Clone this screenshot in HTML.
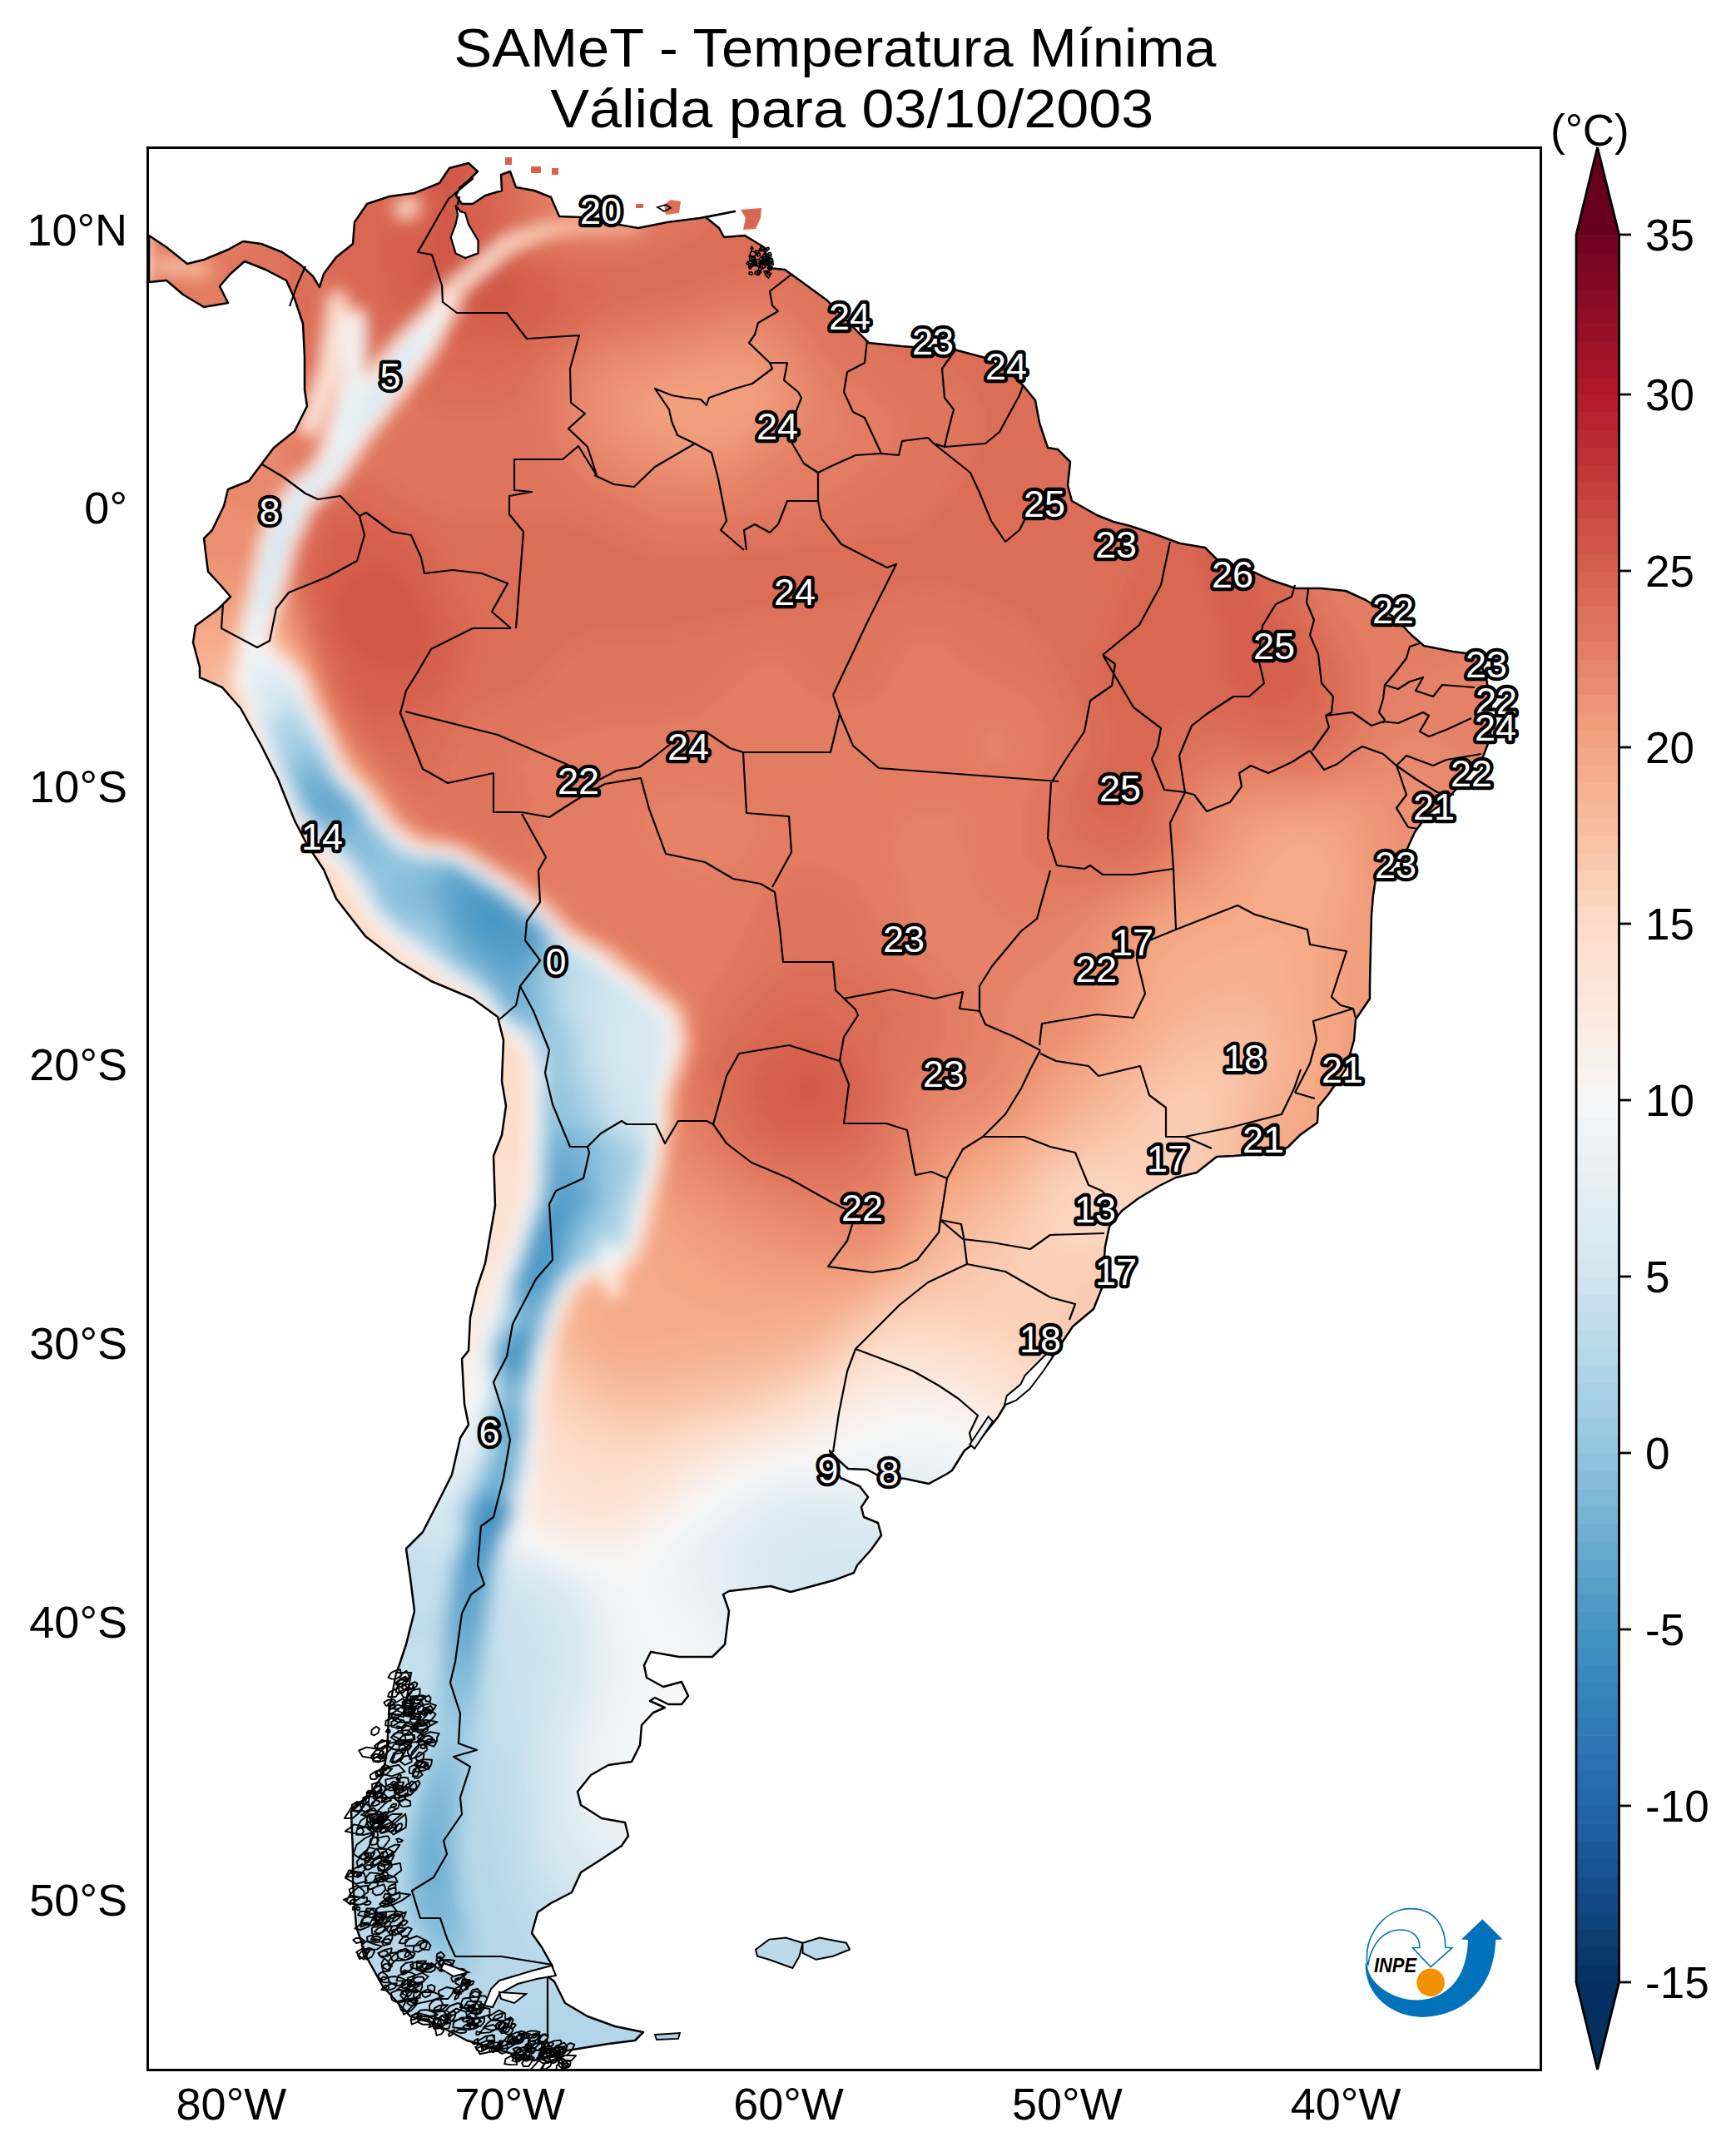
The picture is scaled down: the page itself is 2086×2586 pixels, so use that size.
<!DOCTYPE html>
<html><head><meta charset="utf-8"><style>
html,body{margin:0;padding:0;background:#fff;}
body{width:2086px;height:2586px;overflow:hidden;}
svg{display:block;}
text{font-family:"Liberation Sans",sans-serif;fill:#000;}
</style></head><body>
<svg width="2086" height="2586" viewBox="0 0 2086 2586">
<defs>
<clipPath id="land"><path d="M179,283 L200,297 L225,317 L245,312 L274,300 L292,290 L314,293 L339,303 L361,318 L376,332 L384,345 L389,329 L404,309 L424,293 L426,267 L441,245 L468,236 L498,232 L528,220 L540,202 L563,196 L574,206 L563,217 L553,225 L548,235 L555,245 L568,245 L583,235 L603,229 L602,210 L613,206 L620,225 L642,229 L662,237 L672,260 L697,261 L732,268 L767,274 L802,267 L841,262 L883,254 L848,261 L864,274 L870,285 L895,283 L918,297 L924,322 L943,324 L957,334 L994,361 L1030,398 L1044,412 L1083,416 L1150,421 L1184,430 L1214,448 L1230,464 L1244,481 L1249,508 L1259,538 L1271,540 L1286,555 L1283,583 L1288,602 L1318,619 L1338,627 L1358,632 L1388,642 L1418,653 L1448,658 L1462,672 L1497,683 L1527,697 L1557,707 L1587,707 L1617,710 L1641,721 L1676,742 L1696,763 L1711,776 L1746,783 L1776,787 L1786,816 L1792,846 L1791,886 L1781,912 L1761,935 L1738,962 L1716,978 L1700,1000 L1690,1022 L1671,1042 L1653,1056 L1650,1076 L1648,1100 L1647,1140 L1646,1184 L1646,1200 L1629,1225 L1627,1250 L1617,1285 L1597,1314 L1584,1330 L1583,1349 L1562,1364 L1547,1379 L1522,1386 L1482,1389 L1462,1390 L1438,1409 L1413,1415 L1393,1425 L1368,1440 L1348,1455 L1333,1474 L1328,1498 L1324,1548 L1314,1573 L1289,1594 L1273,1618 L1259,1639 L1239,1658 L1214,1678 L1199,1703 L1179,1728 L1159,1743 L1144,1767 L1138,1771 L1116,1783 L1088,1777 L1057,1774 L1042,1766 L1019,1765 L1007,1754 L997,1743 L1002,1760 L1010,1776 L1033,1786 L1043,1799 L1035,1811 L1038,1823 L1055,1830 L1059,1845 L1047,1862 L1030,1881 L1026,1890 L1002,1899 L950,1913 L926,1906 L876,1912 L869,1916 L876,1936 L871,1976 L856,1991 L816,1991 L782,1985 L774,2001 L777,2016 L797,2027 L819,2021 L827,2038 L819,2048 L803,2048 L787,2040 L781,2044 L799,2052 L785,2058 L771,2073 L769,2097 L759,2117 L731,2121 L710,2133 L694,2153 L698,2169 L723,2185 L751,2190 L755,2206 L747,2218 L723,2234 L698,2250 L687,2274 L662,2287 L646,2298 L639,2323 L651,2340 L664,2363 L650,2369 L666,2381 L679,2407 L706,2423 L739,2435 L773,2442 L763,2452 L731,2456 L682,2464 L642,2476 L602,2464 L561,2452 L521,2431 L493,2423 L460,2387 L440,2351 L428,2315 L424,2262 L424,2226 L422,2177 L444,2157 L460,2133 L465,2105 L467,2065 L477,2008 L478,2006 L488,1976 L498,1936 L493,1896 L488,1861 L508,1841 L528,1802 L543,1772 L553,1728 L563,1712 L558,1687 L555,1633 L563,1623 L565,1583 L573,1548 L583,1518 L590,1478 L595,1449 L593,1389 L603,1364 L608,1329 L603,1299 L605,1250 L598,1222 L568,1200 L518,1179 L478,1155 L439,1125 L404,1080 L389,1045 L369,1015 L354,986 L334,936 L314,896 L289,851 L267,826 L240,814 L240,802 L232,772 L235,752 L262,732 L277,717 L264,702 L250,687 L245,647 L255,637 L269,608 L274,588 L299,578 L314,558 L329,538 L354,518 L369,488 L366,468 L366,429 L364,389 L354,359 L344,337 L319,324 L294,314 L277,329 L264,344 L274,364 L245,369 L220,354 L200,337 L179,339Z"/></clipPath>
<clipPath id="frame"><rect x="178" y="178" width="1673" height="2309"/></clipPath>
<filter id="blur" x="-5%" y="-5%" width="110%" height="110%"><feGaussianBlur stdDeviation="9"/></filter>
</defs>

<g clip-path="url(#frame)"><g clip-path="url(#land)"><g filter="url(#blur)">
<path fill="#4393c3" d="M613 1625h9v9h-9zM579 1809h26v9h-26zM579 1817h26v9h-26zM579 1825h26v9h-26zM571 1834h26v9h-26zM571 1842h26v9h-26zM571 1850h18v9h-18z"/>
<path fill="#4b98c6" d="M571 1081h26v9h-26zM571 1089h43v9h-43zM571 1098h43v9h-43zM571 1106h51v9h-51zM579 1114h43v9h-43zM596 1123h9v9h-9zM663 1449h9v9h-9zM655 1457h18v9h-18zM655 1466h18v9h-18zM655 1474h18v9h-18zM646 1482h18v9h-18zM646 1491h18v9h-18zM646 1499h18v9h-18zM638 1508h26v9h-26zM638 1516h18v9h-18zM638 1524h18v9h-18zM629 1533h18v9h-18zM613 1616h18v9h-18zM604 1625h9v9h-9zM621 1625h9v9h-9zM604 1633h18v9h-18zM579 1800h26v9h-26zM571 1817h9v9h-9zM571 1825h9v9h-9zM563 1850h9v9h-9zM563 1859h26v9h-26zM563 1867h18v9h-18z"/>
<path fill="#539dc8" d="M554 1064h18v9h-18zM554 1073h34v9h-34zM554 1081h18v9h-18zM596 1081h9v9h-9zM554 1089h18v9h-18zM554 1098h18v9h-18zM613 1098h9v9h-9zM563 1106h9v9h-9zM621 1106h9v9h-9zM563 1114h18v9h-18zM621 1114h18v9h-18zM571 1123h26v9h-26zM604 1123h34v9h-34zM579 1131h60v9h-60zM596 1139h34v9h-34zM663 1432h18v9h-18zM663 1441h18v9h-18zM655 1449h9v9h-9zM671 1449h9v9h-9zM671 1457h9v9h-9zM671 1466h9v9h-9zM646 1474h9v9h-9zM663 1482h9v9h-9zM663 1491h9v9h-9zM638 1499h9v9h-9zM663 1499h9v9h-9zM655 1516h9v9h-9zM629 1524h9v9h-9zM646 1533h9v9h-9zM629 1541h18v9h-18zM613 1608h18v9h-18zM604 1616h9v9h-9zM621 1633h9v9h-9zM613 1641h9v9h-9zM571 1809h9v9h-9zM604 1809h9v9h-9zM604 1817h9v9h-9zM596 1834h9v9h-9zM563 1842h9v9h-9zM588 1850h9v9h-9zM579 1867h9v9h-9zM563 1876h18v9h-18zM563 1884h18v9h-18zM563 1892h18v9h-18z"/>
<path fill="#5ba2cb" d="M546 1056h18v9h-18zM546 1064h9v9h-9zM571 1064h9v9h-9zM546 1073h9v9h-9zM588 1073h9v9h-9zM546 1081h9v9h-9zM546 1089h9v9h-9zM546 1098h9v9h-9zM621 1098h9v9h-9zM554 1106h9v9h-9zM629 1106h9v9h-9zM554 1114h9v9h-9zM638 1114h9v9h-9zM563 1123h9v9h-9zM638 1123h9v9h-9zM571 1131h9v9h-9zM638 1131h9v9h-9zM579 1139h18v9h-18zM629 1139h9v9h-9zM596 1148h34v9h-34zM604 1156h18v9h-18zM671 1416h9v9h-9zM663 1424h26v9h-26zM680 1432h9v9h-9zM680 1441h9v9h-9zM680 1449h9v9h-9zM680 1457h9v9h-9zM646 1466h9v9h-9zM671 1474h9v9h-9zM671 1482h9v9h-9zM638 1491h9v9h-9zM663 1508h9v9h-9zM629 1516h9v9h-9zM655 1524h9v9h-9zM646 1541h9v9h-9zM629 1549h18v9h-18zM621 1600h18v9h-18zM629 1608h9v9h-9zM604 1641h9v9h-9zM621 1641h9v9h-9zM588 1792h9v9h-9zM563 1834h9v9h-9zM554 1867h9v9h-9zM554 1876h9v9h-9zM579 1876h9v9h-9zM554 1884h9v9h-9zM554 1892h9v9h-9zM554 1901h26v9h-26zM554 1909h26v9h-26zM554 1917h18v9h-18zM554 1926h18v9h-18z"/>
<path fill="#63a7ce" d="M387 964h18v9h-18zM537 1047h18v9h-18zM537 1056h9v9h-9zM563 1056h9v9h-9zM537 1064h9v9h-9zM579 1064h9v9h-9zM537 1073h9v9h-9zM537 1081h9v9h-9zM604 1081h9v9h-9zM537 1089h9v9h-9zM613 1089h9v9h-9zM537 1098h9v9h-9zM546 1106h9v9h-9zM546 1114h9v9h-9zM554 1123h9v9h-9zM563 1131h9v9h-9zM571 1139h9v9h-9zM638 1139h9v9h-9zM579 1148h18v9h-18zM629 1148h9v9h-9zM588 1156h18v9h-18zM621 1156h9v9h-9zM596 1165h34v9h-34zM671 1399h9v9h-9zM663 1407h26v9h-26zM663 1416h9v9h-9zM680 1416h9v9h-9zM688 1424h9v9h-9zM688 1432h9v9h-9zM655 1441h9v9h-9zM688 1441h9v9h-9zM688 1449h9v9h-9zM680 1466h9v9h-9zM680 1474h9v9h-9zM671 1491h9v9h-9zM671 1499h9v9h-9zM629 1508h9v9h-9zM663 1516h9v9h-9zM621 1533h9v9h-9zM655 1533h9v9h-9zM621 1541h9v9h-9zM621 1549h9v9h-9zM646 1549h9v9h-9zM629 1558h18v9h-18zM629 1591h9v9h-9zM613 1600h9v9h-9zM604 1608h9v9h-9zM629 1616h9v9h-9zM596 1625h9v9h-9zM613 1650h9v9h-9zM604 1708h9v9h-9zM604 1717h9v9h-9zM579 1792h9v9h-9zM596 1792h9v9h-9zM571 1800h9v9h-9zM604 1800h9v9h-9zM563 1817h9v9h-9zM563 1825h9v9h-9zM554 1859h9v9h-9zM588 1859h9v9h-9zM579 1884h9v9h-9zM579 1892h9v9h-9zM546 1909h9v9h-9zM546 1917h9v9h-9zM571 1917h9v9h-9zM546 1926h9v9h-9zM571 1926h9v9h-9zM546 1934h26v9h-26zM546 1943h26v9h-26zM546 1951h26v9h-26z"/>
<path fill="#6aacd0" d="M378 939h9v9h-9zM370 947h34v9h-34zM370 955h43v9h-43zM378 964h9v9h-9zM403 964h18v9h-18zM378 972h43v9h-43zM387 981h26v9h-26zM529 1047h9v9h-9zM529 1056h9v9h-9zM529 1064h9v9h-9zM529 1073h9v9h-9zM596 1073h9v9h-9zM529 1081h9v9h-9zM529 1089h9v9h-9zM537 1106h9v9h-9zM638 1106h9v9h-9zM546 1123h9v9h-9zM646 1123h9v9h-9zM554 1131h9v9h-9zM646 1131h9v9h-9zM563 1139h9v9h-9zM571 1148h9v9h-9zM638 1148h9v9h-9zM579 1156h9v9h-9zM629 1156h9v9h-9zM588 1165h9v9h-9zM629 1165h9v9h-9zM596 1173h34v9h-34zM604 1181h18v9h-18zM671 1382h9v9h-9zM663 1390h26v9h-26zM663 1399h9v9h-9zM680 1399h9v9h-9zM688 1407h9v9h-9zM688 1416h18v9h-18zM696 1424h9v9h-9zM655 1432h9v9h-9zM696 1432h9v9h-9zM696 1441h9v9h-9zM696 1449h9v9h-9zM646 1457h9v9h-9zM688 1457h9v9h-9zM638 1482h9v9h-9zM680 1482h9v9h-9zM671 1508h9v9h-9zM663 1524h9v9h-9zM655 1541h9v9h-9zM621 1558h9v9h-9zM646 1558h9v9h-9zM629 1566h18v9h-18zM629 1583h9v9h-9zM621 1591h9v9h-9zM629 1625h9v9h-9zM596 1633h9v9h-9zM604 1650h9v9h-9zM621 1650h9v9h-9zM604 1700h18v9h-18zM613 1708h9v9h-9zM613 1717h9v9h-9zM604 1725h18v9h-18zM604 1733h9v9h-9zM604 1742h9v9h-9zM604 1750h9v9h-9zM604 1758h9v9h-9zM596 1767h18v9h-18zM596 1775h9v9h-9zM588 1784h18v9h-18zM596 1842h9v9h-9zM546 1892h9v9h-9zM546 1901h9v9h-9zM579 1901h9v9h-9zM571 1934h9v9h-9zM571 1943h9v9h-9zM546 1959h26v9h-26zM546 1968h26v9h-26z"/>
<path fill="#72b1d3" d="M370 930h18v9h-18zM362 939h18v9h-18zM387 939h9v9h-9zM362 947h9v9h-9zM370 964h9v9h-9zM420 972h9v9h-9zM412 981h18v9h-18zM395 989h26v9h-26zM554 1047h9v9h-9zM521 1056h9v9h-9zM521 1064h9v9h-9zM521 1073h9v9h-9zM521 1081h9v9h-9zM529 1098h9v9h-9zM629 1098h9v9h-9zM537 1114h9v9h-9zM646 1114h9v9h-9zM546 1131h9v9h-9zM554 1139h9v9h-9zM646 1139h9v9h-9zM563 1148h9v9h-9zM638 1156h9v9h-9zM588 1173h9v9h-9zM629 1173h9v9h-9zM596 1181h9v9h-9zM621 1181h9v9h-9zM604 1190h26v9h-26zM613 1198h18v9h-18zM621 1206h9v9h-9zM663 1374h26v9h-26zM663 1382h9v9h-9zM680 1382h18v9h-18zM688 1390h9v9h-9zM688 1399h18v9h-18zM696 1407h9v9h-9zM655 1416h9v9h-9zM655 1424h9v9h-9zM705 1424h9v9h-9zM705 1432h9v9h-9zM705 1441h9v9h-9zM696 1457h9v9h-9zM688 1466h9v9h-9zM680 1491h9v9h-9zM671 1516h9v9h-9zM621 1524h9v9h-9zM663 1533h9v9h-9zM629 1574h18v9h-18zM638 1583h9v9h-9zM638 1591h9v9h-9zM596 1616h9v9h-9zM629 1633h9v9h-9zM613 1658h9v9h-9zM613 1683h9v9h-9zM604 1692h18v9h-18zM596 1700h9v9h-9zM596 1708h9v9h-9zM596 1717h9v9h-9zM613 1733h9v9h-9zM613 1742h9v9h-9zM596 1758h9v9h-9zM588 1775h9v9h-9zM604 1775h9v9h-9zM579 1784h9v9h-9zM571 1792h9v9h-9zM563 1809h9v9h-9zM604 1825h9v9h-9zM554 1850h9v9h-9zM588 1867h9v9h-9zM546 1876h9v9h-9zM546 1884h9v9h-9zM579 1909h9v9h-9zM537 1943h9v9h-9zM537 1951h9v9h-9zM571 1951h9v9h-9zM537 1959h9v9h-9zM546 1976h26v9h-26zM546 1984h18v9h-18zM512 2202h18v9h-18zM504 2210h26v9h-26zM504 2219h34v9h-34zM504 2227h34v9h-34zM504 2235h34v9h-34zM504 2244h34v9h-34zM504 2252h34v9h-34zM504 2260h34v9h-34zM529 2269h9v9h-9z"/>
<path fill="#7ab6d6" d="M370 922h18v9h-18zM362 930h9v9h-9zM387 930h9v9h-9zM395 939h9v9h-9zM403 947h9v9h-9zM362 955h9v9h-9zM412 955h9v9h-9zM370 972h9v9h-9zM378 981h9v9h-9zM420 989h9v9h-9zM403 997h26v9h-26zM529 1039h18v9h-18zM521 1047h9v9h-9zM512 1056h9v9h-9zM571 1056h9v9h-9zM512 1064h9v9h-9zM512 1073h9v9h-9zM512 1081h9v9h-9zM521 1089h9v9h-9zM521 1098h9v9h-9zM529 1106h9v9h-9zM537 1123h9v9h-9zM546 1139h9v9h-9zM554 1148h9v9h-9zM571 1156h9v9h-9zM579 1165h9v9h-9zM638 1165h9v9h-9zM629 1181h9v9h-9zM596 1190h9v9h-9zM629 1190h9v9h-9zM604 1198h9v9h-9zM629 1198h9v9h-9zM613 1206h9v9h-9zM629 1206h9v9h-9zM621 1215h18v9h-18zM663 1365h34v9h-34zM688 1374h18v9h-18zM696 1382h9v9h-9zM696 1390h9v9h-9zM655 1399h9v9h-9zM655 1407h9v9h-9zM705 1407h9v9h-9zM705 1416h9v9h-9zM646 1449h9v9h-9zM705 1449h9v9h-9zM638 1474h9v9h-9zM688 1474h9v9h-9zM629 1499h9v9h-9zM680 1499h9v9h-9zM655 1549h9v9h-9zM621 1566h9v9h-9zM646 1566h9v9h-9zM621 1574h9v9h-9zM621 1583h9v9h-9zM613 1591h9v9h-9zM604 1600h9v9h-9zM638 1600h9v9h-9zM596 1641h9v9h-9zM604 1658h9v9h-9zM621 1658h9v9h-9zM613 1666h9v9h-9zM613 1675h9v9h-9zM604 1683h9v9h-9zM596 1725h9v9h-9zM596 1733h9v9h-9zM596 1742h9v9h-9zM596 1750h9v9h-9zM613 1750h9v9h-9zM613 1758h9v9h-9zM588 1767h9v9h-9zM579 1917h9v9h-9zM537 1934h9v9h-9zM571 1959h9v9h-9zM537 1968h9v9h-9zM537 1976h9v9h-9zM537 1984h9v9h-9zM563 1984h9v9h-9zM537 1993h34v9h-34zM546 2001h18v9h-18zM512 2168h26v9h-26zM512 2177h26v9h-26zM504 2185h34v9h-34zM504 2193h34v9h-34zM504 2202h9v9h-9zM529 2202h9v9h-9zM529 2210h9v9h-9zM496 2235h9v9h-9zM496 2244h9v9h-9zM496 2252h9v9h-9zM496 2260h9v9h-9zM504 2269h26v9h-26zM537 2269h9v9h-9zM504 2277h43v9h-43zM504 2285h34v9h-34zM504 2294h34v9h-34z"/>
<path fill="#82bbd9" d="M370 914h9v9h-9zM362 922h9v9h-9zM353 930h9v9h-9zM353 939h9v9h-9zM420 964h9v9h-9zM429 981h9v9h-9zM387 989h9v9h-9zM429 989h9v9h-9zM429 997h9v9h-9zM412 1006h34v9h-34zM429 1014h18v9h-18zM512 1039h18v9h-18zM546 1039h9v9h-9zM504 1047h18v9h-18zM496 1056h18v9h-18zM496 1064h18v9h-18zM588 1064h9v9h-9zM487 1073h26v9h-26zM496 1081h18v9h-18zM512 1089h9v9h-9zM621 1089h9v9h-9zM521 1106h9v9h-9zM529 1114h9v9h-9zM537 1131h9v9h-9zM646 1148h9v9h-9zM563 1156h9v9h-9zM571 1165h9v9h-9zM579 1173h9v9h-9zM638 1173h9v9h-9zM588 1181h9v9h-9zM638 1181h9v9h-9zM638 1190h9v9h-9zM638 1198h9v9h-9zM604 1206h9v9h-9zM638 1206h9v9h-9zM638 1215h9v9h-9zM638 1223h9v9h-9zM663 1357h26v9h-26zM696 1365h9v9h-9zM705 1374h9v9h-9zM655 1382h9v9h-9zM705 1382h9v9h-9zM655 1390h9v9h-9zM705 1390h9v9h-9zM705 1399h9v9h-9zM713 1416h9v9h-9zM713 1424h9v9h-9zM713 1432h9v9h-9zM713 1441h9v9h-9zM705 1457h9v9h-9zM696 1466h9v9h-9zM688 1482h9v9h-9zM680 1508h9v9h-9zM671 1524h9v9h-9zM596 1608h9v9h-9zM638 1608h9v9h-9zM629 1641h9v9h-9zM604 1666h9v9h-9zM621 1666h9v9h-9zM604 1675h9v9h-9zM596 1692h9v9h-9zM621 1700h9v9h-9zM621 1708h9v9h-9zM621 1717h9v9h-9zM588 1758h9v9h-9zM613 1767h9v9h-9zM579 1775h9v9h-9zM604 1784h9v9h-9zM604 1792h9v9h-9zM563 1800h9v9h-9zM588 1876h9v9h-9zM537 1917h9v9h-9zM537 1926h9v9h-9zM579 1926h9v9h-9zM571 1968h9v9h-9zM571 1976h9v9h-9zM537 2001h9v9h-9zM563 2001h9v9h-9zM537 2009h34v9h-34zM546 2018h18v9h-18zM512 2143h26v9h-26zM512 2152h34v9h-34zM512 2160h34v9h-34zM504 2168h9v9h-9zM537 2168h9v9h-9zM504 2177h9v9h-9zM537 2177h9v9h-9zM537 2185h9v9h-9zM537 2193h9v9h-9zM496 2202h9v9h-9zM537 2202h9v9h-9zM496 2210h9v9h-9zM496 2219h9v9h-9zM496 2227h9v9h-9zM537 2227h9v9h-9zM537 2235h9v9h-9zM537 2244h9v9h-9zM537 2252h9v9h-9zM537 2260h9v9h-9zM496 2269h9v9h-9zM496 2277h9v9h-9zM496 2285h9v9h-9zM537 2285h9v9h-9zM537 2294h9v9h-9zM504 2302h43v9h-43zM512 2311h34v9h-34zM521 2319h18v9h-18z"/>
<path fill="#8ac0db" d="M370 905h9v9h-9zM362 914h9v9h-9zM378 914h9v9h-9zM353 922h9v9h-9zM387 922h9v9h-9zM362 964h9v9h-9zM429 972h9v9h-9zM395 997h9v9h-9zM437 997h9v9h-9zM445 1006h9v9h-9zM420 1014h9v9h-9zM445 1014h9v9h-9zM429 1022h34v9h-34zM437 1031h26v9h-26zM479 1039h34v9h-34zM470 1047h34v9h-34zM462 1056h34v9h-34zM462 1064h34v9h-34zM462 1073h26v9h-26zM470 1081h26v9h-26zM613 1081h9v9h-9zM479 1089h34v9h-34zM504 1098h18v9h-18zM521 1114h9v9h-9zM529 1123h9v9h-9zM655 1123h9v9h-9zM655 1131h9v9h-9zM537 1139h9v9h-9zM546 1148h9v9h-9zM554 1156h9v9h-9zM646 1156h9v9h-9zM596 1198h9v9h-9zM646 1198h9v9h-9zM646 1206h9v9h-9zM613 1215h9v9h-9zM646 1215h9v9h-9zM629 1223h9v9h-9zM646 1223h9v9h-9zM663 1332h9v9h-9zM663 1340h9v9h-9zM663 1349h26v9h-26zM688 1357h18v9h-18zM705 1365h9v9h-9zM655 1374h9v9h-9zM713 1374h9v9h-9zM713 1382h9v9h-9zM713 1390h9v9h-9zM713 1399h9v9h-9zM713 1407h9v9h-9zM722 1424h9v9h-9zM713 1449h9v9h-9zM696 1474h9v9h-9zM688 1491h9v9h-9zM621 1516h9v9h-9zM613 1541h9v9h-9zM663 1541h9v9h-9zM613 1549h9v9h-9zM655 1558h9v9h-9zM646 1574h9v9h-9zM613 1583h9v9h-9zM596 1650h9v9h-9zM621 1675h9v9h-9zM621 1683h9v9h-9zM621 1692h9v9h-9zM621 1725h9v9h-9zM588 1750h9v9h-9zM571 1784h9v9h-9zM554 1842h9v9h-9zM546 1867h9v9h-9zM537 1909h9v9h-9zM579 1934h9v9h-9zM571 1984h9v9h-9zM537 2018h9v9h-9zM563 2018h9v9h-9zM537 2026h26v9h-26zM537 2035h26v9h-26zM521 2127h26v9h-26zM512 2135h34v9h-34zM537 2143h9v9h-9zM504 2160h9v9h-9zM496 2193h9v9h-9zM537 2210h9v9h-9zM537 2219h9v9h-9zM546 2294h9v9h-9zM546 2302h9v9h-9zM546 2311h9v9h-9zM512 2319h9v9h-9zM537 2319h9v9h-9zM521 2327h26v9h-26z"/>
<path fill="#92c5de" d="M362 905h9v9h-9zM353 914h9v9h-9zM353 947h9v9h-9zM437 989h9v9h-9zM445 997h9v9h-9zM403 1006h9v9h-9zM412 1014h9v9h-9zM454 1014h9v9h-9zM420 1022h9v9h-9zM462 1022h9v9h-9zM429 1031h9v9h-9zM462 1031h26v9h-26zM437 1039h43v9h-43zM445 1047h26v9h-26zM563 1047h9v9h-9zM454 1056h9v9h-9zM454 1064h9v9h-9zM604 1073h9v9h-9zM462 1081h9v9h-9zM470 1089h9v9h-9zM479 1098h26v9h-26zM504 1106h18v9h-18zM521 1123h9v9h-9zM529 1131h9v9h-9zM655 1139h9v9h-9zM563 1165h9v9h-9zM646 1165h9v9h-9zM646 1173h9v9h-9zM646 1181h9v9h-9zM646 1190h9v9h-9zM621 1223h9v9h-9zM655 1223h9v9h-9zM638 1231h26v9h-26zM663 1298h9v9h-9zM663 1307h18v9h-18zM663 1315h18v9h-18zM663 1324h18v9h-18zM671 1332h9v9h-9zM671 1340h18v9h-18zM688 1349h9v9h-9zM655 1357h9v9h-9zM705 1357h9v9h-9zM655 1365h9v9h-9zM713 1365h9v9h-9zM722 1382h9v9h-9zM722 1390h9v9h-9zM722 1399h9v9h-9zM722 1407h9v9h-9zM722 1416h9v9h-9zM722 1432h9v9h-9zM646 1441h9v9h-9zM722 1441h9v9h-9zM713 1457h9v9h-9zM638 1466h9v9h-9zM705 1466h9v9h-9zM696 1482h9v9h-9zM629 1491h9v9h-9zM688 1499h9v9h-9zM680 1516h9v9h-9zM613 1558h9v9h-9zM613 1566h9v9h-9zM613 1574h9v9h-9zM646 1583h9v9h-9zM604 1591h9v9h-9zM629 1650h9v9h-9zM596 1683h9v9h-9zM588 1700h9v9h-9zM588 1708h9v9h-9zM588 1717h9v9h-9zM579 1767h9v9h-9zM554 1817h9v9h-9zM588 1884h9v9h-9zM537 1901h9v9h-9zM579 1943h9v9h-9zM529 1993h9v9h-9zM571 1993h9v9h-9zM529 2001h9v9h-9zM529 2009h9v9h-9zM529 2018h9v9h-9zM563 2026h9v9h-9zM563 2035h9v9h-9zM537 2043h26v9h-26zM537 2051h26v9h-26zM521 2110h26v9h-26zM521 2118h34v9h-34zM512 2127h9v9h-9zM546 2127h9v9h-9zM546 2135h9v9h-9zM504 2143h9v9h-9zM546 2143h9v9h-9zM504 2152h9v9h-9zM546 2152h9v9h-9zM546 2160h9v9h-9zM546 2168h9v9h-9zM496 2185h9v9h-9zM546 2285h9v9h-9zM496 2294h9v9h-9zM504 2311h9v9h-9zM546 2319h9v9h-9zM512 2327h9v9h-9zM546 2327h9v9h-9zM521 2336h18v9h-18z"/>
<path fill="#98c8e0" d="M362 897h18v9h-18zM353 905h9v9h-9zM378 905h9v9h-9zM345 914h9v9h-9zM345 922h9v9h-9zM345 930h9v9h-9zM395 930h9v9h-9zM370 981h9v9h-9zM454 1006h9v9h-9zM462 1014h9v9h-9zM470 1022h9v9h-9zM487 1031h9v9h-9zM437 1047h9v9h-9zM445 1056h9v9h-9zM579 1056h9v9h-9zM454 1073h9v9h-9zM462 1089h9v9h-9zM638 1098h9v9h-9zM487 1106h18v9h-18zM646 1106h9v9h-9zM504 1114h18v9h-18zM521 1131h9v9h-9zM529 1139h9v9h-9zM537 1148h9v9h-9zM655 1148h9v9h-9zM571 1173h9v9h-9zM655 1198h9v9h-9zM655 1206h9v9h-9zM655 1215h9v9h-9zM663 1231h9v9h-9zM646 1240h26v9h-26zM655 1248h18v9h-18zM655 1257h18v9h-18zM663 1265h9v9h-9zM663 1273h9v9h-9zM663 1282h9v9h-9zM663 1290h18v9h-18zM671 1298h9v9h-9zM680 1307h9v9h-9zM680 1315h9v9h-9zM655 1324h9v9h-9zM680 1324h9v9h-9zM655 1332h9v9h-9zM680 1332h9v9h-9zM655 1340h9v9h-9zM688 1340h9v9h-9zM655 1349h9v9h-9zM696 1349h9v9h-9zM713 1357h9v9h-9zM722 1374h9v9h-9zM730 1399h9v9h-9zM730 1407h9v9h-9zM730 1416h9v9h-9zM730 1424h9v9h-9zM722 1449h9v9h-9zM713 1466h9v9h-9zM705 1474h9v9h-9zM696 1491h9v9h-9zM688 1508h9v9h-9zM596 1600h9v9h-9zM638 1616h9v9h-9zM596 1658h9v9h-9zM596 1675h9v9h-9zM588 1725h9v9h-9zM588 1733h9v9h-9zM621 1733h9v9h-9zM588 1742h9v9h-9zM613 1775h9v9h-9zM563 1792h9v9h-9zM554 1809h9v9h-9zM554 1825h9v9h-9zM554 1834h9v9h-9zM596 1850h9v9h-9zM537 1892h9v9h-9zM588 1892h9v9h-9zM579 1951h9v9h-9zM529 1959h9v9h-9zM529 1968h9v9h-9zM529 1976h9v9h-9zM529 1984h9v9h-9zM571 2001h9v9h-9zM571 2009h9v9h-9zM529 2026h9v9h-9zM529 2035h9v9h-9zM529 2043h9v9h-9zM563 2043h9v9h-9zM529 2051h9v9h-9zM529 2060h34v9h-34zM537 2068h26v9h-26zM529 2093h26v9h-26zM521 2101h34v9h-34zM546 2110h9v9h-9zM512 2118h9v9h-9zM504 2135h9v9h-9zM496 2168h9v9h-9zM496 2177h9v9h-9zM546 2177h9v9h-9zM546 2185h9v9h-9zM546 2193h9v9h-9zM487 2210h9v9h-9zM487 2219h9v9h-9zM487 2227h9v9h-9zM487 2235h9v9h-9zM487 2244h9v9h-9zM487 2252h9v9h-9zM546 2252h9v9h-9zM487 2260h9v9h-9zM546 2260h9v9h-9zM546 2269h9v9h-9zM546 2277h9v9h-9zM496 2302h9v9h-9zM554 2311h9v9h-9zM504 2319h9v9h-9zM554 2319h9v9h-9zM554 2327h9v9h-9zM512 2336h9v9h-9zM537 2336h18v9h-18zM529 2344h18v9h-18z"/>
<path fill="#9fcbe2" d="M362 889h9v9h-9zM353 897h9v9h-9zM345 905h9v9h-9zM403 939h9v9h-9zM412 947h9v9h-9zM353 955h9v9h-9zM420 955h9v9h-9zM362 972h9v9h-9zM378 989h9v9h-9zM387 997h9v9h-9zM496 1031h43v9h-43zM429 1039h9v9h-9zM445 1064h9v9h-9zM454 1081h9v9h-9zM470 1098h9v9h-9zM496 1114h9v9h-9zM512 1123h9v9h-9zM546 1156h9v9h-9zM655 1156h9v9h-9zM655 1165h9v9h-9zM655 1173h9v9h-9zM579 1181h9v9h-9zM655 1181h9v9h-9zM588 1190h9v9h-9zM655 1190h9v9h-9zM604 1215h9v9h-9zM663 1223h9v9h-9zM671 1240h9v9h-9zM646 1248h9v9h-9zM671 1248h9v9h-9zM671 1257h9v9h-9zM655 1265h9v9h-9zM671 1265h9v9h-9zM655 1273h9v9h-9zM671 1273h9v9h-9zM671 1282h9v9h-9zM680 1290h9v9h-9zM655 1298h9v9h-9zM680 1298h9v9h-9zM655 1307h9v9h-9zM655 1315h9v9h-9zM688 1315h9v9h-9zM688 1324h9v9h-9zM688 1332h9v9h-9zM696 1340h9v9h-9zM705 1349h9v9h-9zM722 1365h9v9h-9zM730 1374h9v9h-9zM730 1382h9v9h-9zM730 1390h18v9h-18zM738 1399h9v9h-9zM738 1407h9v9h-9zM738 1416h9v9h-9zM730 1432h9v9h-9zM730 1441h9v9h-9zM722 1457h9v9h-9zM713 1474h9v9h-9zM705 1482h9v9h-9zM705 1491h9v9h-9zM696 1499h9v9h-9zM613 1533h9v9h-9zM671 1533h9v9h-9zM596 1666h9v9h-9zM579 1758h9v9h-9zM571 1775h9v9h-9zM604 1834h9v9h-9zM546 1859h9v9h-9zM588 1901h9v9h-9zM529 1943h9v9h-9zM529 1951h9v9h-9zM579 1959h9v9h-9zM571 2018h9v9h-9zM563 2051h9v9h-9zM563 2060h9v9h-9zM529 2068h9v9h-9zM529 2076h34v9h-34zM529 2085h34v9h-34zM521 2093h9v9h-9zM554 2093h9v9h-9zM554 2101h9v9h-9zM512 2110h9v9h-9zM554 2110h9v9h-9zM554 2118h9v9h-9zM554 2127h9v9h-9zM554 2135h9v9h-9zM496 2160h9v9h-9zM487 2202h9v9h-9zM546 2202h9v9h-9zM546 2210h9v9h-9zM546 2219h9v9h-9zM546 2227h9v9h-9zM546 2235h9v9h-9zM546 2244h9v9h-9zM487 2269h9v9h-9zM487 2277h9v9h-9zM487 2285h9v9h-9zM554 2294h9v9h-9zM554 2302h9v9h-9zM504 2327h9v9h-9zM554 2336h9v9h-9zM521 2344h9v9h-9zM546 2344h18v9h-18zM529 2352h34v9h-34zM529 2361h34v9h-34z"/>
<path fill="#a5cfe3" d="M345 889h18v9h-18zM370 889h9v9h-9zM345 897h9v9h-9zM378 897h9v9h-9zM387 914h9v9h-9zM345 939h9v9h-9zM429 964h9v9h-9zM437 981h9v9h-9zM395 1006h9v9h-9zM479 1022h9v9h-9zM420 1031h9v9h-9zM554 1039h9v9h-9zM479 1106h9v9h-9zM655 1114h9v9h-9zM504 1123h9v9h-9zM663 1139h9v9h-9zM596 1206h9v9h-9zM663 1206h9v9h-9zM663 1215h9v9h-9zM613 1223h9v9h-9zM629 1231h9v9h-9zM671 1231h9v9h-9zM680 1257h9v9h-9zM680 1265h9v9h-9zM680 1273h9v9h-9zM655 1282h9v9h-9zM680 1282h9v9h-9zM655 1290h9v9h-9zM688 1298h9v9h-9zM688 1307h9v9h-9zM696 1324h9v9h-9zM696 1332h9v9h-9zM705 1340h9v9h-9zM713 1349h9v9h-9zM722 1357h9v9h-9zM730 1365h9v9h-9zM738 1374h9v9h-9zM738 1382h18v9h-18zM747 1390h9v9h-9zM747 1399h9v9h-9zM747 1407h9v9h-9zM747 1416h9v9h-9zM738 1424h9v9h-9zM646 1432h9v9h-9zM738 1432h9v9h-9zM730 1449h9v9h-9zM638 1457h9v9h-9zM730 1457h9v9h-9zM722 1466h9v9h-9zM722 1474h9v9h-9zM629 1482h9v9h-9zM713 1482h9v9h-9zM705 1499h9v9h-9zM621 1508h9v9h-9zM696 1508h9v9h-9zM663 1549h9v9h-9zM655 1566h9v9h-9zM604 1583h9v9h-9zM646 1591h9v9h-9zM588 1625h9v9h-9zM629 1658h9v9h-9zM588 1692h9v9h-9zM621 1742h9v9h-9zM537 1884h9v9h-9zM588 1909h9v9h-9zM529 1934h9v9h-9zM579 1968h9v9h-9zM571 2026h9v9h-9zM563 2068h9v9h-9zM563 2076h9v9h-9zM521 2085h9v9h-9zM512 2101h9v9h-9zM504 2127h9v9h-9zM554 2143h9v9h-9zM496 2152h9v9h-9zM554 2152h9v9h-9zM487 2193h9v9h-9zM554 2285h9v9h-9zM487 2294h9v9h-9zM496 2311h9v9h-9zM563 2319h9v9h-9zM563 2327h9v9h-9zM563 2336h9v9h-9zM512 2344h9v9h-9zM563 2344h9v9h-9zM521 2352h9v9h-9zM563 2352h9v9h-9zM521 2361h9v9h-9zM563 2361h9v9h-9zM529 2369h34v9h-34z"/>
<path fill="#abd2e5" d="M345 872h18v9h-18zM337 880h34v9h-34zM337 889h9v9h-9zM337 897h9v9h-9zM337 905h9v9h-9zM337 914h9v9h-9zM445 989h9v9h-9zM403 1014h9v9h-9zM412 1022h9v9h-9zM537 1031h9v9h-9zM437 1056h9v9h-9zM487 1114h9v9h-9zM512 1131h9v9h-9zM663 1131h9v9h-9zM521 1139h9v9h-9zM663 1148h9v9h-9zM663 1156h9v9h-9zM554 1165h9v9h-9zM663 1165h9v9h-9zM663 1173h9v9h-9zM663 1181h9v9h-9zM663 1190h9v9h-9zM663 1198h9v9h-9zM671 1223h9v9h-9zM638 1240h9v9h-9zM680 1240h9v9h-9zM680 1248h9v9h-9zM646 1257h9v9h-9zM688 1290h9v9h-9zM696 1307h9v9h-9zM696 1315h9v9h-9zM705 1332h9v9h-9zM738 1365h9v9h-9zM747 1374h9v9h-9zM755 1382h9v9h-9zM755 1390h9v9h-9zM755 1399h9v9h-9zM755 1407h9v9h-9zM646 1416h9v9h-9zM646 1424h9v9h-9zM747 1424h9v9h-9zM747 1432h9v9h-9zM738 1441h9v9h-9zM738 1449h9v9h-9zM738 1457h9v9h-9zM730 1466h9v9h-9zM730 1474h9v9h-9zM688 1516h9v9h-9zM680 1524h9v9h-9zM588 1616h9v9h-9zM638 1625h9v9h-9zM588 1633h9v9h-9zM579 1750h9v9h-9zM621 1750h9v9h-9zM621 1758h9v9h-9zM613 1784h9v9h-9zM554 1800h9v9h-9zM613 1809h9v9h-9zM596 1859h9v9h-9zM537 1876h9v9h-9zM588 1917h9v9h-9zM529 1926h9v9h-9zM579 1976h9v9h-9zM521 2026h9v9h-9zM521 2035h9v9h-9zM571 2035h9v9h-9zM521 2043h9v9h-9zM571 2043h9v9h-9zM521 2051h9v9h-9zM521 2060h9v9h-9zM521 2068h9v9h-9zM521 2076h9v9h-9zM563 2085h9v9h-9zM563 2093h9v9h-9zM563 2101h9v9h-9zM563 2110h9v9h-9zM504 2118h9v9h-9zM496 2143h9v9h-9zM554 2160h9v9h-9zM554 2168h9v9h-9zM554 2177h9v9h-9zM487 2185h9v9h-9zM554 2185h9v9h-9zM554 2252h9v9h-9zM554 2260h9v9h-9zM554 2269h9v9h-9zM554 2277h9v9h-9zM487 2302h9v9h-9zM563 2302h9v9h-9zM563 2311h9v9h-9zM496 2319h9v9h-9zM504 2336h9v9h-9zM571 2344h9v9h-9zM512 2352h9v9h-9zM571 2352h9v9h-9zM563 2369h9v9h-9z"/>
<path fill="#b2d5e7" d="M337 863h26v9h-26zM328 872h18v9h-18zM362 872h9v9h-9zM328 880h9v9h-9zM454 997h9v9h-9zM462 1006h9v9h-9zM470 1014h9v9h-9zM429 1047h9v9h-9zM596 1064h9v9h-9zM445 1073h9v9h-9zM454 1089h9v9h-9zM629 1089h9v9h-9zM462 1098h9v9h-9zM496 1123h9v9h-9zM529 1148h9v9h-9zM671 1148h9v9h-9zM671 1156h9v9h-9zM563 1173h9v9h-9zM671 1206h9v9h-9zM671 1215h9v9h-9zM680 1231h9v9h-9zM688 1248h9v9h-9zM688 1257h9v9h-9zM646 1265h9v9h-9zM688 1265h9v9h-9zM688 1273h9v9h-9zM688 1282h9v9h-9zM696 1290h9v9h-9zM696 1298h9v9h-9zM705 1307h9v9h-9zM705 1315h9v9h-9zM705 1324h9v9h-9zM713 1340h9v9h-9zM722 1349h9v9h-9zM730 1357h9v9h-9zM755 1374h9v9h-9zM763 1382h9v9h-9zM763 1390h9v9h-9zM646 1399h9v9h-9zM646 1407h9v9h-9zM755 1416h9v9h-9zM755 1424h9v9h-9zM747 1441h9v9h-9zM747 1449h9v9h-9zM738 1466h9v9h-9zM738 1474h9v9h-9zM722 1482h26v9h-26zM713 1491h9v9h-9zM604 1574h9v9h-9zM588 1641h9v9h-9zM588 1683h9v9h-9zM571 1767h9v9h-9zM563 1784h9v9h-9zM613 1800h9v9h-9zM613 1817h9v9h-9zM546 1850h9v9h-9zM529 1917h9v9h-9zM588 1926h9v9h-9zM579 1984h9v9h-9zM521 1993h9v9h-9zM579 1993h9v9h-9zM521 2001h9v9h-9zM521 2009h9v9h-9zM521 2018h9v9h-9zM571 2051h9v9h-9zM571 2060h9v9h-9zM512 2093h9v9h-9zM504 2110h9v9h-9zM563 2118h9v9h-9zM563 2127h9v9h-9zM496 2135h9v9h-9zM563 2135h9v9h-9zM487 2168h9v9h-9zM487 2177h9v9h-9zM554 2193h9v9h-9zM554 2202h9v9h-9zM479 2210h9v9h-9zM554 2210h9v9h-9zM479 2219h9v9h-9zM554 2219h9v9h-9zM479 2227h9v9h-9zM554 2227h9v9h-9zM479 2235h9v9h-9zM554 2235h18v9h-18zM479 2244h9v9h-9zM554 2244h18v9h-18zM479 2252h9v9h-9zM563 2252h9v9h-9zM479 2260h9v9h-9zM563 2260h18v9h-18zM479 2269h9v9h-9zM563 2269h18v9h-18zM479 2277h9v9h-9zM563 2277h18v9h-18zM479 2285h9v9h-9zM563 2285h18v9h-18zM479 2294h9v9h-9zM563 2294h26v9h-26zM571 2302h18v9h-18zM487 2311h9v9h-9zM571 2311h18v9h-18zM487 2319h9v9h-9zM571 2319h18v9h-18zM496 2327h9v9h-9zM571 2327h18v9h-18zM496 2336h9v9h-9zM571 2336h18v9h-18zM504 2344h9v9h-9zM579 2344h9v9h-9zM504 2352h9v9h-9zM579 2352h9v9h-9zM420 2361h9v9h-9zM512 2361h9v9h-9zM571 2361h9v9h-9zM403 2369h34v9h-34zM521 2369h9v9h-9zM571 2369h9v9h-9zM412 2377h18v9h-18zM529 2377h34v9h-34zM412 2386h9v9h-9zM730 2394h26v9h-26zM638 2403h152v9h-152zM613 2411h185v9h-185zM604 2419h202v9h-202zM596 2428h219v9h-219zM588 2436h227v9h-227zM579 2444h235v9h-235zM579 2453h235v9h-235zM571 2461h235v9h-235zM563 2470h235v9h-235zM554 2478h235v9h-235z"/>
<path fill="#b8d8e9" d="M337 855h18v9h-18zM328 863h9v9h-9zM370 880h9v9h-9zM328 889h9v9h-9zM337 922h9v9h-9zM353 964h9v9h-9zM487 1022h9v9h-9zM571 1047h9v9h-9zM470 1106h9v9h-9zM671 1139h9v9h-9zM537 1156h9v9h-9zM680 1156h9v9h-9zM671 1165h18v9h-18zM671 1173h9v9h-9zM671 1181h9v9h-9zM671 1190h9v9h-9zM588 1198h9v9h-9zM671 1198h9v9h-9zM680 1215h9v9h-9zM680 1223h9v9h-9zM688 1231h9v9h-9zM688 1240h9v9h-9zM696 1273h9v9h-9zM696 1282h9v9h-9zM705 1298h9v9h-9zM713 1315h9v9h-9zM713 1324h9v9h-9zM713 1332h9v9h-9zM722 1340h9v9h-9zM730 1349h9v9h-9zM738 1357h9v9h-9zM747 1365h18v9h-18zM763 1374h9v9h-9zM646 1382h9v9h-9zM646 1390h9v9h-9zM763 1399h9v9h-9zM755 1432h9v9h-9zM747 1457h9v9h-9zM621 1499h9v9h-9zM713 1499h9v9h-9zM705 1508h9v9h-9zM613 1524h9v9h-9zM596 1591h9v9h-9zM646 1600h9v9h-9zM588 1608h9v9h-9zM638 1633h9v9h-9zM629 1666h9v9h-9zM579 1708h9v9h-9zM629 1708h9v9h-9zM579 1742h9v9h-9zM621 1767h9v9h-9zM613 1792h9v9h-9zM546 1817h9v9h-9zM537 1867h9v9h-9zM596 1867h9v9h-9zM529 1901h9v9h-9zM529 1909h9v9h-9zM588 1934h9v9h-9zM521 1951h9v9h-9zM521 1959h9v9h-9zM521 1968h9v9h-9zM521 1976h9v9h-9zM521 1984h9v9h-9zM579 2001h9v9h-9zM579 2009h9v9h-9zM571 2068h9v9h-9zM571 2076h9v9h-9zM512 2085h9v9h-9zM571 2085h9v9h-9zM571 2093h9v9h-9zM571 2101h9v9h-9zM496 2127h9v9h-9zM571 2135h9v9h-9zM563 2143h18v9h-18zM563 2152h26v9h-26zM487 2160h9v9h-9zM563 2160h26v9h-26zM563 2168h26v9h-26zM563 2177h34v9h-34zM479 2185h9v9h-9zM563 2185h34v9h-34zM479 2193h9v9h-9zM563 2193h34v9h-34zM479 2202h9v9h-9zM563 2202h34v9h-34zM387 2210h93v9h-93zM563 2210h34v9h-34zM387 2219h93v9h-93zM563 2219h34v9h-34zM387 2227h93v9h-93zM563 2227h43v9h-43zM387 2235h93v9h-93zM571 2235h34v9h-34zM387 2244h93v9h-93zM571 2244h34v9h-34zM387 2252h93v9h-93zM571 2252h34v9h-34zM387 2260h93v9h-93zM579 2260h26v9h-26zM387 2269h93v9h-93zM579 2269h34v9h-34zM387 2277h93v9h-93zM579 2277h34v9h-34zM387 2285h93v9h-93zM579 2285h34v9h-34zM387 2294h93v9h-93zM588 2294h34v9h-34zM387 2302h101v9h-101zM588 2302h34v9h-34zM387 2311h101v9h-101zM588 2311h43v9h-43zM387 2319h101v9h-101zM588 2319h43v9h-43zM387 2327h110v9h-110zM588 2327h51v9h-51zM395 2336h101v9h-101zM588 2336h51v9h-51zM395 2344h110v9h-110zM588 2344h60v9h-60zM395 2352h110v9h-110zM588 2352h76v9h-76zM403 2361h18v9h-18zM429 2361h85v9h-85zM579 2361h118v9h-118zM437 2369h85v9h-85zM579 2369h127v9h-127zM429 2377h101v9h-101zM563 2377h152v9h-152zM420 2386h311v9h-311zM420 2394h311v9h-311zM420 2403h85v9h-85zM537 2403h101v9h-101zM429 2411h68v9h-68zM537 2411h76v9h-76zM437 2419h43v9h-43zM537 2419h68v9h-68zM445 2428h26v9h-26zM537 2428h60v9h-60zM454 2436h9v9h-9zM529 2436h60v9h-60zM529 2444h51v9h-51zM521 2453h60v9h-60zM521 2461h51v9h-51zM512 2470h51v9h-51zM529 2478h26v9h-26z"/>
<path fill="#bedbeb" d="M345 847h9v9h-9zM353 855h9v9h-9zM362 863h9v9h-9zM378 889h9v9h-9zM328 897h9v9h-9zM387 905h9v9h-9zM395 922h9v9h-9zM345 947h9v9h-9zM437 972h9v9h-9zM479 1114h9v9h-9zM663 1123h9v9h-9zM504 1131h9v9h-9zM680 1148h9v9h-9zM688 1156h9v9h-9zM688 1165h9v9h-9zM680 1173h18v9h-18zM571 1181h9v9h-9zM680 1181h18v9h-18zM680 1190h9v9h-9zM680 1198h9v9h-9zM680 1206h9v9h-9zM688 1223h9v9h-9zM621 1231h9v9h-9zM696 1240h9v9h-9zM638 1248h9v9h-9zM696 1248h9v9h-9zM696 1257h9v9h-9zM696 1265h9v9h-9zM705 1282h9v9h-9zM705 1290h9v9h-9zM713 1298h9v9h-9zM713 1307h9v9h-9zM722 1324h9v9h-9zM722 1332h9v9h-9zM747 1357h9v9h-9zM646 1365h9v9h-9zM646 1374h9v9h-9zM763 1407h9v9h-9zM638 1449h9v9h-9zM747 1466h9v9h-9zM629 1474h9v9h-9zM738 1491h9v9h-9zM604 1558h9v9h-9zM604 1566h9v9h-9zM655 1574h9v9h-9zM588 1650h9v9h-9zM588 1675h9v9h-9zM629 1675h9v9h-9zM629 1683h9v9h-9zM629 1692h9v9h-9zM579 1700h9v9h-9zM629 1700h9v9h-9zM579 1717h9v9h-9zM629 1717h9v9h-9zM579 1725h9v9h-9zM579 1733h9v9h-9zM571 1758h9v9h-9zM554 1792h9v9h-9zM546 1809h9v9h-9zM546 1825h9v9h-9zM596 1876h9v9h-9zM529 1892h9v9h-9zM521 1926h9v9h-9zM454 1934h34v9h-34zM521 1934h9v9h-9zM454 1943h76v9h-76zM588 1943h9v9h-9zM454 1951h68v9h-68zM588 1951h9v9h-9zM479 1959h43v9h-43zM588 1959h9v9h-9zM512 1968h9v9h-9zM512 1976h9v9h-9zM512 2018h9v9h-9zM579 2018h9v9h-9zM512 2026h9v9h-9zM579 2026h9v9h-9zM512 2035h9v9h-9zM579 2035h9v9h-9zM512 2043h9v9h-9zM579 2043h9v9h-9zM512 2051h9v9h-9zM579 2051h9v9h-9zM512 2060h9v9h-9zM579 2060h9v9h-9zM512 2068h9v9h-9zM579 2068h9v9h-9zM512 2076h9v9h-9zM579 2076h9v9h-9zM579 2085h9v9h-9zM504 2093h9v9h-9zM579 2093h18v9h-18zM504 2101h9v9h-9zM579 2101h26v9h-26zM571 2110h34v9h-34zM496 2118h9v9h-9zM571 2118h43v9h-43zM571 2127h43v9h-43zM579 2135h34v9h-34zM487 2143h9v9h-9zM579 2143h34v9h-34zM487 2152h9v9h-9zM588 2152h26v9h-26zM387 2160h101v9h-101zM588 2160h26v9h-26zM378 2168h110v9h-110zM588 2168h26v9h-26zM378 2177h110v9h-110zM596 2177h18v9h-18zM378 2185h101v9h-101zM596 2185h26v9h-26zM387 2193h93v9h-93zM596 2193h26v9h-26zM387 2202h93v9h-93zM596 2202h26v9h-26zM596 2210h26v9h-26zM596 2219h26v9h-26zM604 2227h18v9h-18zM604 2235h18v9h-18zM604 2244h18v9h-18zM604 2252h26v9h-26zM604 2260h26v9h-26zM613 2269h18v9h-18zM613 2277h26v9h-26zM613 2285h26v9h-26zM621 2294h26v9h-26zM621 2302h34v9h-34zM629 2311h34v9h-34zM629 2319h43v9h-43zM638 2327h51v9h-51zM638 2336h60v9h-60zM646 2344h51v9h-51zM663 2352h43v9h-43zM696 2361h9v9h-9zM504 2403h34v9h-34zM496 2411h43v9h-43zM479 2419h60v9h-60zM470 2428h68v9h-68zM462 2436h68v9h-68zM462 2444h68v9h-68zM470 2453h51v9h-51zM487 2461h34v9h-34z"/>
<path fill="#c4dfec" d="M345 838h9v9h-9zM337 847h9v9h-9zM353 847h9v9h-9zM320 863h9v9h-9zM320 872h9v9h-9zM328 905h9v9h-9zM546 1031h9v9h-9zM420 1039h9v9h-9zM437 1064h9v9h-9zM445 1081h9v9h-9zM621 1081h9v9h-9zM487 1123h9v9h-9zM512 1139h9v9h-9zM688 1148h9v9h-9zM696 1156h9v9h-9zM546 1165h9v9h-9zM696 1165h18v9h-18zM696 1173h18v9h-18zM696 1181h9v9h-9zM688 1190h18v9h-18zM688 1198h18v9h-18zM688 1206h9v9h-9zM688 1215h18v9h-18zM696 1223h9v9h-9zM696 1231h18v9h-18zM705 1240h9v9h-9zM705 1248h9v9h-9zM705 1257h9v9h-9zM705 1265h9v9h-9zM646 1273h9v9h-9zM705 1273h9v9h-9zM713 1282h9v9h-9zM713 1290h9v9h-9zM722 1307h9v9h-9zM646 1315h9v9h-9zM722 1315h9v9h-9zM646 1324h9v9h-9zM646 1332h9v9h-9zM730 1332h9v9h-9zM646 1340h9v9h-9zM730 1340h9v9h-9zM646 1349h9v9h-9zM738 1349h18v9h-18zM646 1357h9v9h-9zM755 1357h9v9h-9zM763 1365h9v9h-9zM763 1416h9v9h-9zM755 1441h9v9h-9zM747 1474h9v9h-9zM713 1508h9v9h-9zM696 1516h9v9h-9zM671 1541h9v9h-9zM604 1549h9v9h-9zM663 1558h9v9h-9zM638 1641h9v9h-9zM588 1658h9v9h-9zM588 1666h9v9h-9zM563 1775h9v9h-9zM546 1834h9v9h-9zM546 1842h9v9h-9zM604 1842h9v9h-9zM445 1859h9v9h-9zM537 1859h9v9h-9zM445 1867h43v9h-43zM454 1876h60v9h-60zM529 1876h9v9h-9zM454 1884h85v9h-85zM596 1884h9v9h-9zM454 1892h76v9h-76zM596 1892h9v9h-9zM454 1901h76v9h-76zM596 1901h9v9h-9zM454 1909h76v9h-76zM454 1917h76v9h-76zM454 1926h68v9h-68zM487 1934h34v9h-34zM454 1959h26v9h-26zM445 1968h68v9h-68zM588 1968h9v9h-9zM445 1976h68v9h-68zM588 1976h9v9h-9zM445 1984h76v9h-76zM588 1984h18v9h-18zM437 1993h85v9h-85zM588 1993h18v9h-18zM437 2001h85v9h-85zM588 2001h18v9h-18zM437 2009h85v9h-85zM588 2009h18v9h-18zM437 2018h76v9h-76zM588 2018h26v9h-26zM429 2026h85v9h-85zM588 2026h26v9h-26zM429 2035h85v9h-85zM588 2035h26v9h-26zM429 2043h85v9h-85zM588 2043h26v9h-26zM445 2051h68v9h-68zM588 2051h26v9h-26zM470 2060h43v9h-43zM588 2060h34v9h-34zM487 2068h26v9h-26zM588 2068h34v9h-34zM487 2076h26v9h-26zM588 2076h34v9h-34zM487 2085h26v9h-26zM588 2085h34v9h-34zM429 2093h76v9h-76zM596 2093h34v9h-34zM429 2101h76v9h-76zM604 2101h26v9h-26zM420 2110h85v9h-85zM604 2110h26v9h-26zM420 2118h76v9h-76zM613 2118h18v9h-18zM412 2127h85v9h-85zM613 2127h18v9h-18zM403 2135h93v9h-93zM613 2135h18v9h-18zM395 2143h93v9h-93zM613 2143h18v9h-18zM387 2152h101v9h-101zM613 2152h18v9h-18zM613 2160h18v9h-18zM613 2168h18v9h-18zM613 2177h18v9h-18zM621 2185h9v9h-9zM621 2193h9v9h-9zM621 2202h9v9h-9zM621 2210h18v9h-18zM621 2219h18v9h-18zM621 2227h18v9h-18zM621 2235h18v9h-18zM621 2244h18v9h-18zM629 2252h18v9h-18zM629 2260h18v9h-18zM629 2269h26v9h-26zM638 2277h26v9h-26zM638 2285h34v9h-34zM646 2294h34v9h-34zM655 2302h34v9h-34zM663 2311h34v9h-34zM671 2319h18v9h-18z"/>
<path fill="#cbe2ee" d="M337 838h9v9h-9zM328 855h9v9h-9zM370 872h9v9h-9zM320 880h9v9h-9zM337 930h9v9h-9zM362 981h9v9h-9zM370 989h9v9h-9zM378 997h9v9h-9zM496 1022h9v9h-9zM613 1073h9v9h-9zM671 1131h9v9h-9zM680 1139h9v9h-9zM521 1148h9v9h-9zM705 1156h9v9h-9zM713 1165h9v9h-9zM713 1173h9v9h-9zM705 1181h26v9h-26zM579 1190h9v9h-9zM705 1190h26v9h-26zM705 1198h18v9h-18zM696 1206h26v9h-26zM596 1215h9v9h-9zM705 1215h18v9h-18zM604 1223h9v9h-9zM705 1223h18v9h-18zM713 1231h9v9h-9zM629 1240h9v9h-9zM713 1240h9v9h-9zM713 1248h9v9h-9zM713 1257h9v9h-9zM713 1265h9v9h-9zM713 1273h18v9h-18zM646 1282h9v9h-9zM722 1282h9v9h-9zM646 1290h9v9h-9zM722 1290h9v9h-9zM646 1298h9v9h-9zM722 1298h18v9h-18zM646 1307h9v9h-9zM730 1307h9v9h-9zM730 1315h18v9h-18zM730 1324h18v9h-18zM738 1332h18v9h-18zM738 1340h18v9h-18zM755 1349h18v9h-18zM763 1357h9v9h-9zM772 1382h9v9h-9zM772 1390h9v9h-9zM763 1424h9v9h-9zM755 1449h9v9h-9zM747 1482h9v9h-9zM596 1583h9v9h-9zM588 1600h9v9h-9zM646 1608h9v9h-9zM579 1692h9v9h-9zM629 1725h9v9h-9zM571 1750h9v9h-9zM621 1775h9v9h-9zM546 1800h9v9h-9zM454 1834h26v9h-26zM454 1842h51v9h-51zM445 1850h76v9h-76zM537 1850h9v9h-9zM454 1859h85v9h-85zM487 1867h51v9h-51zM512 1876h18v9h-18zM596 1909h9v9h-9zM596 1917h18v9h-18zM596 1926h34v9h-34zM596 1934h43v9h-43zM596 1943h43v9h-43zM596 1951h51v9h-51zM596 1959h51v9h-51zM596 1968h51v9h-51zM596 1976h51v9h-51zM604 1984h51v9h-51zM604 1993h51v9h-51zM604 2001h51v9h-51zM604 2009h43v9h-43zM613 2018h34v9h-34zM613 2026h34v9h-34zM613 2035h34v9h-34zM613 2043h34v9h-34zM429 2051h18v9h-18zM613 2051h34v9h-34zM429 2060h43v9h-43zM621 2060h26v9h-26zM429 2068h60v9h-60zM621 2068h26v9h-26zM429 2076h60v9h-60zM621 2076h26v9h-26zM429 2085h60v9h-60zM621 2085h18v9h-18zM629 2093h9v9h-9zM629 2101h9v9h-9zM629 2110h9v9h-9zM629 2118h9v9h-9zM629 2127h9v9h-9zM629 2135h9v9h-9zM629 2143h18v9h-18zM629 2152h18v9h-18zM629 2160h18v9h-18zM629 2168h18v9h-18zM629 2177h18v9h-18zM629 2185h18v9h-18zM629 2193h18v9h-18zM629 2202h18v9h-18zM638 2210h9v9h-9zM638 2219h9v9h-9zM638 2227h18v9h-18zM638 2235h18v9h-18zM638 2244h18v9h-18zM646 2252h18v9h-18zM646 2260h26v9h-26zM655 2269h26v9h-26zM663 2277h26v9h-26zM671 2285h26v9h-26zM680 2294h43v9h-43zM688 2302h26v9h-26z"/>
<path fill="#d1e5f0" d="M328 638h18v9h-18zM328 646h9v9h-9zM328 654h9v9h-9zM337 830h18v9h-18zM362 855h9v9h-9zM403 930h9v9h-9zM412 939h9v9h-9zM420 947h9v9h-9zM387 1006h9v9h-9zM395 1014h9v9h-9zM479 1014h9v9h-9zM403 1022h9v9h-9zM412 1031h9v9h-9zM588 1056h9v9h-9zM696 1148h9v9h-9zM722 1173h9v9h-9zM730 1181h9v9h-9zM730 1190h18v9h-18zM722 1198h34v9h-34zM722 1206h34v9h-34zM722 1215h26v9h-26zM722 1223h26v9h-26zM722 1231h18v9h-18zM722 1240h18v9h-18zM722 1248h18v9h-18zM638 1257h9v9h-9zM722 1257h18v9h-18zM722 1265h18v9h-18zM730 1273h9v9h-9zM730 1282h9v9h-9zM730 1290h18v9h-18zM738 1298h26v9h-26zM738 1307h34v9h-34zM747 1315h26v9h-26zM747 1324h26v9h-26zM755 1332h26v9h-26zM755 1340h26v9h-26zM772 1349h9v9h-9zM772 1357h9v9h-9zM772 1365h9v9h-9zM772 1374h9v9h-9zM755 1457h9v9h-9zM604 1541h9v9h-9zM655 1583h9v9h-9zM638 1650h9v9h-9zM563 1767h9v9h-9zM554 1784h9v9h-9zM537 1809h9v9h-9zM470 1817h34v9h-34zM537 1817h9v9h-9zM462 1825h60v9h-60zM537 1825h9v9h-9zM479 1834h68v9h-68zM504 1842h43v9h-43zM521 1850h18v9h-18zM1006 1876h51v9h-51zM998 1884h85v9h-85zM604 1892h9v9h-9zM989 1892h85v9h-85zM604 1901h18v9h-18zM989 1901h76v9h-76zM604 1909h34v9h-34zM989 1909h68v9h-68zM613 1917h34v9h-34zM998 1917h60v9h-60zM629 1926h26v9h-26zM998 1926h43v9h-43zM638 1934h26v9h-26zM998 1934h18v9h-18zM638 1943h26v9h-26zM646 1951h26v9h-26zM646 1959h26v9h-26zM646 1968h26v9h-26zM646 1976h26v9h-26zM655 1984h18v9h-18zM655 1993h18v9h-18zM655 2001h18v9h-18zM646 2009h26v9h-26zM646 2018h26v9h-26zM646 2026h26v9h-26zM646 2035h18v9h-18zM646 2043h18v9h-18zM646 2051h18v9h-18zM646 2060h18v9h-18zM646 2068h9v9h-9zM646 2076h9v9h-9zM638 2085h18v9h-18zM638 2093h18v9h-18zM638 2101h18v9h-18zM638 2110h18v9h-18zM638 2118h18v9h-18zM638 2127h18v9h-18zM638 2135h18v9h-18zM646 2143h9v9h-9zM646 2152h9v9h-9zM646 2160h9v9h-9zM646 2168h9v9h-9zM646 2177h9v9h-9zM646 2185h9v9h-9zM646 2193h9v9h-9zM646 2202h9v9h-9zM646 2210h9v9h-9zM646 2219h18v9h-18zM655 2227h9v9h-9zM655 2235h18v9h-18zM655 2244h18v9h-18zM663 2252h18v9h-18zM671 2260h18v9h-18zM680 2269h26v9h-26zM688 2277h34v9h-34zM696 2285h26v9h-26z"/>
<path fill="#d5e7f1" d="M345 612h9v9h-9zM337 621h18v9h-18zM328 629h26v9h-26zM337 646h9v9h-9zM320 654h9v9h-9zM320 663h18v9h-18zM320 671h18v9h-18zM320 679h9v9h-9zM320 688h9v9h-9zM337 822h9v9h-9zM328 838h9v9h-9zM353 838h9v9h-9zM328 847h9v9h-9zM311 855h18v9h-18zM311 863h9v9h-9zM328 914h9v9h-9zM345 955h9v9h-9zM429 955h9v9h-9zM353 972h9v9h-9zM445 981h9v9h-9zM504 1022h9v9h-9zM563 1039h9v9h-9zM429 1056h9v9h-9zM454 1098h9v9h-9zM646 1098h9v9h-9zM496 1131h9v9h-9zM529 1156h9v9h-9zM554 1173h9v9h-9zM738 1181h9v9h-9zM747 1190h9v9h-9zM755 1198h9v9h-9zM588 1206h9v9h-9zM755 1206h18v9h-18zM747 1215h26v9h-26zM747 1223h26v9h-26zM738 1231h26v9h-26zM738 1240h26v9h-26zM738 1248h26v9h-26zM738 1257h26v9h-26zM738 1265h26v9h-26zM738 1273h26v9h-26zM738 1282h34v9h-34zM747 1290h34v9h-34zM763 1298h18v9h-18zM772 1307h9v9h-9zM772 1315h9v9h-9zM772 1324h9v9h-9zM772 1399h9v9h-9zM638 1441h9v9h-9zM629 1466h9v9h-9zM621 1491h9v9h-9zM747 1491h9v9h-9zM738 1499h9v9h-9zM613 1516h9v9h-9zM688 1524h9v9h-9zM680 1533h9v9h-9zM571 1742h9v9h-9zM487 1792h9v9h-9zM546 1792h9v9h-9zM479 1800h34v9h-34zM537 1800h9v9h-9zM479 1809h60v9h-60zM504 1817h34v9h-34zM521 1825h18v9h-18zM613 1825h9v9h-9zM964 1850h93v9h-93zM956 1859h118v9h-118zM948 1867h143v9h-143zM948 1876h60v9h-60zM1056 1876h26v9h-26zM604 1884h9v9h-9zM948 1884h51v9h-51zM613 1892h18v9h-18zM948 1892h43v9h-43zM621 1901h26v9h-26zM956 1901h34v9h-34zM638 1909h26v9h-26zM956 1909h34v9h-34zM646 1917h26v9h-26zM956 1917h43v9h-43zM655 1926h18v9h-18zM964 1926h34v9h-34zM663 1934h18v9h-18zM964 1934h34v9h-34zM663 1943h18v9h-18zM973 1943h18v9h-18zM671 1951h9v9h-9zM671 1959h18v9h-18zM671 1968h18v9h-18zM671 1976h18v9h-18zM671 1984h18v9h-18zM671 1993h18v9h-18zM671 2001h18v9h-18zM671 2009h18v9h-18zM671 2018h9v9h-9zM671 2026h9v9h-9zM663 2035h18v9h-18zM663 2043h18v9h-18zM663 2051h9v9h-9zM663 2060h9v9h-9zM655 2068h18v9h-18zM655 2076h18v9h-18zM655 2085h9v9h-9zM655 2093h9v9h-9zM655 2101h9v9h-9zM655 2110h9v9h-9zM655 2118h9v9h-9zM655 2127h9v9h-9zM655 2135h9v9h-9zM655 2143h9v9h-9zM655 2152h9v9h-9zM655 2160h9v9h-9zM655 2168h9v9h-9zM655 2177h9v9h-9zM655 2185h9v9h-9zM655 2193h9v9h-9zM655 2202h18v9h-18zM655 2210h18v9h-18zM663 2219h9v9h-9zM663 2227h18v9h-18zM671 2235h18v9h-18zM671 2244h26v9h-26zM680 2252h26v9h-26zM688 2260h26v9h-26zM705 2269h34v9h-34zM722 2277h9v9h-9z"/>
<path fill="#d9e9f1" d="M462 445h9v9h-9zM454 454h18v9h-18zM454 462h18v9h-18zM454 470h9v9h-9zM362 587h9v9h-9zM353 596h9v9h-9zM345 604h18v9h-18zM337 612h9v9h-9zM353 612h9v9h-9zM320 646h9v9h-9zM337 654h9v9h-9zM328 679h9v9h-9zM311 688h9v9h-9zM311 696h18v9h-18zM311 704h18v9h-18zM311 713h9v9h-9zM328 813h18v9h-18zM328 822h9v9h-9zM345 822h9v9h-9zM328 830h9v9h-9zM311 838h18v9h-18zM311 847h18v9h-18zM378 880h9v9h-9zM320 889h9v9h-9zM387 897h9v9h-9zM337 939h9v9h-9zM454 989h9v9h-9zM470 1006h9v9h-9zM437 1073h9v9h-9zM462 1106h9v9h-9zM655 1106h9v9h-9zM470 1114h9v9h-9zM713 1156h9v9h-9zM722 1165h9v9h-9zM730 1173h9v9h-9zM772 1215h9v9h-9zM772 1223h18v9h-18zM613 1231h9v9h-9zM763 1231h34v9h-34zM763 1240h34v9h-34zM763 1248h34v9h-34zM763 1257h34v9h-34zM763 1265h26v9h-26zM763 1273h26v9h-26zM772 1282h18v9h-18zM780 1290h9v9h-9zM780 1298h9v9h-9zM763 1432h9v9h-9zM755 1466h9v9h-9zM705 1516h9v9h-9zM596 1574h9v9h-9zM646 1616h9v9h-9zM579 1683h9v9h-9zM629 1733h9v9h-9zM563 1758h9v9h-9zM496 1775h9v9h-9zM554 1775h9v9h-9zM487 1784h43v9h-43zM546 1784h9v9h-9zM496 1792h51v9h-51zM512 1800h26v9h-26zM964 1825h51v9h-51zM948 1834h110v9h-110zM931 1842h152v9h-152zM604 1850h9v9h-9zM922 1850h43v9h-43zM1056 1850h43v9h-43zM922 1859h34v9h-34zM1073 1859h26v9h-26zM922 1867h26v9h-26zM604 1876h9v9h-9zM914 1876h34v9h-34zM613 1884h18v9h-18zM914 1884h34v9h-34zM629 1892h18v9h-18zM922 1892h26v9h-26zM646 1901h18v9h-18zM922 1901h34v9h-34zM663 1909h9v9h-9zM922 1909h34v9h-34zM671 1917h9v9h-9zM931 1917h26v9h-26zM671 1926h18v9h-18zM931 1926h34v9h-34zM680 1934h9v9h-9zM939 1934h26v9h-26zM680 1943h9v9h-9zM939 1943h34v9h-34zM680 1951h18v9h-18zM688 1959h9v9h-9zM688 1968h9v9h-9zM688 1976h9v9h-9zM688 1984h9v9h-9zM688 1993h9v9h-9zM688 2001h9v9h-9zM688 2009h9v9h-9zM680 2018h18v9h-18zM680 2026h18v9h-18zM680 2035h9v9h-9zM680 2043h9v9h-9zM671 2051h18v9h-18zM671 2060h9v9h-9zM671 2068h9v9h-9zM671 2076h9v9h-9zM663 2085h9v9h-9zM663 2093h9v9h-9zM663 2101h9v9h-9zM663 2110h9v9h-9zM663 2118h9v9h-9zM663 2127h9v9h-9zM663 2135h9v9h-9zM663 2143h9v9h-9zM663 2152h9v9h-9zM663 2160h9v9h-9zM663 2168h9v9h-9zM663 2177h9v9h-9zM663 2185h9v9h-9zM663 2193h18v9h-18zM671 2202h9v9h-9zM671 2210h9v9h-9zM671 2219h18v9h-18zM680 2227h18v9h-18zM688 2235h18v9h-18zM696 2244h18v9h-18zM705 2252h26v9h-26zM713 2260h34v9h-34z"/>
<path fill="#dceaf2" d="M487 420h9v9h-9zM479 428h18v9h-18zM470 437h18v9h-18zM470 445h18v9h-18zM470 454h9v9h-9zM445 462h9v9h-9zM445 470h9v9h-9zM437 479h26v9h-26zM437 487h18v9h-18zM437 495h9v9h-9zM362 579h26v9h-26zM353 587h9v9h-9zM370 587h9v9h-9zM345 596h9v9h-9zM362 596h9v9h-9zM311 679h9v9h-9zM328 688h9v9h-9zM320 713h9v9h-9zM311 721h9v9h-9zM328 805h9v9h-9zM320 822h9v9h-9zM303 830h26v9h-26zM303 838h9v9h-9zM311 872h9v9h-9zM395 914h9v9h-9zM462 997h9v9h-9zM512 1022h18v9h-18zM420 1047h9v9h-9zM604 1064h9v9h-9zM445 1089h9v9h-9zM638 1089h9v9h-9zM479 1123h9v9h-9zM504 1139h9v9h-9zM688 1139h9v9h-9zM537 1165h9v9h-9zM563 1181h9v9h-9zM747 1181h9v9h-9zM755 1190h9v9h-9zM763 1198h9v9h-9zM772 1206h9v9h-9zM780 1215h9v9h-9zM789 1223h9v9h-9zM638 1265h9v9h-9zM789 1265h9v9h-9zM789 1273h9v9h-9zM780 1307h9v9h-9zM780 1315h9v9h-9zM780 1324h9v9h-9zM780 1332h9v9h-9zM780 1340h9v9h-9zM604 1533h9v9h-9zM663 1566h9v9h-9zM588 1591h9v9h-9zM571 1708h9v9h-9zM571 1717h9v9h-9zM571 1725h9v9h-9zM571 1733h9v9h-9zM563 1750h9v9h-9zM496 1767h34v9h-34zM554 1767h9v9h-9zM504 1775h51v9h-51zM529 1784h18v9h-18zM621 1784h9v9h-9zM939 1817h110v9h-110zM922 1825h43v9h-43zM1014 1825h68v9h-68zM914 1834h34v9h-34zM1056 1834h43v9h-43zM906 1842h26v9h-26zM1081 1842h18v9h-18zM897 1850h26v9h-26zM604 1859h9v9h-9zM897 1859h26v9h-26zM604 1867h9v9h-9zM897 1867h26v9h-26zM613 1876h18v9h-18zM889 1876h26v9h-26zM629 1884h18v9h-18zM889 1884h26v9h-26zM646 1892h18v9h-18zM897 1892h26v9h-26zM663 1901h9v9h-9zM897 1901h26v9h-26zM671 1909h9v9h-9zM897 1909h26v9h-26zM680 1917h9v9h-9zM906 1917h26v9h-26zM688 1926h9v9h-9zM906 1926h26v9h-26zM688 1934h9v9h-9zM914 1934h26v9h-26zM688 1943h18v9h-18zM914 1943h26v9h-26zM696 1951h9v9h-9zM696 1959h9v9h-9zM696 1968h9v9h-9zM696 1976h9v9h-9zM696 1984h9v9h-9zM696 1993h9v9h-9zM696 2001h9v9h-9zM696 2009h9v9h-9zM696 2018h9v9h-9zM696 2026h9v9h-9zM688 2035h9v9h-9zM688 2043h9v9h-9zM688 2051h9v9h-9zM680 2060h9v9h-9zM680 2068h9v9h-9zM680 2076h9v9h-9zM671 2085h9v9h-9zM671 2093h9v9h-9zM671 2101h9v9h-9zM671 2110h9v9h-9zM671 2118h9v9h-9zM671 2127h9v9h-9zM671 2135h9v9h-9zM671 2143h9v9h-9zM671 2152h9v9h-9zM671 2160h9v9h-9zM671 2168h9v9h-9zM671 2177h9v9h-9zM671 2185h18v9h-18zM680 2193h9v9h-9zM680 2202h18v9h-18zM680 2210h18v9h-18zM688 2219h18v9h-18zM696 2227h18v9h-18zM705 2235h18v9h-18zM713 2244h26v9h-26zM730 2252h26v9h-26zM747 2260h9v9h-9z"/>
<path fill="#e0ecf3" d="M496 403h9v9h-9zM487 412h26v9h-26zM479 420h9v9h-9zM496 420h9v9h-9zM470 428h9v9h-9zM462 437h9v9h-9zM487 437h9v9h-9zM454 445h9v9h-9zM437 470h9v9h-9zM462 470h9v9h-9zM429 487h9v9h-9zM429 495h9v9h-9zM429 504h9v9h-9zM420 520h9v9h-9zM395 546h18v9h-18zM387 554h18v9h-18zM387 562h18v9h-18zM370 571h26v9h-26zM320 638h9v9h-9zM345 638h9v9h-9zM337 663h9v9h-9zM303 721h9v9h-9zM320 721h9v9h-9zM303 730h18v9h-18zM320 797h9v9h-9zM320 805h9v9h-9zM320 813h9v9h-9zM303 822h18v9h-18zM353 830h9v9h-9zM303 847h9v9h-9zM362 847h9v9h-9zM370 863h9v9h-9zM320 897h9v9h-9zM328 922h9v9h-9zM437 964h9v9h-9zM529 1022h9v9h-9zM663 1114h9v9h-9zM705 1148h9v9h-9zM797 1248h9v9h-9zM789 1282h9v9h-9zM780 1349h9v9h-9zM772 1407h9v9h-9zM638 1432h9v9h-9zM755 1474h9v9h-9zM722 1491h18v9h-18zM613 1508h9v9h-9zM671 1549h9v9h-9zM596 1566h9v9h-9zM655 1591h9v9h-9zM579 1625h9v9h-9zM579 1633h9v9h-9zM638 1658h9v9h-9zM571 1700h9v9h-9zM629 1742h9v9h-9zM504 1750h26v9h-26zM504 1758h60v9h-60zM529 1767h26v9h-26zM948 1800h85v9h-85zM922 1809h177v9h-177zM914 1817h26v9h-26zM1048 1817h43v9h-43zM1098 1817h26v9h-26zM906 1825h18v9h-18zM1081 1825h18v9h-18zM897 1834h18v9h-18zM889 1842h18v9h-18zM881 1850h18v9h-18zM872 1859h26v9h-26zM613 1867h9v9h-9zM872 1867h26v9h-26zM629 1876h9v9h-9zM872 1876h18v9h-18zM646 1884h9v9h-9zM872 1884h18v9h-18zM663 1892h9v9h-9zM872 1892h26v9h-26zM671 1901h18v9h-18zM881 1901h18v9h-18zM680 1909h18v9h-18zM881 1909h18v9h-18zM688 1917h9v9h-9zM881 1917h26v9h-26zM696 1926h9v9h-9zM889 1926h18v9h-18zM696 1934h9v9h-9zM897 1934h18v9h-18zM705 1943h9v9h-9zM897 1943h18v9h-18zM705 1951h9v9h-9zM906 1951h9v9h-9zM705 1959h9v9h-9zM906 1959h9v9h-9zM705 1968h9v9h-9zM705 1976h9v9h-9zM705 1984h9v9h-9zM705 1993h9v9h-9zM705 2001h9v9h-9zM705 2009h9v9h-9zM705 2018h9v9h-9zM705 2026h9v9h-9zM696 2035h18v9h-18zM696 2043h9v9h-9zM696 2051h9v9h-9zM688 2060h18v9h-18zM688 2068h9v9h-9zM688 2076h9v9h-9zM680 2085h18v9h-18zM680 2093h9v9h-9zM680 2101h9v9h-9zM680 2110h9v9h-9zM680 2118h9v9h-9zM680 2127h9v9h-9zM680 2135h9v9h-9zM680 2143h9v9h-9zM680 2152h9v9h-9zM680 2160h9v9h-9zM680 2168h9v9h-9zM680 2177h18v9h-18zM688 2185h9v9h-9zM688 2193h18v9h-18zM696 2202h18v9h-18zM696 2210h26v9h-26zM705 2219h26v9h-26zM713 2227h26v9h-26zM722 2235h34v9h-34zM738 2244h34v9h-34zM755 2252h9v9h-9z"/>
<path fill="#e4eef4" d="M504 403h9v9h-9zM445 454h9v9h-9zM470 462h9v9h-9zM429 479h9v9h-9zM420 495h9v9h-9zM420 504h9v9h-9zM437 504h9v9h-9zM420 512h18v9h-18zM412 529h9v9h-9zM395 537h26v9h-26zM403 554h9v9h-9zM378 562h9v9h-9zM328 621h9v9h-9zM353 621h9v9h-9zM311 671h9v9h-9zM328 696h9v9h-9zM303 713h9v9h-9zM303 738h18v9h-18zM303 746h9v9h-9zM303 805h18v9h-18zM295 813h26v9h-26zM295 822h9v9h-9zM487 1014h9v9h-9zM579 1047h9v9h-9zM487 1131h9v9h-9zM512 1148h9v9h-9zM738 1173h9v9h-9zM579 1198h9v9h-9zM789 1215h9v9h-9zM797 1231h9v9h-9zM797 1240h9v9h-9zM797 1257h9v9h-9zM789 1290h9v9h-9zM780 1357h9v9h-9zM763 1441h9v9h-9zM629 1457h9v9h-9zM621 1482h9v9h-9zM579 1616h9v9h-9zM579 1641h9v9h-9zM579 1675h9v9h-9zM512 1742h34v9h-34zM563 1742h9v9h-9zM529 1750h34v9h-34zM629 1750h9v9h-9zM621 1792h9v9h-9zM939 1792h202v9h-202zM914 1800h34v9h-34zM1031 1800h127v9h-127zM906 1809h18v9h-18zM1098 1809h51v9h-51zM897 1817h18v9h-18zM1123 1817h9v9h-9zM881 1825h26v9h-26zM613 1834h9v9h-9zM872 1834h26v9h-26zM864 1842h26v9h-26zM864 1850h18v9h-18zM855 1859h18v9h-18zM621 1867h9v9h-9zM855 1867h18v9h-18zM638 1876h18v9h-18zM855 1876h18v9h-18zM655 1884h18v9h-18zM855 1884h18v9h-18zM671 1892h18v9h-18zM855 1892h18v9h-18zM688 1901h9v9h-9zM855 1901h26v9h-26zM696 1909h9v9h-9zM864 1909h18v9h-18zM696 1917h9v9h-9zM864 1917h18v9h-18zM705 1926h9v9h-9zM872 1926h18v9h-18zM705 1934h9v9h-9zM872 1934h26v9h-26zM713 1943h9v9h-9zM881 1943h18v9h-18zM713 1951h9v9h-9zM889 1951h18v9h-18zM713 1959h9v9h-9zM889 1959h18v9h-18zM713 1968h9v9h-9zM897 1968h18v9h-18zM713 1976h9v9h-9zM897 1976h18v9h-18zM713 1984h9v9h-9zM713 1993h9v9h-9zM713 2001h9v9h-9zM713 2009h9v9h-9zM713 2018h9v9h-9zM713 2026h9v9h-9zM713 2035h9v9h-9zM705 2043h9v9h-9zM705 2051h9v9h-9zM705 2060h9v9h-9zM696 2068h9v9h-9zM696 2076h9v9h-9zM696 2085h9v9h-9zM688 2093h9v9h-9zM688 2101h9v9h-9zM688 2110h9v9h-9zM688 2118h9v9h-9zM688 2127h9v9h-9zM688 2135h9v9h-9zM688 2143h9v9h-9zM688 2152h9v9h-9zM688 2160h18v9h-18zM688 2168h18v9h-18zM696 2177h18v9h-18zM696 2185h18v9h-18zM705 2193h18v9h-18zM713 2202h18v9h-18zM722 2210h26v9h-26zM730 2219h34v9h-34zM738 2227h43v9h-43zM755 2235h26v9h-26z"/>
<path fill="#e8f0f4" d="M504 395h18v9h-18zM487 403h9v9h-9zM496 428h9v9h-9zM420 445h9v9h-9zM420 454h9v9h-9zM412 462h18v9h-18zM412 470h18v9h-18zM412 479h9v9h-9zM412 487h18v9h-18zM403 495h18v9h-18zM445 495h9v9h-9zM403 504h18v9h-18zM403 512h18v9h-18zM395 520h26v9h-26zM395 529h18v9h-18zM420 529h9v9h-9zM395 571h9v9h-9zM387 579h9v9h-9zM337 604h9v9h-9zM362 604h9v9h-9zM303 704h9v9h-9zM311 746h9v9h-9zM303 755h9v9h-9zM295 797h26v9h-26zM328 797h9v9h-9zM295 805h9v9h-9zM337 805h9v9h-9zM345 813h9v9h-9zM303 855h9v9h-9zM320 905h9v9h-9zM345 964h9v9h-9zM554 1031h9v9h-9zM412 1039h9v9h-9zM429 1064h9v9h-9zM680 1131h9v9h-9zM722 1156h9v9h-9zM730 1165h9v9h-9zM546 1173h9v9h-9zM571 1190h9v9h-9zM797 1223h9v9h-9zM621 1240h9v9h-9zM629 1248h9v9h-9zM797 1265h9v9h-9zM638 1273h9v9h-9zM638 1416h9v9h-9zM638 1424h9v9h-9zM722 1499h9v9h-9zM747 1499h9v9h-9zM722 1508h9v9h-9zM713 1516h9v9h-9zM596 1558h9v9h-9zM579 1608h9v9h-9zM646 1625h9v9h-9zM579 1650h9v9h-9zM579 1658h9v9h-9zM579 1666h9v9h-9zM571 1692h9v9h-9zM512 1725h26v9h-26zM563 1725h9v9h-9zM512 1733h60v9h-60zM546 1742h18v9h-18zM629 1758h9v9h-9zM1073 1767h68v9h-68zM1014 1775h143v9h-143zM931 1784h235v9h-235zM914 1792h26v9h-26zM1140 1792h34v9h-34zM621 1800h9v9h-9zM897 1800h18v9h-18zM1157 1800h9v9h-9zM889 1809h18v9h-18zM881 1817h18v9h-18zM864 1825h18v9h-18zM855 1834h18v9h-18zM847 1842h18v9h-18zM839 1850h26v9h-26zM613 1859h9v9h-9zM839 1859h18v9h-18zM629 1867h18v9h-18zM830 1867h26v9h-26zM655 1876h9v9h-9zM830 1876h26v9h-26zM671 1884h9v9h-9zM830 1884h26v9h-26zM688 1892h9v9h-9zM839 1892h18v9h-18zM696 1901h9v9h-9zM839 1901h18v9h-18zM705 1909h9v9h-9zM839 1909h26v9h-26zM705 1917h9v9h-9zM847 1917h18v9h-18zM713 1926h9v9h-9zM855 1926h18v9h-18zM713 1934h9v9h-9zM855 1934h18v9h-18zM722 1943h9v9h-9zM864 1943h18v9h-18zM722 1951h9v9h-9zM872 1951h18v9h-18zM722 1959h9v9h-9zM872 1959h18v9h-18zM722 1968h9v9h-9zM881 1968h18v9h-18zM722 1976h9v9h-9zM881 1976h18v9h-18zM722 1984h18v9h-18zM889 1984h18v9h-18zM722 1993h18v9h-18zM897 1993h9v9h-9zM722 2001h18v9h-18zM722 2009h18v9h-18zM722 2018h9v9h-9zM722 2026h9v9h-9zM722 2035h9v9h-9zM713 2043h18v9h-18zM713 2051h9v9h-9zM713 2060h9v9h-9zM705 2068h18v9h-18zM705 2076h9v9h-9zM705 2085h9v9h-9zM696 2093h18v9h-18zM696 2101h9v9h-9zM696 2110h9v9h-9zM696 2118h9v9h-9zM696 2127h9v9h-9zM696 2135h9v9h-9zM696 2143h18v9h-18zM696 2152h18v9h-18zM705 2160h18v9h-18zM705 2168h26v9h-26zM713 2177h26v9h-26zM713 2185h34v9h-34zM722 2193h43v9h-43zM730 2202h51v9h-51zM747 2210h51v9h-51zM763 2219h26v9h-26zM780 2227h9v9h-9z"/>
<path fill="#ecf2f5" d="M504 387h18v9h-18zM496 395h9v9h-9zM420 403h9v9h-9zM512 403h9v9h-9zM420 412h9v9h-9zM479 412h9v9h-9zM420 420h9v9h-9zM504 420h9v9h-9zM420 428h9v9h-9zM420 437h9v9h-9zM412 445h9v9h-9zM412 454h9v9h-9zM479 454h9v9h-9zM437 462h9v9h-9zM420 479h9v9h-9zM403 487h9v9h-9zM454 487h9v9h-9zM387 546h9v9h-9zM412 546h9v9h-9zM345 587h9v9h-9zM378 587h9v9h-9zM370 596h9v9h-9zM337 671h9v9h-9zM320 730h9v9h-9zM295 755h9v9h-9zM311 755h9v9h-9zM295 763h18v9h-18zM295 788h34v9h-34zM295 830h9v9h-9zM311 880h9v9h-9zM387 889h9v9h-9zM337 947h9v9h-9zM362 989h9v9h-9zM370 997h9v9h-9zM378 1006h9v9h-9zM437 1081h9v9h-9zM671 1123h9v9h-9zM696 1139h9v9h-9zM521 1156h9v9h-9zM755 1181h9v9h-9zM763 1190h9v9h-9zM772 1198h9v9h-9zM780 1206h9v9h-9zM596 1223h9v9h-9zM789 1298h9v9h-9zM780 1365h9v9h-9zM638 1382h9v9h-9zM638 1390h9v9h-9zM638 1399h9v9h-9zM638 1407h9v9h-9zM772 1416h9v9h-9zM763 1449h9v9h-9zM755 1482h9v9h-9zM604 1524h9v9h-9zM696 1524h9v9h-9zM588 1583h9v9h-9zM638 1666h9v9h-9zM563 1708h9v9h-9zM512 1717h43v9h-43zM563 1717h9v9h-9zM537 1725h26v9h-26zM1098 1742h18v9h-18zM1065 1750h76v9h-76zM1040 1758h118v9h-118zM629 1767h9v9h-9zM981 1767h93v9h-93zM1140 1767h34v9h-34zM931 1775h85v9h-85zM1157 1775h26v9h-26zM914 1784h18v9h-18zM1165 1784h18v9h-18zM897 1792h18v9h-18zM881 1800h18v9h-18zM621 1809h9v9h-9zM872 1809h18v9h-18zM864 1817h18v9h-18zM855 1825h9v9h-9zM839 1834h18v9h-18zM613 1842h9v9h-9zM830 1842h18v9h-18zM613 1850h9v9h-9zM830 1850h9v9h-9zM621 1859h18v9h-18zM822 1859h18v9h-18zM646 1867h9v9h-9zM814 1867h18v9h-18zM663 1876h18v9h-18zM814 1876h18v9h-18zM680 1884h18v9h-18zM814 1884h18v9h-18zM696 1892h9v9h-9zM814 1892h26v9h-26zM705 1901h9v9h-9zM814 1901h26v9h-26zM713 1909h9v9h-9zM822 1909h18v9h-18zM713 1917h18v9h-18zM822 1917h26v9h-26zM722 1926h9v9h-9zM830 1926h26v9h-26zM722 1934h18v9h-18zM839 1934h18v9h-18zM730 1943h9v9h-9zM839 1943h26v9h-26zM730 1951h9v9h-9zM847 1951h26v9h-26zM730 1959h9v9h-9zM855 1959h18v9h-18zM730 1968h18v9h-18zM855 1968h26v9h-26zM730 1976h18v9h-18zM864 1976h18v9h-18zM738 1984h9v9h-9zM872 1984h18v9h-18zM738 1993h9v9h-9zM872 1993h26v9h-26zM738 2001h9v9h-9zM881 2001h18v9h-18zM738 2009h9v9h-9zM730 2018h18v9h-18zM730 2026h18v9h-18zM730 2035h9v9h-9zM730 2043h9v9h-9zM722 2051h18v9h-18zM722 2060h18v9h-18zM722 2068h9v9h-9zM713 2076h18v9h-18zM713 2085h18v9h-18zM713 2093h9v9h-9zM705 2101h18v9h-18zM705 2110h18v9h-18zM705 2118h18v9h-18zM705 2127h26v9h-26zM705 2135h26v9h-26zM713 2143h26v9h-26zM713 2152h34v9h-34zM722 2160h43v9h-43zM730 2168h60v9h-60zM738 2177h51v9h-51zM747 2185h43v9h-43zM763 2193h34v9h-34zM780 2202h18v9h-18z"/>
<path fill="#eff3f6" d="M420 378h9v9h-9zM420 387h9v9h-9zM521 387h9v9h-9zM420 395h9v9h-9zM470 420h9v9h-9zM412 437h9v9h-9zM429 470h9v9h-9zM395 512h9v9h-9zM429 520h9v9h-9zM311 663h9v9h-9zM328 704h9v9h-9zM295 746h9v9h-9zM295 771h18v9h-18zM295 780h18v9h-18zM353 822h9v9h-9zM362 838h9v9h-9zM378 872h9v9h-9zM403 922h9v9h-9zM328 930h9v9h-9zM353 981h9v9h-9zM387 1014h9v9h-9zM395 1022h9v9h-9zM537 1022h9v9h-9zM403 1031h9v9h-9zM629 1081h9v9h-9zM496 1139h9v9h-9zM588 1215h9v9h-9zM604 1231h9v9h-9zM797 1273h9v9h-9zM638 1332h9v9h-9zM638 1340h9v9h-9zM638 1349h9v9h-9zM638 1357h9v9h-9zM638 1365h9v9h-9zM638 1374h9v9h-9zM780 1374h9v9h-9zM780 1382h9v9h-9zM629 1449h9v9h-9zM763 1457h9v9h-9zM621 1474h9v9h-9zM613 1499h9v9h-9zM730 1499h9v9h-9zM738 1508h9v9h-9zM596 1549h9v9h-9zM579 1600h9v9h-9zM655 1600h9v9h-9zM638 1675h9v9h-9zM571 1683h9v9h-9zM638 1683h9v9h-9zM638 1692h9v9h-9zM521 1700h18v9h-18zM563 1700h9v9h-9zM638 1700h9v9h-9zM521 1708h43v9h-43zM638 1708h9v9h-9zM554 1717h9v9h-9zM638 1717h9v9h-9zM1065 1733h76v9h-76zM1048 1742h51v9h-51zM1115 1742h43v9h-43zM1023 1750h43v9h-43zM1140 1750h34v9h-34zM981 1758h60v9h-60zM1157 1758h26v9h-26zM931 1767h51v9h-51zM1174 1767h18v9h-18zM906 1775h26v9h-26zM897 1784h18v9h-18zM881 1792h18v9h-18zM872 1800h9v9h-9zM855 1809h18v9h-18zM847 1817h18v9h-18zM839 1825h18v9h-18zM830 1834h9v9h-9zM822 1842h9v9h-9zM621 1850h9v9h-9zM814 1850h18v9h-18zM638 1859h9v9h-9zM805 1859h18v9h-18zM655 1867h18v9h-18zM797 1867h18v9h-18zM680 1876h9v9h-9zM797 1876h18v9h-18zM696 1884h9v9h-9zM797 1884h18v9h-18zM705 1892h18v9h-18zM789 1892h26v9h-26zM713 1901h18v9h-18zM789 1901h26v9h-26zM722 1909h18v9h-18zM797 1909h26v9h-26zM730 1917h18v9h-18zM797 1917h26v9h-26zM730 1926h18v9h-18zM805 1926h26v9h-26zM738 1934h18v9h-18zM805 1934h34v9h-34zM738 1943h18v9h-18zM814 1943h26v9h-26zM738 1951h18v9h-18zM822 1951h26v9h-26zM738 1959h18v9h-18zM830 1959h26v9h-26zM747 1968h18v9h-18zM830 1968h26v9h-26zM747 1976h18v9h-18zM839 1976h26v9h-26zM747 1984h18v9h-18zM847 1984h26v9h-26zM747 1993h18v9h-18zM855 1993h18v9h-18zM747 2001h18v9h-18zM855 2001h26v9h-26zM747 2009h18v9h-18zM864 2009h26v9h-26zM747 2018h18v9h-18zM872 2018h9v9h-9zM747 2026h18v9h-18zM738 2035h26v9h-26zM738 2043h18v9h-18zM738 2051h18v9h-18zM738 2060h18v9h-18zM730 2068h26v9h-26zM730 2076h18v9h-18zM730 2085h18v9h-18zM722 2093h26v9h-26zM722 2101h26v9h-26zM722 2110h34v9h-34zM722 2118h43v9h-43zM730 2127h43v9h-43zM730 2135h68v9h-68zM738 2143h51v9h-51zM747 2152h26v9h-26zM763 2160h18v9h-18z"/>
<path fill="#f3f5f6" d="M512 378h18v9h-18zM412 420h9v9h-9zM412 428h9v9h-9zM462 428h9v9h-9zM487 445h9v9h-9zM403 479h9v9h-9zM462 479h9v9h-9zM353 579h9v9h-9zM345 646h9v9h-9zM303 696h9v9h-9zM295 738h9v9h-9zM311 780h9v9h-9zM370 855h9v9h-9zM303 863h9v9h-9zM395 905h9v9h-9zM445 972h9v9h-9zM420 1056h9v9h-9zM445 1098h9v9h-9zM454 1106h9v9h-9zM462 1114h9v9h-9zM470 1123h9v9h-9zM713 1148h9v9h-9zM529 1165h9v9h-9zM554 1181h9v9h-9zM629 1257h9v9h-9zM638 1282h9v9h-9zM638 1290h9v9h-9zM638 1298h9v9h-9zM638 1307h9v9h-9zM789 1307h9v9h-9zM638 1315h9v9h-9zM638 1324h9v9h-9zM780 1390h9v9h-9zM772 1424h9v9h-9zM730 1508h9v9h-9zM596 1541h9v9h-9zM680 1541h9v9h-9zM588 1574h9v9h-9zM663 1574h9v9h-9zM646 1633h9v9h-9zM571 1675h9v9h-9zM521 1692h51v9h-51zM537 1700h26v9h-26zM1073 1717h60v9h-60zM638 1725h9v9h-9zM1048 1725h101v9h-101zM1031 1733h34v9h-34zM1140 1733h26v9h-26zM1006 1742h43v9h-43zM1157 1742h26v9h-26zM981 1750h43v9h-43zM1174 1750h18v9h-18zM939 1758h43v9h-43zM1182 1758h18v9h-18zM914 1767h18v9h-18zM629 1775h9v9h-9zM897 1775h9v9h-9zM881 1784h18v9h-18zM864 1792h18v9h-18zM855 1800h18v9h-18zM847 1809h9v9h-9zM621 1817h9v9h-9zM830 1817h18v9h-18zM822 1825h18v9h-18zM814 1834h18v9h-18zM621 1842h9v9h-9zM805 1842h18v9h-18zM629 1850h9v9h-9zM797 1850h18v9h-18zM646 1859h9v9h-9zM789 1859h18v9h-18zM671 1867h9v9h-9zM780 1867h18v9h-18zM688 1876h18v9h-18zM772 1876h26v9h-26zM705 1884h18v9h-18zM772 1884h26v9h-26zM722 1892h26v9h-26zM755 1892h34v9h-34zM730 1901h60v9h-60zM738 1909h60v9h-60zM747 1917h51v9h-51zM747 1926h60v9h-60zM755 1934h51v9h-51zM755 1943h60v9h-60zM755 1951h68v9h-68zM755 1959h76v9h-76zM763 1968h68v9h-68zM763 1976h76v9h-76zM763 1984h85v9h-85zM763 1993h93v9h-93zM763 2001h93v9h-93zM763 2009h43v9h-43zM814 2009h51v9h-51zM763 2018h34v9h-34zM830 2018h43v9h-43zM763 2026h34v9h-34zM839 2026h34v9h-34zM763 2035h34v9h-34zM847 2035h18v9h-18zM755 2043h43v9h-43zM855 2043h9v9h-9zM755 2051h43v9h-43zM755 2060h43v9h-43zM755 2068h43v9h-43zM747 2076h51v9h-51zM747 2085h60v9h-60zM747 2093h60v9h-60zM747 2101h60v9h-60zM755 2110h51v9h-51zM763 2118h43v9h-43zM772 2127h26v9h-26z"/>
<path fill="#f7f7f7" d="M521 370h18v9h-18zM521 395h9v9h-9zM412 412h9v9h-9zM454 437h9v9h-9zM429 462h9v9h-9zM403 562h9v9h-9zM362 571h9v9h-9zM320 629h9v9h-9zM311 763h9v9h-9zM286 805h9v9h-9zM286 813h9v9h-9zM295 838h9v9h-9zM311 889h9v9h-9zM320 914h9v9h-9zM479 1006h9v9h-9zM596 1056h9v9h-9zM479 1131h9v9h-9zM504 1148h9v9h-9zM747 1173h9v9h-9zM797 1215h9v9h-9zM755 1491h9v9h-9zM604 1516h9v9h-9zM722 1516h18v9h-18zM730 1524h9v9h-9zM688 1533h9v9h-9zM730 1533h9v9h-9zM671 1558h9v9h-9zM579 1591h9v9h-9zM646 1641h9v9h-9zM571 1658h9v9h-9zM571 1666h9v9h-9zM521 1675h26v9h-26zM521 1683h51v9h-51zM1056 1708h85v9h-85zM1040 1717h34v9h-34zM1132 1717h26v9h-26zM1023 1725h26v9h-26zM1148 1725h26v9h-26zM1006 1733h26v9h-26zM1165 1733h18v9h-18zM981 1742h26v9h-26zM1182 1742h18v9h-18zM939 1750h43v9h-43zM1190 1750h18v9h-18zM914 1758h26v9h-26zM897 1767h18v9h-18zM881 1775h18v9h-18zM864 1784h18v9h-18zM855 1792h9v9h-9zM839 1800h18v9h-18zM830 1809h18v9h-18zM822 1817h9v9h-9zM621 1825h9v9h-9zM814 1825h9v9h-9zM621 1834h9v9h-9zM805 1834h9v9h-9zM789 1842h18v9h-18zM638 1850h9v9h-9zM780 1850h18v9h-18zM655 1859h18v9h-18zM772 1859h18v9h-18zM680 1867h18v9h-18zM763 1867h18v9h-18zM705 1876h26v9h-26zM747 1876h26v9h-26zM722 1884h51v9h-51zM747 1892h9v9h-9zM805 2009h9v9h-9zM797 2018h34v9h-34zM797 2026h43v9h-43zM797 2035h51v9h-51zM797 2043h60v9h-60zM797 2051h68v9h-68zM797 2060h60v9h-60zM797 2068h60v9h-60zM797 2076h51v9h-51zM805 2085h26v9h-26z"/>
<path fill="#f8f4f2" d="M529 378h9v9h-9zM429 387h9v9h-9zM429 395h9v9h-9zM412 403h9v9h-9zM429 403h9v9h-9zM512 412h9v9h-9zM437 512h9v9h-9zM420 537h9v9h-9zM353 629h9v9h-9zM311 654h9v9h-9zM337 679h9v9h-9zM320 738h9v9h-9zM311 771h9v9h-9zM286 780h9v9h-9zM286 788h9v9h-9zM286 797h9v9h-9zM337 797h9v9h-9zM345 805h9v9h-9zM412 930h9v9h-9zM420 939h9v9h-9zM429 947h9v9h-9zM337 955h9v9h-9zM345 972h9v9h-9zM496 1014h9v9h-9zM571 1039h9v9h-9zM412 1047h9v9h-9zM429 1073h9v9h-9zM621 1073h9v9h-9zM437 1089h9v9h-9zM537 1173h9v9h-9zM563 1190h9v9h-9zM579 1206h9v9h-9zM789 1206h9v9h-9zM613 1240h9v9h-9zM805 1240h9v9h-9zM805 1248h9v9h-9zM797 1282h9v9h-9zM789 1315h9v9h-9zM629 1441h9v9h-9zM621 1466h9v9h-9zM763 1466h9v9h-9zM613 1491h9v9h-9zM596 1533h9v9h-9zM730 1541h9v9h-9zM588 1566h9v9h-9zM571 1616h9v9h-9zM571 1625h9v9h-9zM571 1633h9v9h-9zM571 1641h9v9h-9zM571 1650h9v9h-9zM512 1658h34v9h-34zM521 1666h51v9h-51zM546 1675h26v9h-26zM1081 1692h43v9h-43zM1048 1700h101v9h-101zM1031 1708h26v9h-26zM1140 1708h26v9h-26zM1014 1717h26v9h-26zM1157 1717h26v9h-26zM998 1725h26v9h-26zM1174 1725h18v9h-18zM981 1733h26v9h-26zM1182 1733h26v9h-26zM948 1742h34v9h-34zM1199 1742h18v9h-18zM922 1750h18v9h-18zM897 1758h18v9h-18zM881 1767h18v9h-18zM864 1775h18v9h-18zM629 1784h9v9h-9zM855 1784h9v9h-9zM839 1792h18v9h-18zM830 1800h9v9h-9zM822 1809h9v9h-9zM805 1817h18v9h-18zM797 1825h18v9h-18zM789 1834h18v9h-18zM629 1842h18v9h-18zM780 1842h9v9h-9zM646 1850h18v9h-18zM772 1850h9v9h-9zM671 1859h18v9h-18zM755 1859h18v9h-18zM696 1867h68v9h-68zM730 1876h18v9h-18z"/>
<path fill="#f8f1ed" d="M487 244h9v9h-9zM429 378h9v9h-9zM412 395h9v9h-9zM429 412h9v9h-9zM429 420h9v9h-9zM429 428h9v9h-9zM496 437h9v9h-9zM445 445h9v9h-9zM429 454h9v9h-9zM470 470h9v9h-9zM395 504h9v9h-9zM387 537h9v9h-9zM378 554h9v9h-9zM370 562h9v9h-9zM328 612h9v9h-9zM362 612h9v9h-9zM295 730h9v9h-9zM286 771h9v9h-9zM328 788h9v9h-9zM286 822h9v9h-9zM362 830h9v9h-9zM303 872h9v9h-9zM328 939h9v9h-9zM454 981h9v9h-9zM462 989h9v9h-9zM470 997h9v9h-9zM688 1131h9v9h-9zM487 1139h9v9h-9zM512 1156h9v9h-9zM805 1257h9v9h-9zM629 1265h9v9h-9zM789 1324h9v9h-9zM789 1332h9v9h-9zM789 1340h9v9h-9zM789 1349h9v9h-9zM780 1399h9v9h-9zM772 1432h9v9h-9zM705 1524h9v9h-9zM588 1558h9v9h-9zM579 1583h9v9h-9zM571 1608h9v9h-9zM655 1608h9v9h-9zM512 1641h43v9h-43zM563 1641h9v9h-9zM512 1650h60v9h-60zM646 1650h9v9h-9zM546 1658h26v9h-26zM1065 1683h68v9h-68zM1048 1692h34v9h-34zM1123 1692h34v9h-34zM1023 1700h26v9h-26zM1148 1700h26v9h-26zM1014 1708h18v9h-18zM1165 1708h18v9h-18zM998 1717h18v9h-18zM1182 1717h18v9h-18zM981 1725h18v9h-18zM1190 1725h18v9h-18zM638 1733h9v9h-9zM956 1733h26v9h-26zM1207 1733h18v9h-18zM931 1742h18v9h-18zM897 1750h26v9h-26zM881 1758h18v9h-18zM864 1767h18v9h-18zM855 1775h9v9h-9zM839 1784h18v9h-18zM629 1792h9v9h-9zM830 1792h9v9h-9zM822 1800h9v9h-9zM805 1809h18v9h-18zM797 1817h9v9h-9zM629 1825h9v9h-9zM789 1825h9v9h-9zM629 1834h9v9h-9zM780 1834h9v9h-9zM646 1842h18v9h-18zM763 1842h18v9h-18zM663 1850h26v9h-26zM755 1850h18v9h-18zM688 1859h68v9h-68z"/>
<path fill="#f9efe9" d="M537 362h9v9h-9zM412 387h9v9h-9zM429 437h9v9h-9zM429 445h9v9h-9zM403 470h9v9h-9zM445 504h9v9h-9zM303 688h9v9h-9zM328 713h9v9h-9zM320 780h9v9h-9zM353 813h9v9h-9zM295 847h9v9h-9zM387 880h9v9h-9zM311 897h9v9h-9zM320 922h9v9h-9zM437 955h9v9h-9zM613 1064h9v9h-9zM705 1139h9v9h-9zM730 1156h9v9h-9zM738 1165h9v9h-9zM571 1198h9v9h-9zM780 1198h9v9h-9zM805 1231h9v9h-9zM621 1248h9v9h-9zM797 1290h9v9h-9zM613 1482h9v9h-9zM604 1508h9v9h-9zM747 1508h9v9h-9zM596 1524h9v9h-9zM579 1574h9v9h-9zM663 1583h9v9h-9zM571 1591h9v9h-9zM571 1600h9v9h-9zM521 1616h26v9h-26zM563 1616h9v9h-9zM512 1625h60v9h-60zM512 1633h60v9h-60zM554 1641h9v9h-9zM1065 1675h76v9h-76zM1040 1683h26v9h-26zM1132 1683h26v9h-26zM1023 1692h26v9h-26zM1157 1692h18v9h-18zM1006 1700h18v9h-18zM1174 1700h18v9h-18zM998 1708h18v9h-18zM1182 1708h18v9h-18zM981 1717h18v9h-18zM1199 1717h18v9h-18zM964 1725h18v9h-18zM1207 1725h18v9h-18zM931 1733h26v9h-26zM638 1742h9v9h-9zM906 1742h26v9h-26zM881 1750h18v9h-18zM864 1758h18v9h-18zM855 1767h9v9h-9zM839 1775h18v9h-18zM830 1784h9v9h-9zM814 1792h18v9h-18zM629 1800h9v9h-9zM805 1800h18v9h-18zM629 1809h9v9h-9zM797 1809h9v9h-9zM629 1817h9v9h-9zM789 1817h9v9h-9zM638 1825h9v9h-9zM772 1825h18v9h-18zM638 1834h18v9h-18zM763 1834h18v9h-18zM663 1842h18v9h-18zM747 1842h18v9h-18zM688 1850h68v9h-68z"/>
<path fill="#f9ece4" d="M512 370h9v9h-9zM504 378h9v9h-9zM496 387h9v9h-9zM487 395h9v9h-9zM395 428h9v9h-9zM395 437h9v9h-9zM387 445h9v9h-9zM387 454h9v9h-9zM387 462h9v9h-9zM378 470h9v9h-9zM378 479h9v9h-9zM378 487h9v9h-9zM370 495h9v9h-9zM370 504h9v9h-9zM337 596h9v9h-9zM286 763h9v9h-9zM353 989h9v9h-9zM362 997h9v9h-9zM370 1006h9v9h-9zM378 1014h9v9h-9zM387 1022h9v9h-9zM546 1022h9v9h-9zM395 1031h9v9h-9zM403 1039h9v9h-9zM420 1064h9v9h-9zM646 1089h9v9h-9zM655 1098h9v9h-9zM445 1106h9v9h-9zM521 1165h9v9h-9zM546 1181h9v9h-9zM763 1181h9v9h-9zM772 1190h9v9h-9zM588 1223h9v9h-9zM805 1223h9v9h-9zM596 1231h9v9h-9zM805 1265h9v9h-9zM629 1273h9v9h-9zM629 1424h9v9h-9zM629 1432h9v9h-9zM621 1457h9v9h-9zM604 1499h9v9h-9zM588 1541h9v9h-9zM588 1549h9v9h-9zM579 1566h9v9h-9zM521 1583h18v9h-18zM571 1583h9v9h-9zM521 1591h51v9h-51zM521 1600h51v9h-51zM521 1608h51v9h-51zM546 1616h18v9h-18zM655 1616h9v9h-9zM646 1658h9v9h-9zM1056 1666h85v9h-85zM1040 1675h26v9h-26zM1140 1675h26v9h-26zM1023 1683h18v9h-18zM1157 1683h26v9h-26zM1006 1692h18v9h-18zM1174 1692h18v9h-18zM998 1700h9v9h-9zM1190 1700h18v9h-18zM981 1708h18v9h-18zM1199 1708h18v9h-18zM964 1717h18v9h-18zM1215 1717h18v9h-18zM939 1725h26v9h-26zM1224 1725h9v9h-9zM914 1733h18v9h-18zM889 1742h18v9h-18zM638 1750h9v9h-9zM864 1750h18v9h-18zM638 1758h9v9h-9zM855 1758h9v9h-9zM638 1767h9v9h-9zM839 1767h18v9h-18zM638 1775h9v9h-9zM822 1775h18v9h-18zM814 1784h18v9h-18zM805 1792h9v9h-9zM797 1800h9v9h-9zM780 1809h18v9h-18zM638 1817h9v9h-9zM772 1817h18v9h-18zM646 1825h18v9h-18zM763 1825h9v9h-9zM655 1834h26v9h-26zM747 1834h18v9h-18zM680 1842h68v9h-68z"/>
<path fill="#fae9df" d="M479 244h9v9h-9zM521 362h18v9h-18zM412 378h9v9h-9zM395 387h9v9h-9zM395 395h9v9h-9zM395 403h9v9h-9zM395 412h9v9h-9zM395 420h9v9h-9zM504 428h9v9h-9zM387 437h9v9h-9zM395 445h9v9h-9zM437 454h9v9h-9zM378 462h9v9h-9zM479 462h9v9h-9zM387 470h9v9h-9zM370 487h9v9h-9zM370 512h9v9h-9zM412 554h9v9h-9zM345 654h9v9h-9zM295 721h9v9h-9zM320 746h9v9h-9zM286 830h9v9h-9zM370 847h9v9h-9zM295 855h9v9h-9zM378 863h9v9h-9zM303 880h9v9h-9zM395 897h9v9h-9zM311 905h9v9h-9zM337 964h9v9h-9zM588 1047h9v9h-9zM412 1056h9v9h-9zM429 1081h9v9h-9zM437 1098h9v9h-9zM663 1106h9v9h-9zM454 1114h9v9h-9zM462 1123h9v9h-9zM470 1131h9v9h-9zM496 1148h9v9h-9zM722 1148h9v9h-9zM529 1173h9v9h-9zM554 1190h9v9h-9zM579 1215h9v9h-9zM604 1240h9v9h-9zM789 1357h9v9h-9zM629 1382h9v9h-9zM629 1390h9v9h-9zM629 1399h9v9h-9zM629 1407h9v9h-9zM629 1416h9v9h-9zM772 1441h9v9h-9zM621 1449h9v9h-9zM613 1474h9v9h-9zM763 1474h9v9h-9zM755 1499h9v9h-9zM596 1516h9v9h-9zM738 1516h9v9h-9zM588 1533h9v9h-9zM529 1541h9v9h-9zM529 1549h34v9h-34zM579 1549h9v9h-9zM730 1549h9v9h-9zM529 1558h60v9h-60zM529 1566h51v9h-51zM529 1574h51v9h-51zM537 1583h34v9h-34zM1056 1658h93v9h-93zM1031 1666h26v9h-26zM1140 1666h26v9h-26zM1023 1675h18v9h-18zM1165 1675h26v9h-26zM1006 1683h18v9h-18zM1182 1683h18v9h-18zM998 1692h9v9h-9zM1190 1692h26v9h-26zM981 1700h18v9h-18zM1207 1700h18v9h-18zM964 1708h18v9h-18zM1215 1708h18v9h-18zM948 1717h18v9h-18zM922 1725h18v9h-18zM897 1733h18v9h-18zM872 1742h18v9h-18zM855 1750h9v9h-9zM839 1758h18v9h-18zM822 1767h18v9h-18zM814 1775h9v9h-9zM638 1784h9v9h-9zM805 1784h9v9h-9zM638 1792h9v9h-9zM789 1792h18v9h-18zM638 1800h9v9h-9zM780 1800h18v9h-18zM638 1809h18v9h-18zM772 1809h9v9h-9zM646 1817h26v9h-26zM755 1817h18v9h-18zM663 1825h34v9h-34zM738 1825h26v9h-26zM680 1834h68v9h-68z"/>
<path fill="#fbe6da" d="M579 311h9v9h-9zM563 320h18v9h-18zM554 328h18v9h-18zM546 336h18v9h-18zM537 345h9v9h-9zM529 353h18v9h-18zM403 362h9v9h-9zM395 370h18v9h-18zM537 370h9v9h-9zM395 378h18v9h-18zM479 403h9v9h-9zM387 428h9v9h-9zM378 495h9v9h-9zM454 495h9v9h-9zM387 529h9v9h-9zM429 529h9v9h-9zM311 646h9v9h-9zM403 914h9v9h-9zM328 947h9v9h-9zM345 981h9v9h-9zM504 1014h9v9h-9zM563 1031h9v9h-9zM680 1123h9v9h-9zM479 1139h9v9h-9zM504 1156h9v9h-9zM755 1173h9v9h-9zM621 1257h9v9h-9zM629 1282h9v9h-9zM629 1290h9v9h-9zM629 1298h9v9h-9zM797 1298h9v9h-9zM629 1307h9v9h-9zM629 1315h9v9h-9zM629 1324h9v9h-9zM629 1332h9v9h-9zM629 1340h9v9h-9zM629 1349h9v9h-9zM629 1357h9v9h-9zM629 1365h9v9h-9zM629 1374h9v9h-9zM780 1407h9v9h-9zM621 1441h9v9h-9zM613 1466h9v9h-9zM604 1491h9v9h-9zM546 1508h26v9h-26zM596 1508h9v9h-9zM537 1516h60v9h-60zM537 1524h60v9h-60zM713 1524h18v9h-18zM537 1533h51v9h-51zM537 1541h51v9h-51zM563 1549h18v9h-18zM680 1549h9v9h-9zM671 1566h9v9h-9zM663 1591h9v9h-9zM1081 1641h26v9h-26zM1048 1650h110v9h-110zM1031 1658h26v9h-26zM1148 1658h26v9h-26zM646 1666h9v9h-9zM1023 1666h9v9h-9zM1165 1666h26v9h-26zM1006 1675h18v9h-18zM1190 1675h18v9h-18zM998 1683h9v9h-9zM1199 1683h18v9h-18zM981 1692h18v9h-18zM1215 1692h18v9h-18zM646 1700h9v9h-9zM964 1700h18v9h-18zM1224 1700h18v9h-18zM646 1708h9v9h-9zM948 1708h18v9h-18zM1232 1708h9v9h-9zM646 1717h9v9h-9zM931 1717h18v9h-18zM646 1725h9v9h-9zM897 1725h26v9h-26zM872 1733h26v9h-26zM855 1742h18v9h-18zM839 1750h18v9h-18zM822 1758h18v9h-18zM805 1767h18v9h-18zM797 1775h18v9h-18zM646 1784h9v9h-9zM789 1784h18v9h-18zM646 1792h9v9h-9zM772 1792h18v9h-18zM646 1800h26v9h-26zM763 1800h18v9h-18zM655 1809h34v9h-34zM747 1809h26v9h-26zM671 1817h85v9h-85zM696 1825h43v9h-43z"/>
<path fill="#fbe3d5" d="M596 295h9v9h-9zM588 303h9v9h-9zM571 311h9v9h-9zM546 345h9v9h-9zM403 353h9v9h-9zM395 362h9v9h-9zM403 387h9v9h-9zM529 387h9v9h-9zM403 395h9v9h-9zM387 420h9v9h-9zM370 479h9v9h-9zM362 504h9v9h-9zM362 512h9v9h-9zM337 688h9v9h-9zM362 822h9v9h-9zM295 863h9v9h-9zM311 914h9v9h-9zM320 930h9v9h-9zM445 964h9v9h-9zM403 1047h9v9h-9zM420 1073h9v9h-9zM429 1089h9v9h-9zM671 1114h9v9h-9zM487 1148h9v9h-9zM512 1165h9v9h-9zM537 1181h9v9h-9zM563 1198h9v9h-9zM571 1206h9v9h-9zM797 1206h9v9h-9zM613 1248h9v9h-9zM805 1273h9v9h-9zM621 1432h9v9h-9zM613 1457h9v9h-9zM546 1474h43v9h-43zM604 1474h9v9h-9zM546 1482h68v9h-68zM546 1491h60v9h-60zM546 1499h60v9h-60zM571 1508h26v9h-26zM696 1533h9v9h-9zM655 1625h9v9h-9zM1065 1633h60v9h-60zM1048 1641h34v9h-34zM1107 1641h60v9h-60zM1031 1650h18v9h-18zM1157 1650h26v9h-26zM1014 1658h18v9h-18zM1174 1658h26v9h-26zM1006 1666h18v9h-18zM1190 1666h26v9h-26zM646 1675h9v9h-9zM998 1675h9v9h-9zM1207 1675h18v9h-18zM646 1683h9v9h-9zM981 1683h18v9h-18zM1215 1683h18v9h-18zM646 1692h9v9h-9zM964 1692h18v9h-18zM1232 1692h9v9h-9zM948 1700h18v9h-18zM1240 1700h9v9h-9zM931 1708h18v9h-18zM906 1717h26v9h-26zM881 1725h18v9h-18zM646 1733h9v9h-9zM855 1733h18v9h-18zM646 1742h9v9h-9zM830 1742h26v9h-26zM646 1750h9v9h-9zM822 1750h18v9h-18zM646 1758h9v9h-9zM805 1758h18v9h-18zM646 1767h18v9h-18zM789 1767h18v9h-18zM646 1775h26v9h-26zM780 1775h18v9h-18zM655 1784h26v9h-26zM772 1784h18v9h-18zM655 1792h43v9h-43zM755 1792h18v9h-18zM671 1800h93v9h-93zM688 1809h60v9h-60z"/>
<path fill="#fce1d1" d="M604 286h18v9h-18zM604 295h9v9h-9zM596 303h9v9h-9zM529 345h9v9h-9zM521 403h9v9h-9zM470 412h9v9h-9zM378 454h9v9h-9zM395 495h9v9h-9zM395 579h9v9h-9zM303 679h9v9h-9zM328 721h9v9h-9zM286 755h9v9h-9zM328 780h9v9h-9zM337 788h9v9h-9zM345 797h9v9h-9zM278 813h9v9h-9zM286 838h9v9h-9zM303 889h9v9h-9zM328 955h9v9h-9zM337 972h9v9h-9zM353 997h9v9h-9zM362 1006h9v9h-9zM487 1006h9v9h-9zM370 1014h9v9h-9zM512 1014h9v9h-9zM378 1022h9v9h-9zM387 1031h9v9h-9zM395 1039h9v9h-9zM604 1056h9v9h-9zM412 1064h9v9h-9zM638 1081h9v9h-9zM437 1106h9v9h-9zM445 1114h9v9h-9zM454 1123h9v9h-9zM462 1131h9v9h-9zM696 1131h9v9h-9zM470 1139h9v9h-9zM496 1156h9v9h-9zM521 1173h9v9h-9zM546 1190h9v9h-9zM805 1215h9v9h-9zM579 1223h9v9h-9zM588 1231h9v9h-9zM596 1240h9v9h-9zM621 1265h9v9h-9zM621 1273h9v9h-9zM621 1349h9v9h-9zM621 1357h9v9h-9zM621 1365h9v9h-9zM789 1365h9v9h-9zM621 1374h9v9h-9zM621 1382h9v9h-9zM554 1390h9v9h-9zM621 1390h9v9h-9zM554 1399h76v9h-76zM554 1407h76v9h-76zM554 1416h76v9h-76zM554 1424h76v9h-76zM554 1432h68v9h-68zM554 1441h68v9h-68zM554 1449h68v9h-68zM772 1449h9v9h-9zM554 1457h60v9h-60zM554 1466h60v9h-60zM588 1474h18v9h-18zM763 1482h9v9h-9zM738 1541h9v9h-9zM1056 1625h85v9h-85zM655 1633h9v9h-9zM1040 1633h26v9h-26zM1123 1633h51v9h-51zM1031 1641h18v9h-18zM1165 1641h26v9h-26zM1014 1650h18v9h-18zM1182 1650h26v9h-26zM1006 1658h9v9h-9zM1199 1658h18v9h-18zM998 1666h9v9h-9zM1215 1666h18v9h-18zM981 1675h18v9h-18zM1224 1675h18v9h-18zM964 1683h18v9h-18zM1232 1683h18v9h-18zM956 1692h9v9h-9zM1240 1692h18v9h-18zM931 1700h18v9h-18zM914 1708h18v9h-18zM881 1717h26v9h-26zM855 1725h26v9h-26zM830 1733h26v9h-26zM655 1742h9v9h-9zM814 1742h18v9h-18zM655 1750h18v9h-18zM797 1750h26v9h-26zM655 1758h26v9h-26zM789 1758h18v9h-18zM663 1767h34v9h-34zM772 1767h18v9h-18zM671 1775h43v9h-43zM755 1775h26v9h-26zM680 1784h93v9h-93zM696 1792h60v9h-60z"/>
<path fill="#fcdecc" d="M621 286h9v9h-9zM579 303h9v9h-9zM588 311h9v9h-9zM395 353h9v9h-9zM420 370h9v9h-9zM403 403h9v9h-9zM387 412h9v9h-9zM512 420h9v9h-9zM395 454h9v9h-9zM487 454h9v9h-9zM403 462h9v9h-9zM387 587h9v9h-9zM278 805h9v9h-9zM353 805h9v9h-9zM278 822h9v9h-9zM370 838h9v9h-9zM295 872h9v9h-9zM303 897h9v9h-9zM311 922h9v9h-9zM320 939h9v9h-9zM345 989h9v9h-9zM521 1014h9v9h-9zM395 1047h9v9h-9zM403 1056h9v9h-9zM412 1073h9v9h-9zM420 1081h9v9h-9zM420 1089h9v9h-9zM429 1098h9v9h-9zM437 1114h9v9h-9zM445 1123h9v9h-9zM713 1139h9v9h-9zM479 1148h9v9h-9zM487 1156h9v9h-9zM504 1165h9v9h-9zM512 1173h9v9h-9zM529 1181h9v9h-9zM537 1190h9v9h-9zM554 1198h9v9h-9zM563 1206h9v9h-9zM571 1215h9v9h-9zM579 1231h9v9h-9zM588 1240h9v9h-9zM596 1248h18v9h-18zM613 1257h9v9h-9zM613 1265h9v9h-9zM621 1282h9v9h-9zM621 1290h9v9h-9zM596 1298h34v9h-34zM563 1307h68v9h-68zM563 1315h68v9h-68zM571 1324h60v9h-60zM571 1332h60v9h-60zM563 1340h68v9h-68zM563 1349h60v9h-60zM563 1357h60v9h-60zM563 1365h60v9h-60zM554 1374h68v9h-68zM554 1382h68v9h-68zM563 1390h60v9h-60zM780 1416h9v9h-9zM688 1541h9v9h-9zM663 1600h9v9h-9zM1081 1608h26v9h-26zM1056 1616h101v9h-101zM1040 1625h18v9h-18zM1140 1625h51v9h-51zM1031 1633h9v9h-9zM1174 1633h34v9h-34zM655 1641h9v9h-9zM1014 1641h18v9h-18zM1190 1641h26v9h-26zM655 1650h9v9h-9zM1006 1650h9v9h-9zM1207 1650h18v9h-18zM998 1658h9v9h-9zM1215 1658h26v9h-26zM981 1666h18v9h-18zM1232 1666h18v9h-18zM964 1675h18v9h-18zM1240 1675h18v9h-18zM956 1683h9v9h-9zM1249 1683h18v9h-18zM939 1692h18v9h-18zM914 1700h18v9h-18zM655 1708h9v9h-9zM881 1708h34v9h-34zM655 1717h9v9h-9zM855 1717h26v9h-26zM655 1725h18v9h-18zM830 1725h26v9h-26zM655 1733h26v9h-26zM814 1733h18v9h-18zM663 1742h26v9h-26zM797 1742h18v9h-18zM671 1750h34v9h-34zM772 1750h26v9h-26zM680 1758h110v9h-110zM696 1767h76v9h-76zM713 1775h43v9h-43z"/>
<path fill="#fddbc7" d="M621 278h26v9h-26zM521 353h9v9h-9zM403 412h9v9h-9zM462 420h9v9h-9zM387 479h9v9h-9zM462 487h9v9h-9zM378 504h9v9h-9zM403 571h9v9h-9zM320 621h9v9h-9zM311 638h9v9h-9zM353 638h9v9h-9zM295 713h9v9h-9zM320 755h9v9h-9zM320 771h9v9h-9zM286 847h9v9h-9zM378 855h9v9h-9zM387 872h9v9h-9zM395 889h9v9h-9zM303 905h9v9h-9zM412 922h9v9h-9zM320 947h9v9h-9zM328 964h9v9h-9zM454 972h9v9h-9zM337 981h9v9h-9zM337 989h9v9h-9zM345 997h9v9h-9zM353 1006h9v9h-9zM353 1014h18v9h-18zM529 1014h9v9h-9zM362 1022h18v9h-18zM345 1031h43v9h-43zM337 1039h60v9h-60zM579 1039h9v9h-9zM345 1047h51v9h-51zM353 1056h51v9h-51zM353 1064h60v9h-60zM362 1073h51v9h-51zM362 1081h60v9h-60zM362 1089h60v9h-60zM370 1098h60v9h-60zM378 1106h60v9h-60zM378 1114h60v9h-60zM387 1123h60v9h-60zM395 1131h68v9h-68zM403 1139h68v9h-68zM412 1148h68v9h-68zM420 1156h68v9h-68zM429 1165h76v9h-76zM747 1165h9v9h-9zM437 1173h76v9h-76zM454 1181h76v9h-76zM462 1190h76v9h-76zM479 1198h76v9h-76zM789 1198h9v9h-9zM487 1206h76v9h-76zM504 1215h68v9h-68zM529 1223h51v9h-51zM546 1231h34v9h-34zM554 1240h34v9h-34zM563 1248h34v9h-34zM563 1257h51v9h-51zM563 1265h51v9h-51zM563 1273h60v9h-60zM563 1282h60v9h-60zM563 1290h60v9h-60zM563 1298h34v9h-34zM797 1307h9v9h-9zM789 1374h9v9h-9zM780 1424h9v9h-9zM772 1457h9v9h-9zM755 1508h9v9h-9zM738 1524h9v9h-9zM738 1533h9v9h-9zM738 1549h9v9h-9zM671 1574h9v9h-9zM1073 1600h76v9h-76zM1048 1608h34v9h-34zM1107 1608h85v9h-85zM1040 1616h18v9h-18zM1157 1616h51v9h-51zM1031 1625h9v9h-9zM1190 1625h26v9h-26zM1014 1633h18v9h-18zM1207 1633h26v9h-26zM1006 1641h9v9h-9zM1215 1641h26v9h-26zM998 1650h9v9h-9zM1224 1650h26v9h-26zM655 1658h9v9h-9zM981 1658h18v9h-18zM1240 1658h18v9h-18zM655 1666h9v9h-9zM964 1666h18v9h-18zM1249 1666h18v9h-18zM655 1675h9v9h-9zM956 1675h9v9h-9zM1257 1675h18v9h-18zM655 1683h9v9h-9zM931 1683h26v9h-26zM655 1692h9v9h-9zM914 1692h26v9h-26zM655 1700h18v9h-18zM889 1700h26v9h-26zM663 1708h9v9h-9zM855 1708h26v9h-26zM663 1717h26v9h-26zM830 1717h26v9h-26zM671 1725h26v9h-26zM805 1725h26v9h-26zM680 1733h43v9h-43zM780 1733h34v9h-34zM688 1742h110v9h-110zM705 1750h68v9h-68z"/>
<path fill="#fcd6c0" d="M479 253h9v9h-9zM646 278h9v9h-9zM387 403h9v9h-9zM403 420h9v9h-9zM387 520h9v9h-9zM437 520h9v9h-9zM378 546h9v9h-9zM420 546h9v9h-9zM378 596h9v9h-9zM345 663h9v9h-9zM286 746h9v9h-9zM278 797h9v9h-9zM278 830h9v9h-9zM286 855h9v9h-9zM295 880h9v9h-9zM303 914h9v9h-9zM311 930h9v9h-9zM420 930h9v9h-9zM311 939h9v9h-9zM429 939h9v9h-9zM311 947h9v9h-9zM320 955h9v9h-9zM311 964h18v9h-18zM303 972h34v9h-34zM311 981h26v9h-26zM311 989h26v9h-26zM320 997h26v9h-26zM479 997h9v9h-9zM320 1006h34v9h-34zM328 1014h26v9h-26zM328 1022h34v9h-34zM554 1022h9v9h-9zM337 1031h9v9h-9zM814 1248h9v9h-9zM805 1282h9v9h-9zM789 1382h9v9h-9zM789 1390h9v9h-9zM1307 1416h60v9h-60zM1291 1424h85v9h-85zM1282 1432h101v9h-101zM1274 1441h110v9h-110zM1274 1449h118v9h-118zM1266 1457h127v9h-127zM1266 1466h118v9h-118zM1266 1474h118v9h-118zM1266 1482h93v9h-93zM763 1491h9v9h-9zM1274 1491h43v9h-43zM747 1516h9v9h-9zM722 1533h9v9h-9zM680 1558h9v9h-9zM1090 1583h60v9h-60zM1065 1591h143v9h-143zM1048 1600h26v9h-26zM1148 1600h76v9h-76zM663 1608h9v9h-9zM1040 1608h9v9h-9zM1190 1608h43v9h-43zM1023 1616h18v9h-18zM1207 1616h34v9h-34zM1014 1625h18v9h-18zM1215 1625h34v9h-34zM1006 1633h9v9h-9zM1232 1633h26v9h-26zM998 1641h9v9h-9zM1240 1641h18v9h-18zM981 1650h18v9h-18zM1249 1650h18v9h-18zM964 1658h18v9h-18zM1257 1658h18v9h-18zM948 1666h18v9h-18zM1266 1666h18v9h-18zM663 1675h9v9h-9zM931 1675h26v9h-26zM663 1683h9v9h-9zM914 1683h18v9h-18zM663 1692h18v9h-18zM889 1692h26v9h-26zM671 1700h26v9h-26zM855 1700h34v9h-34zM671 1708h34v9h-34zM822 1708h34v9h-34zM688 1717h34v9h-34zM797 1717h34v9h-34zM696 1725h110v9h-110zM722 1733h60v9h-60z"/>
<path fill="#fbd0b9" d="M646 270h34v9h-34zM629 286h9v9h-9zM588 295h9v9h-9zM579 320h9v9h-9zM537 336h9v9h-9zM546 353h9v9h-9zM454 428h9v9h-9zM362 495h9v9h-9zM345 579h9v9h-9zM328 604h9v9h-9zM370 604h9v9h-9zM362 621h9v9h-9zM303 671h9v9h-9zM337 696h9v9h-9zM320 763h9v9h-9zM362 813h9v9h-9zM286 863h9v9h-9zM286 872h9v9h-9zM295 889h9v9h-9zM295 897h9v9h-9zM295 905h9v9h-9zM403 905h9v9h-9zM286 914h18v9h-18zM286 922h26v9h-26zM286 930h26v9h-26zM295 939h18v9h-18zM295 947h18v9h-18zM437 947h9v9h-9zM303 955h18v9h-18zM303 964h9v9h-9zM462 981h9v9h-9zM470 989h9v9h-9zM629 1073h9v9h-9zM730 1148h9v9h-9zM738 1156h9v9h-9zM772 1181h9v9h-9zM780 1190h9v9h-9zM814 1240h9v9h-9zM814 1257h9v9h-9zM1408 1357h9v9h-9zM1391 1365h26v9h-26zM1374 1374h43v9h-43zM1358 1382h60v9h-60zM1333 1390h85v9h-85zM1299 1399h118v9h-118zM1282 1407h135v9h-135zM1274 1416h34v9h-34zM1366 1416h51v9h-51zM1266 1424h26v9h-26zM1374 1424h43v9h-43zM780 1432h9v9h-9zM1257 1432h26v9h-26zM1383 1432h34v9h-34zM1257 1441h18v9h-18zM1383 1441h34v9h-34zM1249 1449h26v9h-26zM1391 1449h26v9h-26zM1240 1457h26v9h-26zM1391 1457h26v9h-26zM772 1466h9v9h-9zM1240 1466h26v9h-26zM1383 1466h18v9h-18zM1240 1474h26v9h-26zM1232 1482h34v9h-34zM1358 1482h18v9h-18zM1232 1491h43v9h-43zM1316 1491h51v9h-51zM1224 1499h143v9h-143zM1224 1508h143v9h-143zM1224 1516h110v9h-110zM1215 1524h101v9h-101zM705 1533h9v9h-9zM1215 1533h85v9h-85zM1207 1541h85v9h-85zM1199 1549h85v9h-85zM1182 1558h101v9h-101zM1115 1566h160v9h-160zM1081 1574h194v9h-194zM671 1583h9v9h-9zM1065 1583h26v9h-26zM1148 1583h118v9h-118zM1048 1591h18v9h-18zM1207 1591h60v9h-60zM1040 1600h9v9h-9zM1224 1600h51v9h-51zM1023 1608h18v9h-18zM1232 1608h43v9h-43zM663 1616h9v9h-9zM1014 1616h9v9h-9zM1240 1616h34v9h-34zM663 1625h9v9h-9zM1006 1625h9v9h-9zM1249 1625h34v9h-34zM998 1633h9v9h-9zM1257 1633h26v9h-26zM663 1641h9v9h-9zM981 1641h18v9h-18zM1257 1641h34v9h-34zM663 1650h9v9h-9zM964 1650h18v9h-18zM1266 1650h26v9h-26zM663 1658h9v9h-9zM948 1658h18v9h-18zM1274 1658h18v9h-18zM663 1666h18v9h-18zM931 1666h18v9h-18zM671 1675h18v9h-18zM906 1675h26v9h-26zM671 1683h26v9h-26zM881 1683h34v9h-34zM680 1692h26v9h-26zM847 1692h43v9h-43zM696 1700h26v9h-26zM822 1700h34v9h-34zM705 1708h43v9h-43zM789 1708h34v9h-34zM722 1717h76v9h-76z"/>
<path fill="#facbb2" d="M680 270h18v9h-18zM403 428h9v9h-9zM403 437h9v9h-9zM496 445h9v9h-9zM470 479h9v9h-9zM328 730h9v9h-9zM278 788h9v9h-9zM370 830h9v9h-9zM278 838h9v9h-9zM278 847h9v9h-9zM278 872h9v9h-9zM278 880h18v9h-18zM270 889h26v9h-26zM270 897h26v9h-26zM278 905h18v9h-18zM278 914h9v9h-9zM445 955h9v9h-9zM537 1014h9v9h-9zM688 1123h9v9h-9zM763 1173h9v9h-9zM1433 1298h9v9h-9zM1416 1307h43v9h-43zM797 1315h9v9h-9zM1400 1315h60v9h-60zM797 1324h9v9h-9zM1391 1324h68v9h-68zM797 1332h9v9h-9zM1383 1332h76v9h-76zM797 1340h9v9h-9zM1374 1340h85v9h-85zM1366 1349h93v9h-93zM1358 1357h51v9h-51zM1416 1357h34v9h-34zM1341 1365h51v9h-51zM1416 1365h34v9h-34zM1324 1374h51v9h-51zM1416 1374h34v9h-34zM1307 1382h51v9h-51zM1416 1382h34v9h-34zM1291 1390h43v9h-43zM1416 1390h34v9h-34zM789 1399h9v9h-9zM1274 1399h26v9h-26zM1416 1399h26v9h-26zM1266 1407h18v9h-18zM1416 1407h26v9h-26zM1257 1416h18v9h-18zM1416 1416h26v9h-26zM1249 1424h18v9h-18zM1416 1424h26v9h-26zM1240 1432h18v9h-18zM1416 1432h26v9h-26zM1240 1441h18v9h-18zM1416 1441h26v9h-26zM1232 1449h18v9h-18zM1416 1449h18v9h-18zM1224 1457h18v9h-18zM1224 1466h18v9h-18zM1215 1474h26v9h-26zM1207 1482h26v9h-26zM1207 1491h26v9h-26zM1199 1499h26v9h-26zM1190 1508h34v9h-34zM1182 1516h43v9h-43zM1333 1516h34v9h-34zM1174 1524h43v9h-43zM1316 1524h51v9h-51zM1165 1533h51v9h-51zM1299 1533h68v9h-68zM1148 1541h60v9h-60zM1291 1541h68v9h-68zM1123 1549h76v9h-76zM1282 1549h60v9h-60zM1098 1558h85v9h-85zM1282 1558h51v9h-51zM1073 1566h43v9h-43zM1274 1566h51v9h-51zM1056 1574h26v9h-26zM1274 1574h51v9h-51zM1048 1583h18v9h-18zM1266 1583h51v9h-51zM1031 1591h18v9h-18zM1266 1591h51v9h-51zM1023 1600h18v9h-18zM1274 1600h43v9h-43zM1014 1608h9v9h-9zM1274 1608h43v9h-43zM1006 1616h9v9h-9zM1274 1616h43v9h-43zM989 1625h18v9h-18zM1282 1625h34v9h-34zM663 1633h9v9h-9zM981 1633h18v9h-18zM1282 1633h26v9h-26zM964 1641h18v9h-18zM1291 1641h18v9h-18zM671 1650h9v9h-9zM948 1650h18v9h-18zM1291 1650h9v9h-9zM671 1658h18v9h-18zM922 1658h26v9h-26zM680 1666h18v9h-18zM906 1666h26v9h-26zM688 1675h18v9h-18zM872 1675h34v9h-34zM696 1683h26v9h-26zM839 1683h43v9h-43zM705 1692h34v9h-34zM814 1692h34v9h-34zM722 1700h101v9h-101zM747 1708h43v9h-43z"/>
<path fill="#f9c5ab" d="M487 236h9v9h-9zM496 244h9v9h-9zM696 270h26v9h-26zM613 278h9v9h-9zM655 278h9v9h-9zM194 311h9v9h-9zM211 320h34v9h-34zM387 395h9v9h-9zM445 437h9v9h-9zM403 445h9v9h-9zM403 454h9v9h-9zM370 470h9v9h-9zM353 571h9v9h-9zM295 704h9v9h-9zM278 780h9v9h-9zM337 780h9v9h-9zM345 788h9v9h-9zM353 797h9v9h-9zM270 805h9v9h-9zM270 813h9v9h-9zM270 822h9v9h-9zM270 830h9v9h-9zM270 847h9v9h-9zM261 855h26v9h-26zM253 863h34v9h-34zM253 872h26v9h-26zM261 880h18v9h-18zM496 1006h9v9h-9zM596 1047h9v9h-9zM621 1064h9v9h-9zM705 1131h9v9h-9zM805 1206h9v9h-9zM814 1231h9v9h-9zM1433 1273h34v9h-34zM1416 1282h60v9h-60zM805 1290h9v9h-9zM1408 1290h76v9h-76zM1391 1298h43v9h-43zM1441 1298h43v9h-43zM1383 1307h34v9h-34zM1458 1307h26v9h-26zM1374 1315h26v9h-26zM1458 1315h26v9h-26zM1366 1324h26v9h-26zM1458 1324h18v9h-18zM1358 1332h26v9h-26zM1458 1332h18v9h-18zM1349 1340h26v9h-26zM1458 1340h18v9h-18zM797 1349h9v9h-9zM1341 1349h26v9h-26zM1458 1349h18v9h-18zM1324 1357h34v9h-34zM1450 1357h18v9h-18zM1316 1365h26v9h-26zM1450 1365h18v9h-18zM1299 1374h26v9h-26zM1450 1374h18v9h-18zM1282 1382h26v9h-26zM1450 1382h18v9h-18zM1266 1390h26v9h-26zM1450 1390h18v9h-18zM1257 1399h18v9h-18zM1441 1399h26v9h-26zM1249 1407h18v9h-18zM1441 1407h26v9h-26zM1240 1416h18v9h-18zM1441 1416h18v9h-18zM1232 1424h18v9h-18zM1441 1424h18v9h-18zM1224 1432h18v9h-18zM1441 1432h18v9h-18zM1224 1441h18v9h-18zM1441 1441h18v9h-18zM1215 1449h18v9h-18zM1207 1457h18v9h-18zM1199 1466h26v9h-26zM772 1474h9v9h-9zM1190 1474h26v9h-26zM1182 1482h26v9h-26zM1174 1491h34v9h-34zM763 1499h9v9h-9zM1165 1499h34v9h-34zM1157 1508h34v9h-34zM1148 1516h34v9h-34zM1140 1524h34v9h-34zM713 1533h9v9h-9zM1123 1533h43v9h-43zM696 1541h9v9h-9zM722 1541h9v9h-9zM1107 1541h43v9h-43zM1358 1541h9v9h-9zM688 1549h9v9h-9zM1090 1549h34v9h-34zM1341 1549h26v9h-26zM1073 1558h26v9h-26zM1333 1558h34v9h-34zM680 1566h9v9h-9zM1056 1566h18v9h-18zM1324 1566h34v9h-34zM1048 1574h9v9h-9zM1324 1574h34v9h-34zM1031 1583h18v9h-18zM1316 1583h34v9h-34zM671 1591h9v9h-9zM1023 1591h9v9h-9zM1316 1591h34v9h-34zM1014 1600h9v9h-9zM1316 1600h26v9h-26zM998 1608h18v9h-18zM1316 1608h18v9h-18zM989 1616h18v9h-18zM1316 1616h9v9h-9zM981 1625h9v9h-9zM671 1633h9v9h-9zM964 1633h18v9h-18zM671 1641h18v9h-18zM939 1641h26v9h-26zM680 1650h18v9h-18zM922 1650h26v9h-26zM688 1658h18v9h-18zM897 1658h26v9h-26zM696 1666h18v9h-18zM864 1666h43v9h-43zM705 1675h26v9h-26zM830 1675h43v9h-43zM722 1683h34v9h-34zM789 1683h51v9h-51zM738 1692h76v9h-76z"/>
<path fill="#f8c0a4" d="M487 253h9v9h-9zM722 270h26v9h-26zM203 311h9v9h-9zM203 320h9v9h-9zM546 328h9v9h-9zM571 328h9v9h-9zM546 362h9v9h-9zM378 445h9v9h-9zM437 445h9v9h-9zM395 487h9v9h-9zM445 512h9v9h-9zM337 587h9v9h-9zM286 738h9v9h-9zM278 771h9v9h-9zM328 771h9v9h-9zM270 797h9v9h-9zM261 830h9v9h-9zM244 838h34v9h-34zM228 847h43v9h-43zM378 847h9v9h-9zM236 855h26v9h-26zM387 863h9v9h-9zM395 880h9v9h-9zM571 1031h9v9h-9zM655 1089h9v9h-9zM663 1098h9v9h-9zM722 1139h9v9h-9zM755 1165h9v9h-9zM814 1223h9v9h-9zM1450 1248h26v9h-26zM1425 1257h68v9h-68zM814 1265h9v9h-9zM1416 1265h85v9h-85zM1400 1273h34v9h-34zM1466 1273h34v9h-34zM1391 1282h26v9h-26zM1475 1282h26v9h-26zM1383 1290h26v9h-26zM1483 1290h18v9h-18zM1374 1298h18v9h-18zM1483 1298h18v9h-18zM1366 1307h18v9h-18zM1483 1307h18v9h-18zM1358 1315h18v9h-18zM1483 1315h18v9h-18zM1349 1324h18v9h-18zM1475 1324h18v9h-18zM1341 1332h18v9h-18zM1475 1332h18v9h-18zM1324 1340h26v9h-26zM1475 1340h18v9h-18zM1316 1349h26v9h-26zM1475 1349h9v9h-9zM1299 1357h26v9h-26zM1466 1357h18v9h-18zM1291 1365h26v9h-26zM1466 1365h18v9h-18zM1274 1374h26v9h-26zM1466 1374h18v9h-18zM1266 1382h18v9h-18zM1466 1382h18v9h-18zM1249 1390h18v9h-18zM1466 1390h18v9h-18zM1240 1399h18v9h-18zM1466 1399h9v9h-9zM1232 1407h18v9h-18zM1466 1407h9v9h-9zM1224 1416h18v9h-18zM1458 1416h18v9h-18zM1224 1424h9v9h-9zM1458 1424h18v9h-18zM1215 1432h9v9h-9zM1458 1432h9v9h-9zM780 1441h9v9h-9zM1207 1441h18v9h-18zM1199 1449h18v9h-18zM1190 1457h18v9h-18zM1182 1466h18v9h-18zM1165 1474h26v9h-26zM1157 1482h26v9h-26zM1148 1491h26v9h-26zM1148 1499h18v9h-18zM1140 1508h18v9h-18zM755 1516h9v9h-9zM1132 1516h18v9h-18zM1115 1524h26v9h-26zM1107 1533h18v9h-18zM1090 1541h18v9h-18zM1073 1549h18v9h-18zM1056 1558h18v9h-18zM1048 1566h9v9h-9zM680 1574h9v9h-9zM1031 1574h18v9h-18zM1023 1583h9v9h-9zM1006 1591h18v9h-18zM671 1600h9v9h-9zM998 1600h18v9h-18zM671 1608h9v9h-9zM989 1608h9v9h-9zM671 1616h9v9h-9zM973 1616h18v9h-18zM671 1625h18v9h-18zM956 1625h26v9h-26zM680 1633h9v9h-9zM931 1633h34v9h-34zM688 1641h18v9h-18zM906 1641h34v9h-34zM696 1650h18v9h-18zM881 1650h43v9h-43zM705 1658h18v9h-18zM839 1658h60v9h-60zM713 1666h26v9h-26zM805 1666h60v9h-60zM730 1675h101v9h-101zM755 1683h34v9h-34z"/>
<path fill="#f8bb9e" d="M747 270h18v9h-18zM596 286h9v9h-9zM186 311h9v9h-9zM412 370h9v9h-9zM537 378h9v9h-9zM395 462h9v9h-9zM479 470h9v9h-9zM362 562h9v9h-9zM303 663h9v9h-9zM270 788h9v9h-9zM261 805h9v9h-9zM362 805h9v9h-9zM253 813h18v9h-18zM228 822h43v9h-43zM370 822h9v9h-9zM211 830h51v9h-51zM211 838h34v9h-34zM219 847h9v9h-9zM403 897h9v9h-9zM412 914h9v9h-9zM454 964h9v9h-9zM613 1056h9v9h-9zM646 1081h9v9h-9zM671 1106h9v9h-9zM680 1114h9v9h-9zM797 1198h9v9h-9zM1458 1223h34v9h-34zM1433 1231h76v9h-76zM1416 1240h101v9h-101zM1408 1248h43v9h-43zM1475 1248h43v9h-43zM1400 1257h26v9h-26zM1492 1257h26v9h-26zM1391 1265h26v9h-26zM1500 1265h26v9h-26zM1383 1273h18v9h-18zM1500 1273h26v9h-26zM1374 1282h18v9h-18zM1500 1282h26v9h-26zM1358 1290h26v9h-26zM1500 1290h18v9h-18zM1349 1298h26v9h-26zM1500 1298h18v9h-18zM1341 1307h26v9h-26zM1500 1307h18v9h-18zM1333 1315h26v9h-26zM1500 1315h9v9h-9zM1324 1324h26v9h-26zM1492 1324h18v9h-18zM1316 1332h26v9h-26zM1492 1332h18v9h-18zM1307 1340h18v9h-18zM1492 1340h9v9h-9zM1291 1349h26v9h-26zM1483 1349h18v9h-18zM797 1357h9v9h-9zM1282 1357h18v9h-18zM1483 1357h18v9h-18zM1266 1365h26v9h-26zM1483 1365h18v9h-18zM1257 1374h18v9h-18zM1483 1374h9v9h-9zM1249 1382h18v9h-18zM1483 1382h9v9h-9zM1240 1390h9v9h-9zM1483 1390h9v9h-9zM1232 1399h9v9h-9zM1475 1399h18v9h-18zM789 1407h9v9h-9zM1224 1407h9v9h-9zM1475 1407h18v9h-18zM1215 1416h9v9h-9zM1475 1416h18v9h-18zM1207 1424h18v9h-18zM1475 1424h18v9h-18zM1199 1432h18v9h-18zM1182 1441h26v9h-26zM1174 1449h26v9h-26zM1165 1457h26v9h-26zM1157 1466h26v9h-26zM1148 1474h18v9h-18zM772 1482h9v9h-9zM1140 1482h18v9h-18zM1132 1491h18v9h-18zM1123 1499h26v9h-26zM763 1508h9v9h-9zM1115 1508h26v9h-26zM1107 1516h26v9h-26zM747 1524h9v9h-9zM1098 1524h18v9h-18zM1090 1533h18v9h-18zM1073 1541h18v9h-18zM722 1549h9v9h-9zM1056 1549h18v9h-18zM688 1558h9v9h-9zM1048 1558h9v9h-9zM1031 1566h18v9h-18zM1023 1574h9v9h-9zM680 1583h9v9h-9zM1006 1583h18v9h-18zM998 1591h9v9h-9zM981 1600h18v9h-18zM680 1608h9v9h-9zM964 1608h26v9h-26zM680 1616h9v9h-9zM948 1616h26v9h-26zM688 1625h9v9h-9zM922 1625h34v9h-34zM688 1633h26v9h-26zM889 1633h43v9h-43zM705 1641h18v9h-18zM847 1641h60v9h-60zM713 1650h26v9h-26zM805 1650h76v9h-76zM722 1658h118v9h-118zM738 1666h68v9h-68z"/>
<path fill="#f7b597" d="M638 270h9v9h-9zM613 295h9v9h-9zM211 311h9v9h-9zM194 320h9v9h-9zM244 320h9v9h-9zM429 370h9v9h-9zM387 387h9v9h-9zM529 395h9v9h-9zM521 412h9v9h-9zM504 437h9v9h-9zM387 487h9v9h-9zM429 537h9v9h-9zM412 562h9v9h-9zM345 671h9v9h-9zM295 696h9v9h-9zM337 704h9v9h-9zM328 738h9v9h-9zM278 763h9v9h-9zM337 771h9v9h-9zM345 780h9v9h-9zM261 788h9v9h-9zM236 797h34v9h-34zM203 805h60v9h-60zM203 813h51v9h-51zM203 822h26v9h-26zM203 830h9v9h-9zM420 922h9v9h-9zM487 997h9v9h-9zM546 1014h9v9h-9zM588 1039h9v9h-9zM1458 1190h51v9h-51zM1441 1198h76v9h-76zM1425 1206h101v9h-101zM1416 1215h118v9h-118zM1408 1223h51v9h-51zM1492 1223h43v9h-43zM1400 1231h34v9h-34zM1508 1231h26v9h-26zM1391 1240h26v9h-26zM1517 1240h26v9h-26zM1383 1248h26v9h-26zM1517 1248h26v9h-26zM1374 1257h26v9h-26zM1517 1257h26v9h-26zM1366 1265h26v9h-26zM1525 1265h18v9h-18zM814 1273h9v9h-9zM1358 1273h26v9h-26zM1525 1273h18v9h-18zM1349 1282h26v9h-26zM1525 1282h18v9h-18zM1341 1290h18v9h-18zM1517 1290h26v9h-26zM805 1298h9v9h-9zM1333 1298h18v9h-18zM1517 1298h18v9h-18zM1324 1307h18v9h-18zM1517 1307h18v9h-18zM1316 1315h18v9h-18zM1508 1315h26v9h-26zM1299 1324h26v9h-26zM1508 1324h18v9h-18zM1291 1332h26v9h-26zM1508 1332h18v9h-18zM1282 1340h26v9h-26zM1500 1340h18v9h-18zM1274 1349h18v9h-18zM1500 1349h18v9h-18zM1266 1357h18v9h-18zM1500 1357h18v9h-18zM1249 1365h18v9h-18zM1500 1365h9v9h-9zM1240 1374h18v9h-18zM1492 1374h18v9h-18zM1232 1382h18v9h-18zM1492 1382h18v9h-18zM1224 1390h18v9h-18zM1492 1390h18v9h-18zM1215 1399h18v9h-18zM1492 1399h18v9h-18zM1207 1407h18v9h-18zM1492 1407h18v9h-18zM1199 1416h18v9h-18zM1492 1416h18v9h-18zM1182 1424h26v9h-26zM1492 1424h18v9h-18zM1174 1432h26v9h-26zM1165 1441h18v9h-18zM780 1449h9v9h-9zM1157 1449h18v9h-18zM780 1457h9v9h-9zM1148 1457h18v9h-18zM1140 1466h18v9h-18zM1132 1474h18v9h-18zM1123 1482h18v9h-18zM772 1491h9v9h-9zM1115 1491h18v9h-18zM1115 1499h9v9h-9zM1107 1508h9v9h-9zM1098 1516h9v9h-9zM1081 1524h18v9h-18zM1073 1533h18v9h-18zM705 1541h9v9h-9zM1056 1541h18v9h-18zM696 1549h9v9h-9zM1048 1549h9v9h-9zM730 1558h9v9h-9zM1031 1558h18v9h-18zM688 1566h9v9h-9zM1014 1566h18v9h-18zM688 1574h9v9h-9zM1006 1574h18v9h-18zM989 1583h18v9h-18zM680 1591h18v9h-18zM973 1591h26v9h-26zM680 1600h18v9h-18zM948 1600h34v9h-34zM688 1608h18v9h-18zM922 1608h43v9h-43zM688 1616h26v9h-26zM889 1616h60v9h-60zM696 1625h26v9h-26zM830 1625h93v9h-93zM713 1633h26v9h-26zM797 1633h93v9h-93zM722 1641h127v9h-127zM738 1650h68v9h-68z"/>
<path fill="#f6b090" d="M705 261h18v9h-18zM763 270h9v9h-9zM563 336h9v9h-9zM454 504h9v9h-9zM378 512h9v9h-9zM370 554h9v9h-9zM311 629h9v9h-9zM286 730h9v9h-9zM328 763h9v9h-9zM253 771h26v9h-26zM194 780h85v9h-85zM194 788h68v9h-68zM353 788h9v9h-9zM194 797h43v9h-43zM429 930h9v9h-9zM437 939h9v9h-9zM462 972h9v9h-9zM504 1006h9v9h-9zM563 1022h9v9h-9zM696 1123h9v9h-9zM1517 1123h18v9h-18zM1492 1131h51v9h-51zM1466 1139h76v9h-76zM1450 1148h101v9h-101zM747 1156h9v9h-9zM1433 1156h118v9h-118zM1416 1165h135v9h-135zM1416 1173h135v9h-135zM1408 1181h143v9h-143zM789 1190h9v9h-9zM1400 1190h60v9h-60zM1508 1190h51v9h-51zM1400 1198h43v9h-43zM1517 1198h43v9h-43zM1391 1206h34v9h-34zM1525 1206h34v9h-34zM814 1215h9v9h-9zM1391 1215h26v9h-26zM1533 1215h26v9h-26zM1383 1223h26v9h-26zM1533 1223h26v9h-26zM1374 1231h26v9h-26zM1533 1231h26v9h-26zM1366 1240h26v9h-26zM1542 1240h18v9h-18zM1366 1248h18v9h-18zM1542 1248h26v9h-26zM1358 1257h18v9h-18zM1542 1257h26v9h-26zM1349 1265h18v9h-18zM1542 1265h26v9h-26zM1341 1273h18v9h-18zM1542 1273h26v9h-26zM1324 1282h26v9h-26zM1542 1282h18v9h-18zM1316 1290h26v9h-26zM1542 1290h18v9h-18zM1307 1298h26v9h-26zM1533 1298h26v9h-26zM1299 1307h26v9h-26zM1533 1307h26v9h-26zM1291 1315h26v9h-26zM1533 1315h18v9h-18zM1282 1324h18v9h-18zM1525 1324h26v9h-26zM1274 1332h18v9h-18zM1525 1332h18v9h-18zM1266 1340h18v9h-18zM1517 1340h26v9h-26zM1257 1349h18v9h-18zM1517 1349h18v9h-18zM1249 1357h18v9h-18zM1517 1357h18v9h-18zM797 1365h9v9h-9zM1240 1365h9v9h-9zM1508 1365h18v9h-18zM1224 1374h18v9h-18zM1508 1374h18v9h-18zM1215 1382h18v9h-18zM1508 1382h18v9h-18zM1207 1390h18v9h-18zM1508 1390h18v9h-18zM1199 1399h18v9h-18zM1508 1399h18v9h-18zM1190 1407h18v9h-18zM1508 1407h18v9h-18zM789 1416h9v9h-9zM1174 1416h26v9h-26zM1508 1416h18v9h-18zM1165 1424h18v9h-18zM1508 1424h9v9h-9zM1157 1432h18v9h-18zM1140 1441h26v9h-26zM1132 1449h26v9h-26zM1132 1457h18v9h-18zM780 1466h9v9h-9zM1123 1466h18v9h-18zM1115 1474h18v9h-18zM1115 1482h9v9h-9zM1107 1491h9v9h-9zM772 1499h9v9h-9zM1098 1499h18v9h-18zM1090 1508h18v9h-18zM763 1516h9v9h-9zM1081 1516h18v9h-18zM755 1524h9v9h-9zM1073 1524h9v9h-9zM747 1533h9v9h-9zM1056 1533h18v9h-18zM713 1541h9v9h-9zM747 1541h9v9h-9zM1048 1541h9v9h-9zM705 1549h18v9h-18zM747 1549h9v9h-9zM1031 1549h18v9h-18zM696 1558h34v9h-34zM738 1558h9v9h-9zM1014 1558h18v9h-18zM696 1566h18v9h-18zM989 1566h26v9h-26zM696 1574h26v9h-26zM973 1574h34v9h-34zM688 1583h34v9h-34zM948 1583h43v9h-43zM696 1591h26v9h-26zM914 1591h60v9h-60zM696 1600h34v9h-34zM830 1600h118v9h-118zM705 1608h43v9h-43zM789 1608h135v9h-135zM713 1616h177v9h-177zM722 1625h110v9h-110zM738 1633h60v9h-60z"/>
<path fill="#f5aa89" d="M696 261h9v9h-9zM638 286h9v9h-9zM219 311h9v9h-9zM186 320h9v9h-9zM554 320h9v9h-9zM412 362h9v9h-9zM512 362h9v9h-9zM504 370h9v9h-9zM496 378h9v9h-9zM487 387h9v9h-9zM479 395h9v9h-9zM387 512h9v9h-9zM320 612h9v9h-9zM353 646h9v9h-9zM303 654h9v9h-9zM328 746h9v9h-9zM194 755h93v9h-93zM328 755h9v9h-9zM194 763h85v9h-85zM337 763h9v9h-9zM194 771h60v9h-60zM370 813h9v9h-9zM378 838h9v9h-9zM387 855h9v9h-9zM395 872h9v9h-9zM403 889h9v9h-9zM445 947h9v9h-9zM470 981h9v9h-9zM479 989h9v9h-9zM1559 1006h18v9h-18zM1542 1014h51v9h-51zM1533 1022h60v9h-60zM1525 1031h76v9h-76zM1517 1039h85v9h-85zM1517 1047h85v9h-85zM1508 1056h93v9h-93zM1508 1064h93v9h-93zM638 1073h9v9h-9zM1500 1073h93v9h-93zM1492 1081h101v9h-101zM1483 1089h110v9h-110zM1475 1098h118v9h-118zM1450 1106h135v9h-135zM1433 1114h152v9h-152zM1416 1123h101v9h-101zM1533 1123h51v9h-51zM713 1131h9v9h-9zM1408 1131h85v9h-85zM1542 1131h43v9h-43zM1400 1139h68v9h-68zM1542 1139h43v9h-43zM738 1148h9v9h-9zM1391 1148h60v9h-60zM1550 1148h34v9h-34zM1383 1156h51v9h-51zM1550 1156h34v9h-34zM1383 1165h34v9h-34zM1550 1165h34v9h-34zM772 1173h9v9h-9zM1383 1173h34v9h-34zM1550 1173h34v9h-34zM780 1181h9v9h-9zM1374 1181h34v9h-34zM1550 1181h34v9h-34zM1374 1190h26v9h-26zM1559 1190h26v9h-26zM1374 1198h26v9h-26zM1559 1198h26v9h-26zM1366 1206h26v9h-26zM1559 1206h26v9h-26zM1366 1215h26v9h-26zM1559 1215h26v9h-26zM1358 1223h26v9h-26zM1559 1223h26v9h-26zM1358 1231h18v9h-18zM1559 1231h26v9h-26zM1349 1240h18v9h-18zM1559 1240h26v9h-26zM1341 1248h26v9h-26zM1567 1248h18v9h-18zM1333 1257h26v9h-26zM1567 1257h26v9h-26zM1324 1265h26v9h-26zM1567 1265h26v9h-26zM1316 1273h26v9h-26zM1567 1273h26v9h-26zM1307 1282h18v9h-18zM1559 1282h26v9h-26zM1299 1290h18v9h-18zM1559 1290h26v9h-26zM1291 1298h18v9h-18zM1559 1298h26v9h-26zM1282 1307h18v9h-18zM1559 1307h26v9h-26zM1274 1315h18v9h-18zM1550 1315h34v9h-34zM1266 1324h18v9h-18zM1550 1324h26v9h-26zM1257 1332h18v9h-18zM1542 1332h34v9h-34zM1249 1340h18v9h-18zM1542 1340h26v9h-26zM1240 1349h18v9h-18zM1533 1349h34v9h-34zM1232 1357h18v9h-18zM1533 1357h26v9h-26zM1224 1365h18v9h-18zM1525 1365h34v9h-34zM797 1374h9v9h-9zM1207 1374h18v9h-18zM1525 1374h26v9h-26zM1199 1382h18v9h-18zM1525 1382h26v9h-26zM1190 1390h18v9h-18zM1525 1390h18v9h-18zM1174 1399h26v9h-26zM1525 1399h18v9h-18zM1165 1407h26v9h-26zM1525 1407h18v9h-18zM1157 1416h18v9h-18zM1525 1416h18v9h-18zM789 1424h9v9h-9zM1140 1424h26v9h-26zM789 1432h9v9h-9zM1132 1432h26v9h-26zM1123 1441h18v9h-18zM1123 1449h9v9h-9zM1115 1457h18v9h-18zM1107 1466h18v9h-18zM780 1474h9v9h-9zM1107 1474h9v9h-9zM780 1482h9v9h-9zM1098 1482h18v9h-18zM780 1491h9v9h-9zM1098 1491h9v9h-9zM1090 1499h9v9h-9zM772 1508h9v9h-9zM1081 1508h9v9h-9zM772 1516h18v9h-18zM1073 1516h9v9h-9zM763 1524h26v9h-26zM1056 1524h18v9h-18zM755 1533h43v9h-43zM1040 1533h18v9h-18zM755 1541h51v9h-51zM1023 1541h26v9h-26zM755 1549h60v9h-60zM998 1549h34v9h-34zM747 1558h85v9h-85zM964 1558h51v9h-51zM713 1566h143v9h-143zM914 1566h76v9h-76zM722 1574h252v9h-252zM722 1583h227v9h-227zM722 1591h194v9h-194zM730 1600h101v9h-101zM747 1608h43v9h-43z"/>
<path fill="#f4a582" d="M680 261h18v9h-18zM722 261h9v9h-9zM663 278h9v9h-9zM228 311h9v9h-9zM412 353h9v9h-9zM387 378h9v9h-9zM470 403h9v9h-9zM487 462h9v9h-9zM395 479h9v9h-9zM362 487h9v9h-9zM462 495h9v9h-9zM295 688h9v9h-9zM286 721h9v9h-9zM203 730h68v9h-68zM194 738h93v9h-93zM194 746h93v9h-93zM337 755h9v9h-9zM345 771h9v9h-9zM353 780h9v9h-9zM362 797h9v9h-9zM412 905h9v9h-9zM454 955h9v9h-9zM1533 989h68v9h-68zM1517 997h93v9h-93zM512 1006h9v9h-9zM1508 1006h51v9h-51zM1575 1006h43v9h-43zM1500 1014h43v9h-43zM1592 1014h26v9h-26zM1500 1022h34v9h-34zM1592 1022h26v9h-26zM1492 1031h34v9h-34zM1600 1031h26v9h-26zM1483 1039h34v9h-34zM1600 1039h26v9h-26zM604 1047h9v9h-9zM1483 1047h34v9h-34zM1600 1047h26v9h-26zM1475 1056h34v9h-34zM1600 1056h26v9h-26zM629 1064h9v9h-9zM1466 1064h43v9h-43zM1600 1064h26v9h-26zM1458 1073h43v9h-43zM1592 1073h34v9h-34zM1441 1081h51v9h-51zM1592 1081h34v9h-34zM1425 1089h60v9h-60zM1592 1089h26v9h-26zM1408 1098h68v9h-68zM1592 1098h26v9h-26zM1391 1106h60v9h-60zM1584 1106h34v9h-34zM1383 1114h51v9h-51zM1584 1114h34v9h-34zM1374 1123h43v9h-43zM1584 1123h26v9h-26zM1374 1131h34v9h-34zM1584 1131h26v9h-26zM730 1139h9v9h-9zM1366 1139h34v9h-34zM1584 1139h26v9h-26zM1366 1148h26v9h-26zM1584 1148h26v9h-26zM1366 1156h18v9h-18zM1584 1156h26v9h-26zM763 1165h9v9h-9zM1358 1165h26v9h-26zM1584 1165h34v9h-34zM1358 1173h26v9h-26zM1584 1173h34v9h-34zM1358 1181h18v9h-18zM1584 1181h34v9h-34zM1358 1190h18v9h-18zM1584 1190h34v9h-34zM1349 1198h26v9h-26zM1584 1198h34v9h-34zM1349 1206h18v9h-18zM1584 1206h34v9h-34zM1341 1215h26v9h-26zM1584 1215h34v9h-34zM1341 1223h18v9h-18zM1584 1223h34v9h-34zM1333 1231h26v9h-26zM1584 1231h34v9h-34zM1324 1240h26v9h-26zM1584 1240h34v9h-34zM822 1248h9v9h-9zM1316 1248h26v9h-26zM1584 1248h34v9h-34zM1307 1257h26v9h-26zM1592 1257h26v9h-26zM1299 1265h26v9h-26zM1592 1265h26v9h-26zM1291 1273h26v9h-26zM1592 1273h26v9h-26zM814 1282h9v9h-9zM1282 1282h26v9h-26zM1584 1282h34v9h-34zM1274 1290h26v9h-26zM1584 1290h34v9h-34zM1266 1298h26v9h-26zM1584 1298h34v9h-34zM805 1307h9v9h-9zM1257 1307h26v9h-26zM1584 1307h34v9h-34zM1257 1315h18v9h-18zM1584 1315h34v9h-34zM1249 1324h18v9h-18zM1575 1324h43v9h-43zM1240 1332h18v9h-18zM1575 1332h43v9h-43zM1232 1340h18v9h-18zM1567 1340h51v9h-51zM1224 1349h18v9h-18zM1567 1349h51v9h-51zM1215 1357h18v9h-18zM1559 1357h51v9h-51zM1199 1365h26v9h-26zM1559 1365h51v9h-51zM1190 1374h18v9h-18zM1550 1374h51v9h-51zM797 1382h9v9h-9zM1174 1382h26v9h-26zM1550 1382h43v9h-43zM797 1390h9v9h-9zM1165 1390h26v9h-26zM1542 1390h51v9h-51zM797 1399h9v9h-9zM1157 1399h18v9h-18zM1542 1399h43v9h-43zM1140 1407h26v9h-26zM1542 1407h34v9h-34zM1132 1416h26v9h-26zM1542 1416h18v9h-18zM1123 1424h18v9h-18zM1115 1432h18v9h-18zM789 1441h9v9h-9zM1115 1441h9v9h-9zM789 1449h9v9h-9zM1107 1449h18v9h-18zM789 1457h9v9h-9zM1107 1457h9v9h-9zM789 1466h9v9h-9zM1098 1466h9v9h-9zM789 1474h9v9h-9zM1090 1474h18v9h-18zM789 1482h26v9h-26zM1090 1482h9v9h-9zM789 1491h34v9h-34zM1081 1491h18v9h-18zM780 1499h51v9h-51zM1073 1499h18v9h-18zM780 1508h68v9h-68zM1065 1508h18v9h-18zM789 1516h68v9h-68zM1056 1516h18v9h-18zM789 1524h85v9h-85zM1040 1524h18v9h-18zM797 1533h110v9h-110zM1006 1533h34v9h-34zM805 1541h219v9h-219zM814 1549h185v9h-185zM830 1558h135v9h-135zM855 1566h60v9h-60z"/>
<path fill="#f19e7d" d="M479 236h9v9h-9zM496 236h9v9h-9zM671 261h9v9h-9zM604 303h9v9h-9zM236 328h9v9h-9zM554 345h9v9h-9zM512 428h9v9h-9zM864 437h26v9h-26zM830 445h76v9h-76zM805 454h110v9h-110zM789 462h127v9h-127zM395 470h9v9h-9zM780 470h143v9h-143zM772 479h152v9h-152zM772 487h143v9h-143zM772 495h143v9h-143zM780 504h118v9h-118zM789 512h101v9h-101zM370 520h9v9h-9zM814 520h60v9h-60zM437 529h9v9h-9zM378 537h9v9h-9zM420 554h9v9h-9zM328 596h9v9h-9zM362 629h9v9h-9zM303 646h9v9h-9zM295 679h9v9h-9zM345 679h9v9h-9zM219 704h51v9h-51zM219 713h76v9h-76zM337 713h9v9h-9zM211 721h76v9h-76zM270 730h18v9h-18zM337 746h9v9h-9zM345 763h9v9h-9zM378 830h9v9h-9zM420 914h9v9h-9zM1533 972h93v9h-93zM1508 981h127v9h-127zM1492 989h43v9h-43zM1600 989h34v9h-34zM496 997h9v9h-9zM1492 997h26v9h-26zM1609 997h34v9h-34zM521 1006h9v9h-9zM1483 1006h26v9h-26zM1617 1006h26v9h-26zM1475 1014h26v9h-26zM1617 1014h26v9h-26zM1475 1022h26v9h-26zM1617 1022h26v9h-26zM579 1031h9v9h-9zM1466 1031h26v9h-26zM1626 1031h18v9h-18zM1458 1039h26v9h-26zM1626 1039h26v9h-26zM1450 1047h34v9h-34zM1626 1047h26v9h-26zM621 1056h9v9h-9zM1441 1056h34v9h-34zM1626 1056h26v9h-26zM1433 1064h34v9h-34zM1626 1064h26v9h-26zM1416 1073h43v9h-43zM1626 1073h26v9h-26zM1400 1081h43v9h-43zM1626 1081h34v9h-34zM663 1089h9v9h-9zM1391 1089h34v9h-34zM1617 1089h43v9h-43zM1374 1098h34v9h-34zM1617 1098h43v9h-43zM1366 1106h26v9h-26zM1617 1106h43v9h-43zM688 1114h9v9h-9zM1358 1114h26v9h-26zM1617 1114h43v9h-43zM1358 1123h18v9h-18zM1609 1123h51v9h-51zM1349 1131h26v9h-26zM1609 1131h51v9h-51zM1349 1139h18v9h-18zM1609 1139h51v9h-51zM1349 1148h18v9h-18zM1609 1148h51v9h-51zM1341 1156h26v9h-26zM1609 1156h51v9h-51zM1341 1165h18v9h-18zM1617 1165h51v9h-51zM1341 1173h18v9h-18zM1617 1173h60v9h-60zM1333 1181h26v9h-26zM1617 1181h60v9h-60zM1333 1190h26v9h-26zM1617 1190h68v9h-68zM805 1198h9v9h-9zM1333 1198h18v9h-18zM1617 1198h68v9h-68zM814 1206h9v9h-9zM1324 1206h26v9h-26zM1617 1206h68v9h-68zM1324 1215h18v9h-18zM1617 1215h68v9h-68zM1316 1223h26v9h-26zM1617 1223h60v9h-60zM1316 1231h18v9h-18zM1617 1231h51v9h-51zM822 1240h9v9h-9zM1307 1240h18v9h-18zM1617 1240h51v9h-51zM1299 1248h18v9h-18zM1617 1248h51v9h-51zM822 1257h9v9h-9zM1291 1257h18v9h-18zM1617 1257h51v9h-51zM1282 1265h18v9h-18zM1617 1265h51v9h-51zM1274 1273h18v9h-18zM1617 1273h43v9h-43zM1266 1282h18v9h-18zM1617 1282h43v9h-43zM1257 1290h18v9h-18zM1617 1290h43v9h-43zM1249 1298h18v9h-18zM1617 1298h34v9h-34zM1240 1307h18v9h-18zM1617 1307h34v9h-34zM805 1315h9v9h-9zM1240 1315h18v9h-18zM1617 1315h26v9h-26zM1232 1324h18v9h-18zM1617 1324h18v9h-18zM1224 1332h18v9h-18zM1617 1332h18v9h-18zM1215 1340h18v9h-18zM1617 1340h9v9h-9zM1199 1349h26v9h-26zM1617 1349h9v9h-9zM1190 1357h26v9h-26zM1609 1357h18v9h-18zM1174 1365h26v9h-26zM1609 1365h9v9h-9zM1165 1374h26v9h-26zM1600 1374h9v9h-9zM1148 1382h26v9h-26zM1592 1382h9v9h-9zM1140 1390h26v9h-26zM1132 1399h26v9h-26zM797 1407h9v9h-9zM1123 1407h18v9h-18zM1115 1416h18v9h-18zM1107 1424h18v9h-18zM797 1432h9v9h-9zM1107 1432h9v9h-9zM797 1441h9v9h-9zM1098 1441h18v9h-18zM797 1449h18v9h-18zM1098 1449h9v9h-9zM797 1457h34v9h-34zM1090 1457h18v9h-18zM797 1466h43v9h-43zM1090 1466h9v9h-9zM797 1474h60v9h-60zM1081 1474h9v9h-9zM814 1482h51v9h-51zM1073 1482h18v9h-18zM822 1491h60v9h-60zM1065 1491h18v9h-18zM830 1499h68v9h-68zM1056 1499h18v9h-18zM847 1508h76v9h-76zM1048 1508h18v9h-18zM855 1516h118v9h-118zM1023 1516h34v9h-34zM872 1524h168v9h-168zM906 1533h101v9h-101z"/>
<path fill="#ee9777" d="M470 244h9v9h-9zM663 261h9v9h-9zM730 261h9v9h-9zM604 278h9v9h-9zM671 278h9v9h-9zM236 311h9v9h-9zM563 311h9v9h-9zM228 328h9v9h-9zM244 328h9v9h-9zM387 370h9v9h-9zM462 412h9v9h-9zM855 420h51v9h-51zM822 428h93v9h-93zM378 437h9v9h-9zM797 437h68v9h-68zM889 437h34v9h-34zM772 445h60v9h-60zM906 445h26v9h-26zM755 454h51v9h-51zM914 454h26v9h-26zM370 462h9v9h-9zM747 462h43v9h-43zM914 462h26v9h-26zM738 470h43v9h-43zM922 470h18v9h-18zM738 479h34v9h-34zM922 479h18v9h-18zM738 487h34v9h-34zM914 487h26v9h-26zM738 495h34v9h-34zM914 495h18v9h-18zM738 504h43v9h-43zM897 504h34v9h-34zM747 512h43v9h-43zM889 512h26v9h-26zM755 520h60v9h-60zM872 520h34v9h-34zM772 529h127v9h-127zM789 537h93v9h-93zM822 546h34v9h-34zM403 579h9v9h-9zM211 663h26v9h-26zM211 671h68v9h-68zM295 671h9v9h-9zM211 679h85v9h-85zM211 688h85v9h-85zM211 696h85v9h-85zM270 704h26v9h-26zM337 721h9v9h-9zM337 730h9v9h-9zM337 738h9v9h-9zM345 755h9v9h-9zM353 771h9v9h-9zM362 788h9v9h-9zM370 805h9v9h-9zM387 847h9v9h-9zM395 863h9v9h-9zM403 880h9v9h-9zM412 897h9v9h-9zM429 922h9v9h-9zM437 930h9v9h-9zM445 939h9v9h-9zM1567 955h76v9h-76zM462 964h9v9h-9zM1500 964h160v9h-160zM470 972h9v9h-9zM1483 972h51v9h-51zM1626 972h43v9h-43zM1475 981h34v9h-34zM1634 981h34v9h-34zM487 989h9v9h-9zM1466 989h26v9h-26zM1634 989h43v9h-43zM1466 997h26v9h-26zM1642 997h34v9h-34zM529 1006h9v9h-9zM1458 1006h26v9h-26zM1642 1006h34v9h-34zM554 1014h9v9h-9zM1458 1014h18v9h-18zM1642 1014h34v9h-34zM1450 1022h26v9h-26zM1642 1022h34v9h-34zM1441 1031h26v9h-26zM1642 1031h34v9h-34zM596 1039h9v9h-9zM1441 1039h18v9h-18zM1651 1039h26v9h-26zM1433 1047h18v9h-18zM1651 1047h34v9h-34zM1416 1056h26v9h-26zM1651 1056h34v9h-34zM1408 1064h26v9h-26zM1651 1064h43v9h-43zM1391 1073h26v9h-26zM1651 1073h43v9h-43zM655 1081h9v9h-9zM1374 1081h26v9h-26zM1659 1081h34v9h-34zM1366 1089h26v9h-26zM1659 1089h34v9h-34zM671 1098h9v9h-9zM1358 1098h18v9h-18zM1659 1098h26v9h-26zM680 1106h9v9h-9zM1349 1106h18v9h-18zM1659 1106h26v9h-26zM1341 1114h18v9h-18zM1659 1114h26v9h-26zM705 1123h9v9h-9zM1333 1123h26v9h-26zM1659 1123h26v9h-26zM722 1131h9v9h-9zM1333 1131h18v9h-18zM1659 1131h26v9h-26zM1324 1139h26v9h-26zM1659 1139h26v9h-26zM1324 1148h26v9h-26zM1659 1148h26v9h-26zM755 1156h9v9h-9zM1324 1156h18v9h-18zM1659 1156h26v9h-26zM1324 1165h18v9h-18zM1667 1165h18v9h-18zM1316 1173h26v9h-26zM1676 1173h9v9h-9zM1316 1181h18v9h-18zM1676 1181h9v9h-9zM797 1190h9v9h-9zM1316 1190h18v9h-18zM1307 1198h26v9h-26zM1307 1206h18v9h-18zM1299 1215h26v9h-26zM1291 1223h26v9h-26zM822 1231h9v9h-9zM1291 1231h26v9h-26zM1282 1240h26v9h-26zM1274 1248h26v9h-26zM1266 1257h26v9h-26zM1257 1265h26v9h-26zM1249 1273h26v9h-26zM1240 1282h26v9h-26zM814 1290h9v9h-9zM1240 1290h18v9h-18zM1232 1298h18v9h-18zM1224 1307h18v9h-18zM1215 1315h26v9h-26zM805 1324h9v9h-9zM1207 1324h26v9h-26zM805 1332h9v9h-9zM1199 1332h26v9h-26zM805 1340h9v9h-9zM1190 1340h26v9h-26zM805 1349h9v9h-9zM1174 1349h26v9h-26zM805 1357h9v9h-9zM1157 1357h34v9h-34zM1148 1365h26v9h-26zM1132 1374h34v9h-34zM1123 1382h26v9h-26zM1115 1390h26v9h-26zM1115 1399h18v9h-18zM1107 1407h18v9h-18zM797 1416h9v9h-9zM1098 1416h18v9h-18zM797 1424h18v9h-18zM1098 1424h9v9h-9zM805 1432h26v9h-26zM1090 1432h18v9h-18zM805 1441h43v9h-43zM1090 1441h9v9h-9zM814 1449h51v9h-51zM1081 1449h18v9h-18zM830 1457h43v9h-43zM1081 1457h9v9h-9zM839 1466h51v9h-51zM1073 1466h18v9h-18zM855 1474h51v9h-51zM1065 1474h18v9h-18zM864 1482h60v9h-60zM1056 1482h18v9h-18zM881 1491h68v9h-68zM1048 1491h18v9h-18zM897 1499h93v9h-93zM1031 1499h26v9h-26zM922 1508h127v9h-127zM973 1516h51v9h-51z"/>
<path fill="#eb9072" d="M496 253h9v9h-9zM738 261h9v9h-9zM629 270h9v9h-9zM680 278h9v9h-9zM244 311h9v9h-9zM219 328h9v9h-9zM403 345h9v9h-9zM855 403h60v9h-60zM830 412h93v9h-93zM454 420h9v9h-9zM797 420h60v9h-60zM906 420h26v9h-26zM763 428h60v9h-60zM914 428h26v9h-26zM437 437h9v9h-9zM738 437h60v9h-60zM922 437h26v9h-26zM730 445h43v9h-43zM931 445h18v9h-18zM496 454h9v9h-9zM722 454h34v9h-34zM939 454h18v9h-18zM713 462h34v9h-34zM939 462h18v9h-18zM713 470h26v9h-26zM939 470h18v9h-18zM713 479h26v9h-26zM939 479h18v9h-18zM470 487h9v9h-9zM713 487h26v9h-26zM939 487h18v9h-18zM387 495h9v9h-9zM713 495h26v9h-26zM931 495h26v9h-26zM713 504h26v9h-26zM931 504h18v9h-18zM722 512h26v9h-26zM914 512h26v9h-26zM362 520h9v9h-9zM722 520h34v9h-34zM906 520h26v9h-26zM730 529h43v9h-43zM897 529h26v9h-26zM747 537h43v9h-43zM881 537h26v9h-26zM755 546h68v9h-68zM855 546h43v9h-43zM772 554h110v9h-110zM805 562h60v9h-60zM337 579h9v9h-9zM228 596h18v9h-18zM228 604h51v9h-51zM320 604h9v9h-9zM219 612h76v9h-76zM370 612h9v9h-9zM211 621h93v9h-93zM311 621h9v9h-9zM211 629h101v9h-101zM203 638h110v9h-110zM203 646h101v9h-101zM203 654h101v9h-101zM236 663h68v9h-68zM278 671h18v9h-18zM345 738h9v9h-9zM345 746h9v9h-9zM353 755h9v9h-9zM353 763h9v9h-9zM362 780h9v9h-9zM370 797h9v9h-9zM378 822h9v9h-9zM420 905h9v9h-9zM1659 930h18v9h-18zM1609 939h101v9h-101zM454 947h9v9h-9zM1508 947h210v9h-210zM1466 955h101v9h-101zM1642 955h93v9h-93zM1458 964h43v9h-43zM1659 964h85v9h-85zM1458 972h26v9h-26zM1667 972h85v9h-85zM479 981h9v9h-9zM1450 981h26v9h-26zM1667 981h93v9h-93zM1450 989h18v9h-18zM1676 989h93v9h-93zM1441 997h26v9h-26zM1676 997h76v9h-76zM537 1006h9v9h-9zM1441 1006h18v9h-18zM1676 1006h68v9h-68zM1441 1014h18v9h-18zM1676 1014h60v9h-60zM571 1022h9v9h-9zM1433 1022h18v9h-18zM1676 1022h60v9h-60zM1425 1031h18v9h-18zM1676 1031h51v9h-51zM1416 1039h26v9h-26zM1676 1039h51v9h-51zM613 1047h9v9h-9zM1408 1047h26v9h-26zM1684 1047h34v9h-34zM1400 1056h18v9h-18zM1684 1056h26v9h-26zM1383 1064h26v9h-26zM1692 1064h9v9h-9zM646 1073h9v9h-9zM1366 1073h26v9h-26zM1349 1081h26v9h-26zM1341 1089h26v9h-26zM1333 1098h26v9h-26zM1324 1106h26v9h-26zM1316 1114h26v9h-26zM1316 1123h18v9h-18zM1307 1131h26v9h-26zM738 1139h9v9h-9zM1307 1139h18v9h-18zM747 1148h9v9h-9zM1299 1148h26v9h-26zM1299 1156h26v9h-26zM772 1165h9v9h-9zM1291 1165h34v9h-34zM780 1173h9v9h-9zM1291 1173h26v9h-26zM789 1181h9v9h-9zM1282 1181h34v9h-34zM1282 1190h34v9h-34zM1274 1198h34v9h-34zM1274 1206h34v9h-34zM1266 1215h34v9h-34zM822 1223h9v9h-9zM1257 1223h34v9h-34zM1249 1231h43v9h-43zM1240 1240h43v9h-43zM1240 1248h34v9h-34zM1232 1257h34v9h-34zM822 1265h9v9h-9zM1232 1265h26v9h-26zM1224 1273h26v9h-26zM1215 1282h26v9h-26zM1215 1290h26v9h-26zM1207 1298h26v9h-26zM1199 1307h26v9h-26zM1190 1315h26v9h-26zM1182 1324h26v9h-26zM1165 1332h34v9h-34zM1148 1340h43v9h-43zM1132 1349h43v9h-43zM1123 1357h34v9h-34zM805 1365h9v9h-9zM1115 1365h34v9h-34zM805 1374h9v9h-9zM1115 1374h18v9h-18zM805 1382h9v9h-9zM1107 1382h18v9h-18zM805 1390h9v9h-9zM1098 1390h18v9h-18zM805 1399h18v9h-18zM1098 1399h18v9h-18zM805 1407h26v9h-26zM1090 1407h18v9h-18zM805 1416h43v9h-43zM1090 1416h9v9h-9zM814 1424h43v9h-43zM1081 1424h18v9h-18zM830 1432h43v9h-43zM1081 1432h9v9h-9zM847 1441h34v9h-34zM1073 1441h18v9h-18zM864 1449h34v9h-34zM1065 1449h18v9h-18zM872 1457h51v9h-51zM1065 1457h18v9h-18zM889 1466h51v9h-51zM1056 1466h18v9h-18zM906 1474h60v9h-60zM1048 1474h18v9h-18zM922 1482h76v9h-76zM1023 1482h34v9h-34zM948 1491h101v9h-101zM989 1499h43v9h-43z"/>
<path fill="#e8896d" d="M470 253h9v9h-9zM655 261h9v9h-9zM747 261h9v9h-9zM688 278h9v9h-9zM186 303h18v9h-18zM211 328h9v9h-9zM864 387h51v9h-51zM839 395h93v9h-93zM805 403h51v9h-51zM914 403h26v9h-26zM772 412h60v9h-60zM922 412h26v9h-26zM738 420h60v9h-60zM931 420h26v9h-26zM445 428h9v9h-9zM722 428h43v9h-43zM939 428h18v9h-18zM713 437h26v9h-26zM948 437h18v9h-18zM705 445h26v9h-26zM948 445h18v9h-18zM696 454h26v9h-26zM956 454h18v9h-18zM696 462h18v9h-18zM956 462h18v9h-18zM696 470h18v9h-18zM956 470h18v9h-18zM479 479h9v9h-9zM688 479h26v9h-26zM956 479h18v9h-18zM688 487h26v9h-26zM956 487h18v9h-18zM311 495h18v9h-18zM688 495h26v9h-26zM956 495h18v9h-18zM303 504h26v9h-26zM353 504h9v9h-9zM387 504h9v9h-9zM696 504h18v9h-18zM948 504h26v9h-26zM295 512h34v9h-34zM353 512h9v9h-9zM696 512h26v9h-26zM939 512h26v9h-26zM286 520h51v9h-51zM445 520h9v9h-9zM705 520h18v9h-18zM931 520h26v9h-26zM286 529h51v9h-51zM705 529h26v9h-26zM922 529h26v9h-26zM278 537h60v9h-60zM713 537h34v9h-34zM906 537h34v9h-34zM270 546h68v9h-68zM722 546h34v9h-34zM897 546h26v9h-26zM253 554h85v9h-85zM738 554h34v9h-34zM881 554h34v9h-34zM244 562h93v9h-93zM747 562h60v9h-60zM864 562h34v9h-34zM236 571h101v9h-101zM345 571h9v9h-9zM763 571h127v9h-127zM236 579h101v9h-101zM789 579h85v9h-85zM236 587h101v9h-101zM395 587h9v9h-9zM244 596h85v9h-85zM278 604h43v9h-43zM295 612h26v9h-26zM303 621h9v9h-9zM353 654h9v9h-9zM345 688h9v9h-9zM345 721h9v9h-9zM345 730h9v9h-9zM353 746h9v9h-9zM362 771h9v9h-9zM370 788h9v9h-9zM378 813h9v9h-9zM387 838h9v9h-9zM395 855h9v9h-9zM403 872h9v9h-9zM1692 880h26v9h-26zM412 889h9v9h-9zM1676 889h60v9h-60zM1659 897h93v9h-93zM1651 905h110v9h-110zM429 914h9v9h-9zM1642 914h135v9h-135zM437 922h9v9h-9zM1617 922h168v9h-168zM445 930h9v9h-9zM1592 930h68v9h-68zM1676 930h118v9h-118zM1466 939h143v9h-143zM1709 939h101v9h-101zM1450 947h60v9h-60zM1718 947h85v9h-85zM462 955h9v9h-9zM1441 955h26v9h-26zM1734 955h60v9h-60zM470 964h9v9h-9zM1441 964h18v9h-18zM1743 964h43v9h-43zM1433 972h26v9h-26zM1751 972h26v9h-26zM1433 981h18v9h-18zM1759 981h18v9h-18zM496 989h9v9h-9zM1433 989h18v9h-18zM504 997h9v9h-9zM1433 997h9v9h-9zM546 1006h9v9h-9zM1425 1006h18v9h-18zM563 1014h9v9h-9zM1425 1014h18v9h-18zM1416 1022h18v9h-18zM588 1031h9v9h-9zM1408 1031h18v9h-18zM1400 1039h18v9h-18zM1391 1047h18v9h-18zM629 1056h9v9h-9zM1374 1056h26v9h-26zM638 1064h9v9h-9zM1358 1064h26v9h-26zM1341 1073h26v9h-26zM663 1081h9v9h-9zM1324 1081h26v9h-26zM1316 1089h26v9h-26zM1307 1098h26v9h-26zM688 1106h9v9h-9zM1299 1106h26v9h-26zM696 1114h9v9h-9zM1291 1114h26v9h-26zM713 1123h9v9h-9zM1282 1123h34v9h-34zM730 1131h9v9h-9zM1274 1131h34v9h-34zM1266 1139h43v9h-43zM1257 1148h43v9h-43zM763 1156h9v9h-9zM1240 1156h60v9h-60zM1232 1165h60v9h-60zM1224 1173h68v9h-68zM1215 1181h68v9h-68zM805 1190h9v9h-9zM1215 1190h68v9h-68zM814 1198h9v9h-9zM1207 1198h68v9h-68zM1207 1206h68v9h-68zM822 1215h9v9h-9zM1207 1215h60v9h-60zM1207 1223h51v9h-51zM1207 1231h43v9h-43zM1207 1240h34v9h-34zM1199 1248h43v9h-43zM1199 1257h34v9h-34zM1199 1265h34v9h-34zM822 1273h9v9h-9zM1190 1273h34v9h-34zM1190 1282h26v9h-26zM1182 1290h34v9h-34zM814 1298h9v9h-9zM1174 1298h34v9h-34zM1157 1307h43v9h-43zM1148 1315h43v9h-43zM1132 1324h51v9h-51zM1123 1332h43v9h-43zM1115 1340h34v9h-34zM1107 1349h26v9h-26zM814 1357h9v9h-9zM1098 1357h26v9h-26zM814 1365h9v9h-9zM1098 1365h18v9h-18zM814 1374h9v9h-9zM1090 1374h26v9h-26zM814 1382h18v9h-18zM1090 1382h18v9h-18zM814 1390h26v9h-26zM1090 1390h9v9h-9zM822 1399h34v9h-34zM1081 1399h18v9h-18zM830 1407h34v9h-34zM1081 1407h9v9h-9zM847 1416h26v9h-26zM1073 1416h18v9h-18zM855 1424h34v9h-34zM1065 1424h18v9h-18zM872 1432h34v9h-34zM1065 1432h18v9h-18zM881 1441h43v9h-43zM1056 1441h18v9h-18zM897 1449h51v9h-51zM1048 1449h18v9h-18zM922 1457h51v9h-51zM1031 1457h34v9h-34zM939 1466h118v9h-118zM964 1474h85v9h-85zM998 1482h26v9h-26z"/>
<path fill="#e58268" d="M663 194h9v9h-9zM663 203h26v9h-26zM663 211h34v9h-34zM663 219h43v9h-43zM663 228h85v9h-85zM663 236h110v9h-110zM671 244h93v9h-93zM671 253h93v9h-93zM755 261h9v9h-9zM696 278h9v9h-9zM730 278h34v9h-34zM621 295h9v9h-9zM203 303h26v9h-26zM571 303h9v9h-9zM178 311h9v9h-9zM596 311h9v9h-9zM178 320h9v9h-9zM253 320h9v9h-9zM186 328h26v9h-26zM395 345h9v9h-9zM387 362h9v9h-9zM872 370h43v9h-43zM437 378h9v9h-9zM847 378h85v9h-85zM437 387h9v9h-9zM814 387h51v9h-51zM914 387h34v9h-34zM437 395h9v9h-9zM780 395h60v9h-60zM931 395h26v9h-26zM437 403h9v9h-9zM529 403h9v9h-9zM747 403h60v9h-60zM939 403h26v9h-26zM437 412h9v9h-9zM722 412h51v9h-51zM948 412h18v9h-18zM437 420h9v9h-9zM521 420h9v9h-9zM705 420h34v9h-34zM956 420h18v9h-18zM378 428h9v9h-9zM437 428h9v9h-9zM696 428h26v9h-26zM956 428h18v9h-18zM688 437h26v9h-26zM964 437h18v9h-18zM504 445h9v9h-9zM680 445h26v9h-26zM964 445h26v9h-26zM680 454h18v9h-18zM973 454h18v9h-18zM680 462h18v9h-18zM973 462h26v9h-26zM328 470h9v9h-9zM671 470h26v9h-26zM973 470h34v9h-34zM328 479h18v9h-18zM362 479h9v9h-9zM671 479h18v9h-18zM973 479h34v9h-34zM320 487h26v9h-26zM671 487h18v9h-18zM973 487h43v9h-43zM328 495h26v9h-26zM671 495h18v9h-18zM973 495h43v9h-43zM328 504h26v9h-26zM671 504h26v9h-26zM973 504h43v9h-43zM328 512h26v9h-26zM454 512h9v9h-9zM680 512h18v9h-18zM964 512h51v9h-51zM337 520h18v9h-18zM680 520h26v9h-26zM956 520h60v9h-60zM337 529h18v9h-18zM378 529h9v9h-9zM688 529h18v9h-18zM948 529h60v9h-60zM337 537h18v9h-18zM688 537h26v9h-26zM939 537h51v9h-51zM337 546h18v9h-18zM370 546h9v9h-9zM429 546h9v9h-9zM696 546h26v9h-26zM922 546h51v9h-51zM337 554h18v9h-18zM362 554h9v9h-9zM705 554h34v9h-34zM914 554h43v9h-43zM337 562h26v9h-26zM713 562h34v9h-34zM897 562h51v9h-51zM337 571h9v9h-9zM412 571h9v9h-9zM722 571h43v9h-43zM889 571h43v9h-43zM738 579h51v9h-51zM872 579h51v9h-51zM755 587h152v9h-152zM387 596h9v9h-9zM772 596h118v9h-118zM378 604h9v9h-9zM789 604h85v9h-85zM1600 671h34v9h-34zM1609 679h43v9h-43zM1609 688h60v9h-60zM345 696h9v9h-9zM1617 696h68v9h-68zM345 704h9v9h-9zM1626 704h43v9h-43zM345 713h9v9h-9zM353 730h9v9h-9zM353 738h9v9h-9zM362 755h9v9h-9zM362 763h9v9h-9zM1793 763h18v9h-18zM1785 771h26v9h-26zM370 780h9v9h-9zM1768 780h51v9h-51zM1751 788h68v9h-68zM1726 797h101v9h-101zM378 805h9v9h-9zM1701 805h127v9h-127zM1684 813h143v9h-143zM1676 822h152v9h-152zM387 830h9v9h-9zM1667 830h160v9h-160zM1667 838h168v9h-168zM1659 847h177v9h-177zM1659 855h177v9h-177zM1651 863h185v9h-185zM1182 872h26v9h-26zM1651 872h185v9h-185zM412 880h9v9h-9zM1174 880h34v9h-34zM1642 880h51v9h-51zM1718 880h118v9h-118zM1174 889h43v9h-43zM1634 889h43v9h-43zM1734 889h101v9h-101zM420 897h9v9h-9zM1174 897h43v9h-43zM1634 897h26v9h-26zM1751 897h76v9h-76zM429 905h9v9h-9zM1174 905h43v9h-43zM1617 905h34v9h-34zM1759 905h68v9h-68zM437 914h9v9h-9zM1182 914h26v9h-26zM1600 914h43v9h-43zM1776 914h51v9h-51zM1458 922h60v9h-60zM1575 922h43v9h-43zM1785 922h34v9h-34zM1441 930h152v9h-152zM1793 930h26v9h-26zM454 939h9v9h-9zM1433 939h34v9h-34zM462 947h9v9h-9zM814 947h43v9h-43zM1433 947h18v9h-18zM470 955h9v9h-9zM789 955h101v9h-101zM1425 955h18v9h-18zM780 964h118v9h-118zM1425 964h18v9h-18zM479 972h9v9h-9zM772 972h135v9h-135zM1098 972h51v9h-51zM1425 972h9v9h-9zM487 981h9v9h-9zM772 981h143v9h-143zM1081 981h76v9h-76zM1416 981h18v9h-18zM772 989h143v9h-143zM1081 989h76v9h-76zM1416 989h18v9h-18zM512 997h18v9h-18zM780 997h135v9h-135zM1073 997h85v9h-85zM1416 997h18v9h-18zM780 1006h127v9h-127zM1073 1006h85v9h-85zM1416 1006h9v9h-9zM789 1014h118v9h-118zM1073 1014h93v9h-93zM1408 1014h18v9h-18zM579 1022h9v9h-9zM797 1022h101v9h-101zM1073 1022h93v9h-93zM1400 1022h18v9h-18zM805 1031h85v9h-85zM1073 1031h93v9h-93zM1400 1031h9v9h-9zM604 1039h9v9h-9zM814 1039h68v9h-68zM1073 1039h93v9h-93zM1383 1039h18v9h-18zM621 1047h9v9h-9zM839 1047h18v9h-18zM1081 1047h85v9h-85zM1366 1047h26v9h-26zM638 1056h9v9h-9zM1081 1056h93v9h-93zM1349 1056h26v9h-26zM646 1064h9v9h-9zM1081 1064h93v9h-93zM1324 1064h34v9h-34zM655 1073h18v9h-18zM1081 1073h101v9h-101zM1307 1073h34v9h-34zM671 1081h9v9h-9zM1090 1081h101v9h-101zM1291 1081h34v9h-34zM671 1089h9v9h-9zM1090 1089h110v9h-110zM1274 1089h43v9h-43zM680 1098h9v9h-9zM1090 1098h118v9h-118zM1257 1098h51v9h-51zM696 1106h9v9h-9zM1090 1106h210v9h-210zM705 1114h9v9h-9zM1098 1114h194v9h-194zM722 1123h9v9h-9zM1098 1123h185v9h-185zM738 1131h9v9h-9zM1107 1131h168v9h-168zM747 1139h9v9h-9zM1115 1139h152v9h-152zM755 1148h18v9h-18zM1123 1148h135v9h-135zM772 1156h9v9h-9zM1132 1156h110v9h-110zM780 1165h18v9h-18zM1140 1165h93v9h-93zM789 1173h18v9h-18zM1148 1173h76v9h-76zM797 1181h18v9h-18zM1157 1181h60v9h-60zM814 1190h9v9h-9zM1157 1190h60v9h-60zM822 1198h9v9h-9zM1165 1198h43v9h-43zM822 1206h9v9h-9zM1165 1206h43v9h-43zM1165 1215h43v9h-43zM1165 1223h43v9h-43zM1165 1231h43v9h-43zM830 1240h9v9h-9zM1165 1240h43v9h-43zM830 1248h9v9h-9zM1165 1248h34v9h-34zM1157 1257h43v9h-43zM1157 1265h43v9h-43zM1148 1273h43v9h-43zM822 1282h9v9h-9zM1140 1282h51v9h-51zM1132 1290h51v9h-51zM1123 1298h51v9h-51zM814 1307h9v9h-9zM1107 1307h51v9h-51zM814 1315h9v9h-9zM1107 1315h43v9h-43zM814 1324h9v9h-9zM1098 1324h34v9h-34zM814 1332h9v9h-9zM1090 1332h34v9h-34zM814 1340h9v9h-9zM1090 1340h26v9h-26zM814 1349h18v9h-18zM1090 1349h18v9h-18zM822 1357h18v9h-18zM1081 1357h18v9h-18zM822 1365h26v9h-26zM1081 1365h18v9h-18zM822 1374h34v9h-34zM1081 1374h9v9h-9zM830 1382h26v9h-26zM1073 1382h18v9h-18zM839 1390h34v9h-34zM1073 1390h18v9h-18zM855 1399h26v9h-26zM1065 1399h18v9h-18zM864 1407h26v9h-26zM1056 1407h26v9h-26zM872 1416h34v9h-34zM1056 1416h18v9h-18zM889 1424h43v9h-43zM1048 1424h18v9h-18zM906 1432h51v9h-51zM1031 1432h34v9h-34zM922 1441h135v9h-135zM948 1449h101v9h-101zM973 1457h60v9h-60z"/>
<path fill="#e27c62" d="M646 194h18v9h-18zM646 203h18v9h-18zM646 211h18v9h-18zM646 219h18v9h-18zM646 228h18v9h-18zM780 228h43v9h-43zM646 236h18v9h-18zM772 236h43v9h-43zM178 244h18v9h-18zM646 244h26v9h-26zM763 244h43v9h-43zM178 253h34v9h-34zM270 253h18v9h-18zM646 253h26v9h-26zM763 253h34v9h-34zM178 261h43v9h-43zM261 261h26v9h-26zM479 261h9v9h-9zM646 261h9v9h-9zM763 261h26v9h-26zM178 270h110v9h-110zM772 270h9v9h-9zM178 278h110v9h-110zM705 278h26v9h-26zM763 278h9v9h-9zM178 286h110v9h-110zM646 286h9v9h-9zM680 286h68v9h-68zM178 295h110v9h-110zM178 303h9v9h-9zM228 303h51v9h-51zM253 311h26v9h-26zM261 320h18v9h-18zM178 328h9v9h-9zM253 328h26v9h-26zM178 336h101v9h-101zM178 345h101v9h-101zM178 353h101v9h-101zM387 353h9v9h-9zM881 353h51v9h-51zM178 362h101v9h-101zM847 362h101v9h-101zM178 370h101v9h-101zM546 370h9v9h-9zM822 370h51v9h-51zM914 370h51v9h-51zM186 378h93v9h-93zM789 378h60v9h-60zM931 378h34v9h-34zM203 387h76v9h-76zM537 387h9v9h-9zM747 387h68v9h-68zM948 387h26v9h-26zM211 395h68v9h-68zM722 395h60v9h-60zM956 395h26v9h-26zM228 403h43v9h-43zM705 403h43v9h-43zM964 403h26v9h-26zM696 412h26v9h-26zM964 412h26v9h-26zM378 420h9v9h-9zM688 420h18v9h-18zM973 420h26v9h-26zM680 428h18v9h-18zM973 428h34v9h-34zM671 437h18v9h-18zM981 437h34v9h-34zM663 445h18v9h-18zM989 445h34v9h-34zM370 454h9v9h-9zM663 454h18v9h-18zM989 454h51v9h-51zM328 462h18v9h-18zM655 462h26v9h-26zM998 462h51v9h-51zM337 470h18v9h-18zM487 470h9v9h-9zM655 470h18v9h-18zM1006 470h51v9h-51zM345 479h18v9h-18zM655 479h18v9h-18zM1006 479h60v9h-60zM345 487h18v9h-18zM655 487h18v9h-18zM1014 487h60v9h-60zM353 495h9v9h-9zM655 495h18v9h-18zM1014 495h68v9h-68zM462 504h9v9h-9zM655 504h18v9h-18zM1014 504h68v9h-68zM655 512h26v9h-26zM1014 512h68v9h-68zM353 520h9v9h-9zM378 520h9v9h-9zM655 520h26v9h-26zM1014 520h68v9h-68zM353 529h18v9h-18zM655 529h34v9h-34zM1006 529h76v9h-76zM353 537h26v9h-26zM437 537h9v9h-9zM663 537h26v9h-26zM989 537h85v9h-85zM353 546h18v9h-18zM663 546h34v9h-34zM973 546h101v9h-101zM353 554h9v9h-9zM671 554h34v9h-34zM956 554h110v9h-110zM680 562h34v9h-34zM948 562h101v9h-101zM688 571h34v9h-34zM931 571h110v9h-110zM696 579h43v9h-43zM922 579h110v9h-110zM705 587h51v9h-51zM906 587h110v9h-110zM722 596h51v9h-51zM889 596h110v9h-110zM738 604h51v9h-51zM872 604h101v9h-101zM755 612h185v9h-185zM772 621h135v9h-135zM789 629h85v9h-85zM362 638h9v9h-9zM353 663h9v9h-9zM1575 671h26v9h-26zM1575 679h34v9h-34zM1575 688h34v9h-34zM1584 696h34v9h-34zM1584 704h43v9h-43zM1667 704h26v9h-26zM353 713h9v9h-9zM1592 713h118v9h-118zM353 721h9v9h-9zM1592 721h127v9h-127zM1600 730h118v9h-118zM1600 738h135v9h-135zM362 746h9v9h-9zM1609 746h177v9h-177zM1617 755h185v9h-185zM1090 763h51v9h-51zM1617 763h177v9h-177zM370 771h9v9h-9zM1081 771h68v9h-68zM1626 771h160v9h-160zM1073 780h85v9h-85zM1626 780h143v9h-143zM906 788h43v9h-43zM1073 788h93v9h-93zM1634 788h118v9h-118zM378 797h9v9h-9zM889 797h68v9h-68zM1065 797h118v9h-118zM1634 797h93v9h-93zM881 805h85v9h-85zM1065 805h135v9h-135zM1634 805h68v9h-68zM872 813h101v9h-101zM1056 813h160v9h-160zM1634 813h51v9h-51zM387 822h9v9h-9zM864 822h118v9h-118zM1056 822h177v9h-177zM1634 822h43v9h-43zM855 830h143v9h-143zM1040 830h202v9h-202zM1634 830h34v9h-34zM395 838h9v9h-9zM847 838h403v9h-403zM1634 838h34v9h-34zM395 847h9v9h-9zM839 847h419v9h-419zM1634 847h26v9h-26zM403 855h9v9h-9zM797 855h461v9h-461zM1634 855h26v9h-26zM403 863h9v9h-9zM713 863h553v9h-553zM1626 863h26v9h-26zM412 872h9v9h-9zM680 872h503v9h-503zM1207 872h60v9h-60zM1626 872h26v9h-26zM655 880h520v9h-520zM1207 880h60v9h-60zM1617 880h26v9h-26zM420 889h9v9h-9zM638 889h537v9h-537zM1215 889h51v9h-51zM1609 889h26v9h-26zM429 897h9v9h-9zM621 897h553v9h-553zM1215 897h51v9h-51zM1600 897h34v9h-34zM437 905h9v9h-9zM621 905h553v9h-553zM1215 905h51v9h-51zM1458 905h34v9h-34zM1584 905h34v9h-34zM445 914h9v9h-9zM613 914h570v9h-570zM1207 914h60v9h-60zM1441 914h160v9h-160zM445 922h9v9h-9zM613 922h645v9h-645zM1425 922h34v9h-34zM1517 922h60v9h-60zM454 930h9v9h-9zM621 930h637v9h-637zM1425 930h18v9h-18zM462 939h9v9h-9zM621 939h637v9h-637zM1416 939h18v9h-18zM470 947h9v9h-9zM621 947h194v9h-194zM855 947h394v9h-394zM1416 947h18v9h-18zM479 955h9v9h-9zM629 955h160v9h-160zM889 955h361v9h-361zM1408 955h18v9h-18zM479 964h18v9h-18zM629 964h152v9h-152zM897 964h344v9h-344zM1408 964h18v9h-18zM487 972h18v9h-18zM629 972h143v9h-143zM906 972h194v9h-194zM1148 972h93v9h-93zM1408 972h18v9h-18zM496 981h18v9h-18zM638 981h135v9h-135zM914 981h168v9h-168zM1157 981h85v9h-85zM1408 981h9v9h-9zM504 989h18v9h-18zM638 989h135v9h-135zM914 989h168v9h-168zM1157 989h85v9h-85zM1400 989h18v9h-18zM529 997h18v9h-18zM638 997h143v9h-143zM914 997h160v9h-160zM1157 997h85v9h-85zM1400 997h18v9h-18zM554 1006h18v9h-18zM638 1006h143v9h-143zM906 1006h168v9h-168zM1157 1006h85v9h-85zM1400 1006h18v9h-18zM571 1014h9v9h-9zM638 1014h152v9h-152zM906 1014h168v9h-168zM1165 1014h76v9h-76zM1391 1014h18v9h-18zM588 1022h18v9h-18zM629 1022h168v9h-168zM897 1022h177v9h-177zM1165 1022h76v9h-76zM1383 1022h18v9h-18zM596 1031h210v9h-210zM889 1031h185v9h-185zM1165 1031h85v9h-85zM1374 1031h26v9h-26zM613 1039h202v9h-202zM881 1039h194v9h-194zM1165 1039h93v9h-93zM1358 1039h26v9h-26zM629 1047h210v9h-210zM855 1047h101v9h-101zM989 1047h93v9h-93zM1165 1047h101v9h-101zM1324 1047h43v9h-43zM646 1056h294v9h-294zM1006 1056h76v9h-76zM1174 1056h177v9h-177zM655 1064h277v9h-277zM1023 1064h60v9h-60zM1174 1064h152v9h-152zM671 1073h252v9h-252zM1023 1073h60v9h-60zM1182 1073h127v9h-127zM680 1081h244v9h-244zM1031 1081h60v9h-60zM1190 1081h101v9h-101zM680 1089h235v9h-235zM1040 1089h51v9h-51zM1199 1089h76v9h-76zM688 1098h227v9h-227zM1040 1098h51v9h-51zM1207 1098h51v9h-51zM705 1106h210v9h-210zM1048 1106h43v9h-43zM713 1114h194v9h-194zM1048 1114h51v9h-51zM730 1123h177v9h-177zM1056 1123h43v9h-43zM747 1131h152v9h-152zM1056 1131h51v9h-51zM755 1139h143v9h-143zM1065 1139h51v9h-51zM772 1148h118v9h-118zM1073 1148h51v9h-51zM780 1156h101v9h-101zM1081 1156h51v9h-51zM797 1165h85v9h-85zM1090 1165h51v9h-51zM805 1173h68v9h-68zM1098 1173h51v9h-51zM814 1181h51v9h-51zM1107 1181h51v9h-51zM822 1190h43v9h-43zM1115 1190h43v9h-43zM830 1198h26v9h-26zM1115 1198h51v9h-51zM830 1206h18v9h-18zM1123 1206h43v9h-43zM830 1215h18v9h-18zM1123 1215h43v9h-43zM830 1223h9v9h-9zM1123 1223h43v9h-43zM830 1231h9v9h-9zM1123 1231h43v9h-43zM1123 1240h43v9h-43zM1115 1248h51v9h-51zM830 1257h9v9h-9zM1115 1257h43v9h-43zM830 1265h9v9h-9zM1107 1265h51v9h-51zM1098 1273h51v9h-51zM1098 1282h43v9h-43zM822 1290h9v9h-9zM1090 1290h43v9h-43zM822 1298h9v9h-9zM1081 1298h43v9h-43zM822 1307h9v9h-9zM1081 1307h26v9h-26zM822 1315h9v9h-9zM1081 1315h26v9h-26zM822 1324h18v9h-18zM1081 1324h18v9h-18zM822 1332h26v9h-26zM1073 1332h18v9h-18zM822 1340h26v9h-26zM1073 1340h18v9h-18zM830 1349h26v9h-26zM1073 1349h18v9h-18zM839 1357h26v9h-26zM1065 1357h18v9h-18zM847 1365h18v9h-18zM1065 1365h18v9h-18zM855 1374h18v9h-18zM1065 1374h18v9h-18zM855 1382h26v9h-26zM1056 1382h18v9h-18zM872 1390h26v9h-26zM1048 1390h26v9h-26zM881 1399h26v9h-26zM1040 1399h26v9h-26zM889 1407h43v9h-43zM1031 1407h26v9h-26zM906 1416h60v9h-60zM1014 1416h43v9h-43zM931 1424h118v9h-118zM956 1432h76v9h-76z"/>
<path fill="#df755d" d="M638 178h9v9h-9zM629 186h18v9h-18zM629 194h18v9h-18zM629 203h18v9h-18zM629 211h18v9h-18zM629 219h18v9h-18zM839 219h60v9h-60zM629 228h18v9h-18zM822 228h68v9h-68zM470 236h9v9h-9zM629 236h18v9h-18zM814 236h68v9h-68zM629 244h18v9h-18zM805 244h68v9h-68zM286 253h43v9h-43zM629 253h18v9h-18zM797 253h60v9h-60zM286 261h51v9h-51zM487 261h9v9h-9zM629 261h18v9h-18zM789 261h60v9h-60zM286 270h51v9h-51zM621 270h9v9h-9zM780 270h60v9h-60zM286 278h51v9h-51zM772 278h60v9h-60zM286 286h51v9h-51zM655 286h26v9h-26zM747 286h68v9h-68zM286 295h51v9h-51zM663 295h135v9h-135zM278 303h60v9h-60zM680 303h93v9h-93zM278 311h60v9h-60zM278 320h60v9h-60zM278 328h60v9h-60zM889 328h93v9h-93zM278 336h51v9h-51zM855 336h135v9h-135zM278 345h51v9h-51zM521 345h9v9h-9zM830 345h168v9h-168zM278 353h51v9h-51zM805 353h76v9h-76zM931 353h76v9h-76zM278 362h51v9h-51zM772 362h76v9h-76zM948 362h60v9h-60zM278 370h34v9h-34zM320 370h9v9h-9zM747 370h76v9h-76zM964 370h51v9h-51zM278 378h34v9h-34zM320 378h9v9h-9zM722 378h68v9h-68zM964 378h60v9h-60zM278 387h26v9h-26zM320 387h9v9h-9zM705 387h43v9h-43zM973 387h60v9h-60zM278 395h18v9h-18zM470 395h9v9h-9zM696 395h26v9h-26zM981 395h60v9h-60zM680 403h26v9h-26zM989 403h68v9h-68zM378 412h9v9h-9zM671 412h26v9h-26zM989 412h76v9h-76zM663 420h26v9h-26zM998 420h85v9h-85zM655 428h26v9h-26zM1006 428h101v9h-101zM328 437h9v9h-9zM512 437h9v9h-9zM646 437h26v9h-26zM1014 437h110v9h-110zM328 445h26v9h-26zM646 445h18v9h-18zM1023 445h118v9h-118zM328 454h43v9h-43zM638 454h26v9h-26zM1040 454h110v9h-110zM345 462h26v9h-26zM496 462h9v9h-9zM629 462h26v9h-26zM1048 462h110v9h-110zM353 470h18v9h-18zM629 470h26v9h-26zM1056 470h110v9h-110zM487 479h18v9h-18zM621 479h34v9h-34zM1065 479h101v9h-101zM479 487h43v9h-43zM604 487h51v9h-51zM1073 487h101v9h-101zM470 495h185v9h-185zM1081 495h93v9h-93zM470 504h185v9h-185zM1081 504h93v9h-93zM462 512h194v9h-194zM1081 512h93v9h-93zM454 520h202v9h-202zM1081 520h93v9h-93zM370 529h9v9h-9zM445 529h210v9h-210zM1081 529h93v9h-93zM445 537h219v9h-219zM1073 537h93v9h-93zM437 546h227v9h-227zM1073 546h93v9h-93zM429 554h244v9h-244zM1065 554h93v9h-93zM420 562h260v9h-260zM1048 562h110v9h-110zM454 571h235v9h-235zM1040 571h110v9h-110zM470 579h227v9h-227zM1031 579h110v9h-110zM479 587h227v9h-227zM1014 587h127v9h-127zM496 596h227v9h-227zM998 596h135v9h-135zM512 604h227v9h-227zM973 604h152v9h-152zM537 612h219v9h-219zM939 612h177v9h-177zM370 621h9v9h-9zM688 621h85v9h-85zM906 621h202v9h-202zM713 629h76v9h-76zM872 629h219v9h-219zM730 638h302v9h-302zM747 646h210v9h-210zM772 654h110v9h-110zM353 671h9v9h-9zM1559 671h18v9h-18zM353 679h9v9h-9zM1559 679h18v9h-18zM353 688h9v9h-9zM1559 688h18v9h-18zM353 696h9v9h-9zM1559 696h26v9h-26zM353 704h9v9h-9zM1090 704h43v9h-43zM1567 704h18v9h-18zM1056 713h110v9h-110zM1567 713h26v9h-26zM362 721h9v9h-9zM1014 721h177v9h-177zM1575 721h18v9h-18zM362 730h9v9h-9zM931 730h277v9h-277zM1575 730h26v9h-26zM362 738h9v9h-9zM889 738h336v9h-336zM1584 738h18v9h-18zM855 746h378v9h-378zM1584 746h26v9h-26zM370 755h9v9h-9zM814 755h428v9h-428zM1592 755h26v9h-26zM370 763h9v9h-9zM705 763h386v9h-386zM1140 763h110v9h-110zM1592 763h26v9h-26zM688 771h394v9h-394zM1148 771h110v9h-110zM1600 771h26v9h-26zM378 780h9v9h-9zM680 780h394v9h-394zM1157 780h101v9h-101zM1600 780h26v9h-26zM378 788h9v9h-9zM671 788h235v9h-235zM948 788h127v9h-127zM1165 788h101v9h-101zM1609 788h26v9h-26zM663 797h227v9h-227zM956 797h110v9h-110zM1182 797h85v9h-85zM1609 797h26v9h-26zM387 805h9v9h-9zM655 805h227v9h-227zM964 805h101v9h-101zM1199 805h76v9h-76zM1617 805h18v9h-18zM387 813h9v9h-9zM646 813h227v9h-227zM973 813h85v9h-85zM1215 813h60v9h-60zM1617 813h18v9h-18zM638 822h227v9h-227zM981 822h76v9h-76zM1232 822h51v9h-51zM1617 822h18v9h-18zM395 830h9v9h-9zM621 830h235v9h-235zM998 830h43v9h-43zM1240 830h43v9h-43zM1617 830h18v9h-18zM596 838h252v9h-252zM1249 838h43v9h-43zM1617 838h18v9h-18zM403 847h9v9h-9zM579 847h260v9h-260zM1257 847h34v9h-34zM1617 847h18v9h-18zM563 855h235v9h-235zM1257 855h34v9h-34zM1609 855h26v9h-26zM412 863h9v9h-9zM563 863h152v9h-152zM1266 863h34v9h-34zM1609 863h18v9h-18zM420 872h9v9h-9zM554 872h127v9h-127zM1266 872h34v9h-34zM1600 872h26v9h-26zM420 880h9v9h-9zM546 880h110v9h-110zM1266 880h34v9h-34zM1592 880h26v9h-26zM429 889h9v9h-9zM546 889h93v9h-93zM1266 889h34v9h-34zM1441 889h51v9h-51zM1584 889h26v9h-26zM437 897h9v9h-9zM537 897h85v9h-85zM1266 897h34v9h-34zM1425 897h177v9h-177zM445 905h9v9h-9zM537 905h85v9h-85zM1266 905h34v9h-34zM1416 905h43v9h-43zM1492 905h93v9h-93zM454 914h9v9h-9zM529 914h85v9h-85zM1266 914h26v9h-26zM1408 914h34v9h-34zM454 922h18v9h-18zM529 922h85v9h-85zM1257 922h34v9h-34zM1408 922h18v9h-18zM462 930h18v9h-18zM529 930h93v9h-93zM1257 930h26v9h-26zM1400 930h26v9h-26zM470 939h26v9h-26zM521 939h101v9h-101zM1257 939h26v9h-26zM1400 939h18v9h-18zM479 947h143v9h-143zM1249 947h34v9h-34zM1400 947h18v9h-18zM487 955h143v9h-143zM1249 955h26v9h-26zM1391 955h18v9h-18zM496 964h135v9h-135zM1240 964h34v9h-34zM1391 964h18v9h-18zM504 972h127v9h-127zM1240 972h34v9h-34zM1391 972h18v9h-18zM512 981h127v9h-127zM1240 981h34v9h-34zM1391 981h18v9h-18zM521 989h118v9h-118zM1240 989h43v9h-43zM1383 989h18v9h-18zM546 997h93v9h-93zM1240 997h43v9h-43zM1383 997h18v9h-18zM571 1006h68v9h-68zM1240 1006h51v9h-51zM1374 1006h26v9h-26zM579 1014h60v9h-60zM1240 1014h60v9h-60zM1366 1014h26v9h-26zM604 1022h26v9h-26zM1240 1022h76v9h-76zM1349 1022h34v9h-34zM1249 1031h127v9h-127zM1257 1039h101v9h-101zM956 1047h34v9h-34zM1266 1047h60v9h-60zM939 1056h68v9h-68zM931 1064h93v9h-93zM922 1073h101v9h-101zM922 1081h110v9h-110zM914 1089h127v9h-127zM914 1098h127v9h-127zM914 1106h135v9h-135zM906 1114h143v9h-143zM906 1123h152v9h-152zM897 1131h160v9h-160zM897 1139h168v9h-168zM889 1148h185v9h-185zM881 1156h68v9h-68zM1006 1156h76v9h-76zM881 1165h51v9h-51zM1023 1165h68v9h-68zM872 1173h51v9h-51zM1040 1173h60v9h-60zM864 1181h51v9h-51zM1048 1181h60v9h-60zM864 1190h43v9h-43zM1056 1190h60v9h-60zM855 1198h43v9h-43zM1065 1198h51v9h-51zM847 1206h43v9h-43zM1065 1206h60v9h-60zM847 1215h34v9h-34zM1073 1215h51v9h-51zM839 1223h43v9h-43zM1073 1223h51v9h-51zM839 1231h34v9h-34zM1073 1231h51v9h-51zM839 1240h26v9h-26zM1065 1240h60v9h-60zM839 1248h26v9h-26zM1065 1248h51v9h-51zM839 1257h18v9h-18zM1065 1257h51v9h-51zM839 1265h18v9h-18zM1065 1265h43v9h-43zM830 1273h18v9h-18zM1065 1273h34v9h-34zM830 1282h18v9h-18zM1065 1282h34v9h-34zM830 1290h18v9h-18zM1065 1290h26v9h-26zM830 1298h26v9h-26zM1065 1298h18v9h-18zM830 1307h26v9h-26zM1065 1307h18v9h-18zM830 1315h26v9h-26zM1065 1315h18v9h-18zM839 1324h26v9h-26zM1065 1324h18v9h-18zM847 1332h18v9h-18zM1056 1332h18v9h-18zM847 1340h26v9h-26zM1056 1340h18v9h-18zM855 1349h26v9h-26zM1056 1349h18v9h-18zM864 1357h18v9h-18zM1048 1357h18v9h-18zM864 1365h26v9h-26zM1048 1365h18v9h-18zM872 1374h26v9h-26zM1040 1374h26v9h-26zM881 1382h34v9h-34zM1031 1382h26v9h-26zM897 1390h34v9h-34zM1014 1390h34v9h-34zM906 1399h135v9h-135zM931 1407h101v9h-101zM964 1416h51v9h-51z"/>
<path fill="#dc6e58" d="M621 178h18v9h-18zM621 186h9v9h-9zM613 194h18v9h-18zM613 203h18v9h-18zM613 211h18v9h-18zM613 219h18v9h-18zM897 219h9v9h-9zM487 228h9v9h-9zM613 228h18v9h-18zM889 228h26v9h-26zM613 236h18v9h-18zM881 236h43v9h-43zM504 244h9v9h-9zM613 244h18v9h-18zM872 244h51v9h-51zM613 253h18v9h-18zM855 253h68v9h-68zM337 261h9v9h-9zM613 261h18v9h-18zM847 261h93v9h-93zM337 270h26v9h-26zM613 270h9v9h-9zM839 270h110v9h-110zM337 278h43v9h-43zM830 278h127v9h-127zM337 286h51v9h-51zM814 286h152v9h-152zM337 295h51v9h-51zM579 295h9v9h-9zM629 295h34v9h-34zM797 295h177v9h-177zM337 303h60v9h-60zM646 303h34v9h-34zM772 303h219v9h-219zM337 311h60v9h-60zM663 311h336v9h-336zM337 320h68v9h-68zM588 320h9v9h-9zM680 320h327v9h-327zM337 328h68v9h-68zM705 328h185v9h-185zM981 328h43v9h-43zM328 336h85v9h-85zM722 336h135v9h-135zM989 336h43v9h-43zM328 345h68v9h-68zM412 345h9v9h-9zM722 345h110v9h-110zM998 345h43v9h-43zM328 353h60v9h-60zM722 353h85v9h-85zM1006 353h43v9h-43zM328 362h60v9h-60zM420 362h18v9h-18zM713 362h60v9h-60zM1006 362h51v9h-51zM328 370h60v9h-60zM437 370h9v9h-9zM696 370h51v9h-51zM1014 370h51v9h-51zM328 378h60v9h-60zM487 378h9v9h-9zM688 378h34v9h-34zM1023 378h127v9h-127zM328 387h60v9h-60zM479 387h9v9h-9zM680 387h26v9h-26zM1031 387h152v9h-152zM328 395h60v9h-60zM671 395h26v9h-26zM1040 395h168v9h-168zM328 403h60v9h-60zM445 403h26v9h-26zM655 403h26v9h-26zM1056 403h168v9h-168zM328 412h51v9h-51zM445 412h18v9h-18zM529 412h9v9h-9zM646 412h26v9h-26zM1065 412h168v9h-168zM328 420h51v9h-51zM445 420h9v9h-9zM638 420h26v9h-26zM1081 420h168v9h-168zM328 428h51v9h-51zM521 428h9v9h-9zM629 428h26v9h-26zM1107 428h152v9h-152zM337 437h43v9h-43zM521 437h9v9h-9zM613 437h34v9h-34zM1123 437h135v9h-135zM353 445h26v9h-26zM512 445h51v9h-51zM596 445h51v9h-51zM1140 445h127v9h-127zM504 454h135v9h-135zM1148 454h127v9h-127zM504 462h127v9h-127zM1157 462h127v9h-127zM496 470h135v9h-135zM1165 470h118v9h-118zM504 479h118v9h-118zM1165 479h118v9h-118zM521 487h85v9h-85zM1174 487h110v9h-110zM1174 495h118v9h-118zM1174 504h118v9h-118zM1174 512h127v9h-127zM1174 520h135v9h-135zM1174 529h143v9h-143zM1165 537h160v9h-160zM1165 546h160v9h-160zM1157 554h168v9h-168zM1157 562h168v9h-168zM420 571h34v9h-34zM1148 571h177v9h-177zM412 579h60v9h-60zM1140 579h194v9h-194zM403 587h76v9h-76zM1140 587h219v9h-219zM395 596h9v9h-9zM437 596h60v9h-60zM1132 596h252v9h-252zM454 604h60v9h-60zM1123 604h277v9h-277zM470 612h68v9h-68zM1115 612h277v9h-277zM487 621h202v9h-202zM1107 621h286v9h-286zM370 629h9v9h-9zM504 629h210v9h-210zM1090 629h294v9h-294zM512 638h219v9h-219zM1031 638h353v9h-353zM362 646h9v9h-9zM521 646h227v9h-227zM956 646h419v9h-419zM362 654h9v9h-9zM529 654h244v9h-244zM881 654h495v9h-495zM362 663h9v9h-9zM529 663h838v9h-838zM1542 663h18v9h-18zM362 671h9v9h-9zM537 671h830v9h-830zM1542 671h18v9h-18zM362 679h9v9h-9zM537 679h821v9h-821zM1542 679h18v9h-18zM362 688h9v9h-9zM546 688h813v9h-813zM1542 688h18v9h-18zM362 696h9v9h-9zM546 696h805v9h-805zM1542 696h18v9h-18zM362 704h9v9h-9zM554 704h537v9h-537zM1132 704h219v9h-219zM1550 704h18v9h-18zM362 713h9v9h-9zM563 713h495v9h-495zM1165 713h185v9h-185zM1550 713h18v9h-18zM563 721h453v9h-453zM1190 721h152v9h-152zM1559 721h18v9h-18zM370 730h9v9h-9zM571 730h361v9h-361zM1207 730h135v9h-135zM1559 730h18v9h-18zM370 738h9v9h-9zM571 738h319v9h-319zM1224 738h118v9h-118zM1567 738h18v9h-18zM370 746h9v9h-9zM571 746h286v9h-286zM1232 746h101v9h-101zM1567 746h18v9h-18zM571 755h244v9h-244zM1240 755h93v9h-93zM1575 755h18v9h-18zM378 763h9v9h-9zM571 763h135v9h-135zM1249 763h85v9h-85zM1575 763h18v9h-18zM378 771h9v9h-9zM571 771h118v9h-118zM1257 771h68v9h-68zM1584 771h18v9h-18zM387 780h9v9h-9zM571 780h110v9h-110zM1257 780h60v9h-60zM1584 780h18v9h-18zM387 788h9v9h-9zM571 788h101v9h-101zM1266 788h51v9h-51zM1592 788h18v9h-18zM387 797h9v9h-9zM563 797h101v9h-101zM1266 797h51v9h-51zM1592 797h18v9h-18zM395 805h9v9h-9zM563 805h93v9h-93zM1274 805h43v9h-43zM1592 805h26v9h-26zM395 813h9v9h-9zM563 813h85v9h-85zM1274 813h43v9h-43zM1592 813h26v9h-26zM395 822h9v9h-9zM554 822h85v9h-85zM1282 822h34v9h-34zM1592 822h26v9h-26zM403 830h9v9h-9zM546 830h76v9h-76zM1282 830h34v9h-34zM1592 830h26v9h-26zM403 838h9v9h-9zM546 838h51v9h-51zM1291 838h34v9h-34zM1592 838h26v9h-26zM412 847h9v9h-9zM537 847h43v9h-43zM1291 847h34v9h-34zM1592 847h26v9h-26zM412 855h18v9h-18zM529 855h34v9h-34zM1291 855h34v9h-34zM1416 855h34v9h-34zM1584 855h26v9h-26zM420 863h9v9h-9zM521 863h43v9h-43zM1299 863h34v9h-34zM1408 863h76v9h-76zM1575 863h34v9h-34zM429 872h9v9h-9zM512 872h43v9h-43zM1299 872h34v9h-34zM1400 872h110v9h-110zM1559 872h43v9h-43zM429 880h18v9h-18zM504 880h43v9h-43zM1299 880h34v9h-34zM1391 880h202v9h-202zM437 889h18v9h-18zM487 889h60v9h-60zM1299 889h34v9h-34zM1391 889h51v9h-51zM1492 889h93v9h-93zM445 897h93v9h-93zM1299 897h34v9h-34zM1391 897h34v9h-34zM454 905h85v9h-85zM1299 905h26v9h-26zM1383 905h34v9h-34zM462 914h68v9h-68zM1291 914h34v9h-34zM1383 914h26v9h-26zM470 922h60v9h-60zM1291 922h26v9h-26zM1383 922h26v9h-26zM479 930h51v9h-51zM1282 930h34v9h-34zM1374 930h26v9h-26zM496 939h26v9h-26zM1282 939h26v9h-26zM1374 939h26v9h-26zM1282 947h26v9h-26zM1374 947h26v9h-26zM1274 955h34v9h-34zM1374 955h18v9h-18zM1274 964h34v9h-34zM1366 964h26v9h-26zM1274 972h34v9h-34zM1366 972h26v9h-26zM1274 981h43v9h-43zM1358 981h34v9h-34zM1282 989h51v9h-51zM1349 989h34v9h-34zM1282 997h101v9h-101zM1291 1006h85v9h-85zM1299 1014h68v9h-68zM1316 1022h34v9h-34zM948 1156h60v9h-60zM931 1165h93v9h-93zM922 1173h118v9h-118zM914 1181h135v9h-135zM906 1190h152v9h-152zM897 1198h168v9h-168zM889 1206h60v9h-60zM989 1206h76v9h-76zM881 1215h51v9h-51zM998 1215h76v9h-76zM881 1223h43v9h-43zM1006 1223h68v9h-68zM872 1231h43v9h-43zM1014 1231h60v9h-60zM864 1240h43v9h-43zM1023 1240h43v9h-43zM864 1248h34v9h-34zM1023 1248h43v9h-43zM855 1257h34v9h-34zM1031 1257h34v9h-34zM855 1265h26v9h-26zM1040 1265h26v9h-26zM847 1273h34v9h-34zM1040 1273h26v9h-26zM847 1282h34v9h-34zM1040 1282h26v9h-26zM847 1290h34v9h-34zM1048 1290h18v9h-18zM855 1298h26v9h-26zM1048 1298h18v9h-18zM855 1307h26v9h-26zM1048 1307h18v9h-18zM855 1315h26v9h-26zM1048 1315h18v9h-18zM864 1324h26v9h-26zM1048 1324h18v9h-18zM864 1332h26v9h-26zM1040 1332h18v9h-18zM872 1340h26v9h-26zM1040 1340h18v9h-18zM881 1349h18v9h-18zM1031 1349h26v9h-26zM881 1357h26v9h-26zM1031 1357h18v9h-18zM889 1365h26v9h-26zM1023 1365h26v9h-26zM897 1374h34v9h-34zM1006 1374h34v9h-34zM914 1382h118v9h-118zM931 1390h85v9h-85z"/>
<path fill="#d96752" d="M604 178h18v9h-18zM596 186h26v9h-26zM596 194h18v9h-18zM437 203h18v9h-18zM596 203h18v9h-18zM420 211h34v9h-34zM596 211h18v9h-18zM412 219h43v9h-43zM588 219h26v9h-26zM403 228h51v9h-51zM479 228h9v9h-9zM496 228h9v9h-9zM588 228h26v9h-26zM395 236h76v9h-76zM504 236h9v9h-9zM588 236h26v9h-26zM395 244h76v9h-76zM588 244h26v9h-26zM387 253h85v9h-85zM504 253h9v9h-9zM588 253h26v9h-26zM387 261h93v9h-93zM496 261h9v9h-9zM596 261h18v9h-18zM387 270h76v9h-76zM596 270h18v9h-18zM378 278h85v9h-85zM596 278h9v9h-9zM387 286h76v9h-76zM588 286h9v9h-9zM387 295h76v9h-76zM395 303h68v9h-68zM613 303h34v9h-34zM395 311h68v9h-68zM629 311h34v9h-34zM403 320h60v9h-60zM638 320h43v9h-43zM403 328h60v9h-60zM655 328h51v9h-51zM412 336h60v9h-60zM529 336h9v9h-9zM663 336h60v9h-60zM420 345h51v9h-51zM671 345h51v9h-51zM420 353h51v9h-51zM671 353h51v9h-51zM437 362h43v9h-43zM504 362h9v9h-9zM671 362h43v9h-43zM445 370h34v9h-34zM496 370h9v9h-9zM663 370h34v9h-34zM445 378h43v9h-43zM655 378h34v9h-34zM445 387h34v9h-34zM646 387h34v9h-34zM445 395h26v9h-26zM537 395h9v9h-9zM638 395h34v9h-34zM537 403h18v9h-18zM613 403h43v9h-43zM537 412h110v9h-110zM529 420h110v9h-110zM529 428h101v9h-101zM529 437h85v9h-85zM563 445h34v9h-34zM403 596h34v9h-34zM387 604h68v9h-68zM1400 604h9v9h-9zM378 612h93v9h-93zM1391 612h43v9h-43zM378 621h110v9h-110zM1391 621h60v9h-60zM378 629h18v9h-18zM454 629h51v9h-51zM1383 629h68v9h-68zM370 638h26v9h-26zM479 638h34v9h-34zM1383 638h68v9h-68zM370 646h18v9h-18zM487 646h34v9h-34zM1374 646h68v9h-68zM1508 646h9v9h-9zM370 654h18v9h-18zM496 654h34v9h-34zM1374 654h68v9h-68zM1508 654h26v9h-26zM370 663h18v9h-18zM504 663h26v9h-26zM1366 663h76v9h-76zM1508 663h34v9h-34zM370 671h18v9h-18zM512 671h26v9h-26zM1366 671h76v9h-76zM1508 671h34v9h-34zM370 679h9v9h-9zM512 679h26v9h-26zM1358 679h85v9h-85zM1508 679h34v9h-34zM370 688h9v9h-9zM521 688h26v9h-26zM1358 688h93v9h-93zM1508 688h34v9h-34zM370 696h9v9h-9zM521 696h26v9h-26zM1349 696h101v9h-101zM1508 696h34v9h-34zM370 704h9v9h-9zM521 704h34v9h-34zM1349 704h101v9h-101zM1508 704h43v9h-43zM370 713h9v9h-9zM529 713h34v9h-34zM1349 713h110v9h-110zM1508 713h43v9h-43zM370 721h18v9h-18zM529 721h34v9h-34zM1341 721h118v9h-118zM1517 721h43v9h-43zM378 730h9v9h-9zM537 730h34v9h-34zM1341 730h118v9h-118zM1525 730h34v9h-34zM378 738h9v9h-9zM537 738h34v9h-34zM1341 738h127v9h-127zM1533 738h34v9h-34zM378 746h9v9h-9zM546 746h26v9h-26zM1333 746h135v9h-135zM1542 746h26v9h-26zM378 755h9v9h-9zM546 755h26v9h-26zM1333 755h135v9h-135zM1550 755h26v9h-26zM387 763h9v9h-9zM546 763h26v9h-26zM1333 763h135v9h-135zM1550 763h26v9h-26zM387 771h9v9h-9zM546 771h26v9h-26zM1324 771h143v9h-143zM1559 771h26v9h-26zM395 780h9v9h-9zM546 780h26v9h-26zM1316 780h152v9h-152zM1559 780h26v9h-26zM395 788h9v9h-9zM546 788h26v9h-26zM1316 788h152v9h-152zM1567 788h26v9h-26zM395 797h18v9h-18zM537 797h26v9h-26zM1316 797h152v9h-152zM1567 797h26v9h-26zM403 805h9v9h-9zM537 805h26v9h-26zM1316 805h152v9h-152zM1567 805h26v9h-26zM403 813h18v9h-18zM529 813h34v9h-34zM1316 813h160v9h-160zM1567 813h26v9h-26zM403 822h18v9h-18zM529 822h26v9h-26zM1316 822h168v9h-168zM1567 822h26v9h-26zM412 830h18v9h-18zM521 830h26v9h-26zM1316 830h177v9h-177zM1559 830h34v9h-34zM412 838h18v9h-18zM504 838h43v9h-43zM1324 838h177v9h-177zM1550 838h43v9h-43zM420 847h18v9h-18zM496 847h43v9h-43zM1324 847h269v9h-269zM429 855h26v9h-26zM479 855h51v9h-51zM1324 855h93v9h-93zM1450 855h135v9h-135zM429 863h93v9h-93zM1333 863h76v9h-76zM1483 863h93v9h-93zM437 872h76v9h-76zM1333 872h68v9h-68zM1508 872h51v9h-51zM445 880h60v9h-60zM1333 880h60v9h-60zM454 889h34v9h-34zM1333 889h60v9h-60zM1333 897h60v9h-60zM1324 905h60v9h-60zM1324 914h60v9h-60zM1316 922h68v9h-68zM1316 930h60v9h-60zM1307 939h68v9h-68zM1307 947h68v9h-68zM1307 955h68v9h-68zM1307 964h60v9h-60zM1307 972h60v9h-60zM1316 981h43v9h-43zM1333 989h18v9h-18zM948 1206h43v9h-43zM931 1215h68v9h-68zM922 1223h85v9h-85zM914 1231h101v9h-101zM906 1240h118v9h-118zM897 1248h127v9h-127zM889 1257h51v9h-51zM989 1257h43v9h-43zM881 1265h43v9h-43zM1006 1265h34v9h-34zM881 1273h34v9h-34zM1014 1273h26v9h-26zM881 1282h34v9h-34zM1023 1282h18v9h-18zM881 1290h26v9h-26zM1023 1290h26v9h-26zM881 1298h26v9h-26zM1023 1298h26v9h-26zM881 1307h26v9h-26zM1023 1307h26v9h-26zM881 1315h26v9h-26zM1023 1315h26v9h-26zM889 1324h26v9h-26zM1023 1324h26v9h-26zM889 1332h26v9h-26zM1023 1332h18v9h-18zM897 1340h26v9h-26zM1014 1340h26v9h-26zM897 1349h34v9h-34zM1006 1349h26v9h-26zM906 1357h51v9h-51zM981 1357h51v9h-51zM914 1365h110v9h-110zM931 1374h76v9h-76z"/>
<path fill="#d6604d" d="M579 178h26v9h-26zM496 186h9v9h-9zM571 186h26v9h-26zM462 194h51v9h-51zM571 194h26v9h-26zM454 203h60v9h-60zM563 203h34v9h-34zM454 211h68v9h-68zM563 211h34v9h-34zM454 219h68v9h-68zM554 219h34v9h-34zM454 228h26v9h-26zM504 228h26v9h-26zM554 228h34v9h-34zM512 236h18v9h-18zM554 236h34v9h-34zM512 244h18v9h-18zM554 244h34v9h-34zM512 253h18v9h-18zM554 253h34v9h-34zM504 261h18v9h-18zM563 261h34v9h-34zM462 270h60v9h-60zM563 270h34v9h-34zM462 278h60v9h-60zM571 278h26v9h-26zM462 286h51v9h-51zM571 286h18v9h-18zM462 295h51v9h-51zM462 303h51v9h-51zM462 311h43v9h-43zM604 311h26v9h-26zM462 320h43v9h-43zM604 320h34v9h-34zM462 328h43v9h-43zM537 328h9v9h-9zM579 328h9v9h-9zM613 328h43v9h-43zM470 336h34v9h-34zM621 336h43v9h-43zM470 345h34v9h-34zM621 345h51v9h-51zM470 353h51v9h-51zM621 353h51v9h-51zM479 362h26v9h-26zM554 362h9v9h-9zM621 362h51v9h-51zM479 370h18v9h-18zM554 370h18v9h-18zM604 370h60v9h-60zM546 378h110v9h-110zM546 387h101v9h-101zM546 395h93v9h-93zM554 403h60v9h-60zM1450 621h18v9h-18zM395 629h60v9h-60zM1450 629h26v9h-26zM395 638h85v9h-85zM1450 638h43v9h-43zM387 646h101v9h-101zM1441 646h68v9h-68zM387 654h110v9h-110zM1441 654h68v9h-68zM387 663h118v9h-118zM1441 663h68v9h-68zM387 671h127v9h-127zM1441 671h68v9h-68zM378 679h60v9h-60zM470 679h43v9h-43zM1441 679h68v9h-68zM378 688h43v9h-43zM479 688h43v9h-43zM1450 688h60v9h-60zM378 696h34v9h-34zM487 696h34v9h-34zM1450 696h60v9h-60zM378 704h34v9h-34zM496 704h26v9h-26zM1450 704h60v9h-60zM378 713h26v9h-26zM496 713h34v9h-34zM1458 713h51v9h-51zM387 721h18v9h-18zM504 721h26v9h-26zM1458 721h60v9h-60zM387 730h18v9h-18zM504 730h34v9h-34zM1458 730h68v9h-68zM387 738h18v9h-18zM512 738h26v9h-26zM1466 738h68v9h-68zM387 746h18v9h-18zM512 746h34v9h-34zM1466 746h76v9h-76zM387 755h26v9h-26zM512 755h34v9h-34zM1466 755h85v9h-85zM395 763h18v9h-18zM521 763h26v9h-26zM1466 763h85v9h-85zM395 771h26v9h-26zM512 771h34v9h-34zM1466 771h93v9h-93zM403 780h26v9h-26zM512 780h34v9h-34zM1466 780h93v9h-93zM403 788h34v9h-34zM512 788h34v9h-34zM1466 788h101v9h-101zM412 797h43v9h-43zM496 797h43v9h-43zM1466 797h101v9h-101zM412 805h127v9h-127zM1466 805h101v9h-101zM420 813h110v9h-110zM1475 813h93v9h-93zM420 822h110v9h-110zM1483 822h85v9h-85zM429 830h93v9h-93zM1492 830h68v9h-68zM429 838h76v9h-76zM1500 838h51v9h-51zM437 847h60v9h-60zM454 855h26v9h-26zM939 1257h51v9h-51zM922 1265h85v9h-85zM914 1273h101v9h-101zM914 1282h110v9h-110zM906 1290h60v9h-60zM981 1290h43v9h-43zM906 1298h51v9h-51zM989 1298h34v9h-34zM906 1307h43v9h-43zM989 1307h34v9h-34zM906 1315h51v9h-51zM981 1315h43v9h-43zM914 1324h110v9h-110zM914 1332h110v9h-110zM922 1340h93v9h-93zM931 1349h76v9h-76zM956 1357h26v9h-26z"/>
<path fill="#d2594a" d="M504 178h76v9h-76zM504 186h68v9h-68zM512 194h60v9h-60zM512 203h51v9h-51zM521 211h43v9h-43zM521 219h34v9h-34zM529 228h26v9h-26zM529 236h26v9h-26zM529 244h26v9h-26zM529 253h26v9h-26zM521 261h43v9h-43zM521 270h43v9h-43zM521 278h51v9h-51zM512 286h60v9h-60zM512 295h68v9h-68zM512 303h60v9h-60zM504 311h60v9h-60zM504 320h51v9h-51zM596 320h9v9h-9zM504 328h34v9h-34zM588 328h26v9h-26zM504 336h26v9h-26zM571 336h51v9h-51zM504 345h18v9h-18zM563 345h60v9h-60zM554 353h68v9h-68zM563 362h60v9h-60zM571 370h34v9h-34zM437 679h34v9h-34zM420 688h60v9h-60zM412 696h76v9h-76zM412 704h85v9h-85zM403 713h93v9h-93zM403 721h101v9h-101zM403 730h101v9h-101zM403 738h110v9h-110zM403 746h110v9h-110zM412 755h101v9h-101zM412 763h110v9h-110zM420 771h93v9h-93zM429 780h85v9h-85zM437 788h76v9h-76zM454 797h43v9h-43zM964 1290h18v9h-18zM956 1298h34v9h-34zM948 1307h43v9h-43zM956 1315h26v9h-26z"/>
</g></g>
<path d="M367,320 L358,340 L348,368M569,214 L539,239 L529,256 L512,286 L502,303 L519,306 L531,343 L532,363 L549,376 L609,376 L633,407 L696,403 L685,443 L686,484 L703,497 L683,515 L706,537 L717,571M925,436 L928,443 L904,461 L883,467 L852,478 L849,487 L842,480 L824,478 L807,475 L787,467 L804,492 L807,506 L814,523 L835,533 L811,547 L787,561 L762,585 L738,582 L714,571M952,329 L925,350 L928,367 L935,374 L911,388 L907,402 L900,412 L925,436M925,436 L946,436 L942,457 L959,471 L963,478 L952,506 L952,533 L966,557 L983,568 L997,561 L1028,547 L1059,545 L1080,547 L1084,530 L1115,526 L1122,533 L1135,537 L1184,533 L1201,519 L1225,475 L1229,464M1042,409 L1039,436 L1018,447 L1014,471 L1025,495 L1039,502 L1059,545M1059,545 L1080,547M1149,419 L1132,443 L1135,478 L1146,492 L1139,519 L1135,537M1135,537 L1184,533M718,573 L695,536 L676,552 L618,552 L618,589 L639,591 L612,596 L612,618 L629,639 L620,755M315,558 L340,573 L367,593 L382,600 L409,596 L432,620 L440,616 L471,639 L494,643 L506,670 L510,689 L544,685 L579,689 L610,701 L591,735 L614,755M432,620 L438,643 L429,674 L394,693 L347,712 L332,731 L324,770 L309,778 L266,755 L268,726M614,755 L568,755 L518,780 L501,809 L488,830 L481,857 L508,924 L538,941 L593,929 L593,976 L627,976M627,978 L656,1030 L647,1046 L649,1084 L633,1107 L631,1130 L649,1154 L625,1185 L620,1208 L600,1225M625,1185 L641,1215 L660,1262 L655,1289 L664,1327 L680,1366 L685,1378 L706,1378M706,1378 L708,1385 L701,1416 L668,1431 L660,1447 L664,1514 L644,1537 L616,1591 L609,1630 L593,1661 L605,1699 L613,1730 L605,1776 L593,1823 L578,1834 L574,1881 L582,1904 L566,1916 L555,1939 L547,1997 L541,2022 L553,2059 L551,2095 L573,2103 L545,2111 L565,2123 L553,2160 L555,2180 L533,2212 L537,2228 L521,2256 L495,2272 L505,2305 L529,2305 L537,2329 L547,2351 L602,2351 L664,2361M658,2371 L658,2446M706,1378 L722,1362 L747,1347 L753,1351 L788,1351 L799,1374 L815,1347 L849,1347 L857,1351M627,976 L660,982 L696,959 L727,942 L770,935 L780,972 L800,1026 L847,1036 L881,1056 L914,1062 L931,1072 L937,1116 L941,1156 L1001,1156 L1004,1190 L1028,1213 L1031,1220 L1014,1246 L1009,1275M1009,1275 L948,1256 L888,1266 L873,1293 L869,1308 L857,1351M1009,1275 L1020,1303 L1014,1350 L1065,1350 L1090,1358 L1100,1412 L1119,1408 L1138,1416 L1130,1466M857,1351 L873,1374 L903,1397 L948,1416 L998,1444 L1028,1459 L1018,1491 L995,1522 L1048,1529 L1081,1524 L1102,1514 L1128,1481 L1130,1466M1130,1466 L1155,1471 L1158,1487 L1162,1519 L1115,1541 L1081,1568 L1028,1621M1028,1621 L1018,1648 L1008,1698 L1001,1745M1028,1621 L1081,1641 L1098,1648 L1128,1665 L1152,1681 L1175,1701 L1165,1722 L1169,1738M1001,835 L1009,858 L1025,896 L1056,923 L1272,939M835,533 L855,544 L863,575 L873,626 L866,637 L894,661M983,568 L983,602 L946,602 L935,630 L925,640 L907,630 L894,637 L897,661M983,602 L987,623 L1011,654 L1046,672 L1066,682 L1077,678 L1042,748 L1001,835M893,904 L998,904 L1009,858M487,855 L598,883 L680,918 L718,938M718,938 L741,926 L768,922 L784,911 L826,878 L849,880 L877,899 L893,904M893,904 L897,977 L948,981 L951,1024 L928,1066M1122,533 L1166,568 L1177,592 L1191,626 L1208,651 L1225,637 L1239,609M1406,651 L1395,703 L1369,751 L1325,787M1325,787 L1340,798 L1336,824 L1310,842 L1303,879 L1281,912 L1263,941 L1259,1007 L1270,1040M1325,787 L1362,850 L1395,875 L1391,897 L1384,912 L1399,949 L1424,952M1424,952 L1406,989 L1410,1044 L1413,1117M1413,1117 L1487,1088 L1508,1099 L1571,1117 L1574,1135 L1618,1143 L1600,1198 L1611,1208 L1626,1212 L1629,1223M1626,1212 L1578,1227 L1582,1249 L1574,1278 L1556,1313M1556,1313 L1580,1320M1249,1256 L1252,1230 L1318,1219 L1362,1223 L1376,1194 L1366,1153 L1369,1135 L1413,1117M1270,1040 L1303,1044 L1310,1040 L1325,1051 L1362,1051 L1410,1044M1056,923 L1272,939M1262,1046 L1246,1104 L1227,1119 L1192,1161 L1177,1185 L1177,1215M1014,1200 L1072,1189 L1123,1200 L1157,1192 L1153,1212 L1177,1215M1177,1215 L1184,1231 L1219,1246 L1250,1262M1250,1262 L1238,1285 L1227,1308 L1208,1339 L1181,1366 L1157,1381 L1146,1401 L1138,1416M1250,1266 L1269,1275 L1308,1281 L1320,1293 L1370,1281 L1381,1316 L1401,1331 L1401,1366 L1424,1366 L1456,1380M1424,1366 L1478,1355 L1540,1339 L1555,1308 L1563,1285M1181,1366 L1231,1366 L1262,1378 L1292,1385 L1308,1424 L1324,1431 L1339,1447M1130,1466 L1157,1489 L1192,1493 L1238,1501 L1262,1484 L1327,1482M1162,1519 L1208,1528 L1262,1559 L1292,1567 L1285,1586M1572,708 L1570,724 L1579,745 L1574,763 L1584,786 L1588,821 L1602,837 L1600,856 L1593,860M1556,703 L1552,717 L1533,726 L1517,752 L1512,791 L1519,821 L1501,837 L1482,837 L1450,858 L1432,872 L1417,908 L1421,934 L1424,952M1706,773 L1694,777 L1690,791 L1676,809 L1664,823 L1662,840 L1657,856 L1664,865 L1662,869M1664,823 L1680,828 L1694,819 L1710,814 L1701,830 L1722,837 L1733,823 L1772,826M1593,860 L1625,856 L1648,872 L1662,867 L1680,869 L1710,856 L1717,860 L1706,879 L1717,885 L1740,876 L1768,863M1574,902 L1591,925 L1607,918 L1625,904 L1637,897 L1662,906 L1678,920 L1690,908 L1722,920 L1738,913 L1780,906M1574,902 L1552,916 L1524,929 L1503,920 L1489,929 L1492,945 L1478,964 L1450,975 L1435,955 L1424,952M1593,860 L1597,874 L1577,902M1678,920 L1683,934 L1690,955 L1678,971 L1692,994 L1704,996M1678,920 L1701,936 L1727,952 L1747,955" fill="none" stroke="#000" stroke-width="2.2" stroke-linejoin="round"/>
<path d="M179,283 L200,297 L225,317 L245,312 L274,300 L292,290 L314,293 L339,303 L361,318 L376,332 L384,345 L389,329 L404,309 L424,293 L426,267 L441,245 L468,236 L498,232 L528,220 L540,202 L563,196 L574,206 L563,217 L553,225 L548,235 L555,245 L568,245 L583,235 L603,229 L602,210 L613,206 L620,225 L642,229 L662,237 L672,260 L697,261 L732,268 L767,274 L802,267 L841,262 L883,254 L848,261 L864,274 L870,285 L895,283 L918,297 L924,322 L943,324 L957,334 L994,361 L1030,398 L1044,412 L1083,416 L1150,421 L1184,430 L1214,448 L1230,464 L1244,481 L1249,508 L1259,538 L1271,540 L1286,555 L1283,583 L1288,602 L1318,619 L1338,627 L1358,632 L1388,642 L1418,653 L1448,658 L1462,672 L1497,683 L1527,697 L1557,707 L1587,707 L1617,710 L1641,721 L1676,742 L1696,763 L1711,776 L1746,783 L1776,787 L1786,816 L1792,846 L1791,886 L1781,912 L1761,935 L1738,962 L1716,978 L1700,1000 L1690,1022 L1671,1042 L1653,1056 L1650,1076 L1648,1100 L1647,1140 L1646,1184 L1646,1200 L1629,1225 L1627,1250 L1617,1285 L1597,1314 L1584,1330 L1583,1349 L1562,1364 L1547,1379 L1522,1386 L1482,1389 L1462,1390 L1438,1409 L1413,1415 L1393,1425 L1368,1440 L1348,1455 L1333,1474 L1328,1498 L1324,1548 L1314,1573 L1289,1594 L1273,1618 L1259,1639 L1239,1658 L1214,1678 L1199,1703 L1179,1728 L1159,1743 L1144,1767 L1138,1771 L1116,1783 L1088,1777 L1057,1774 L1042,1766 L1019,1765 L1007,1754 L997,1743 L1002,1760 L1010,1776 L1033,1786 L1043,1799 L1035,1811 L1038,1823 L1055,1830 L1059,1845 L1047,1862 L1030,1881 L1026,1890 L1002,1899 L950,1913 L926,1906 L876,1912 L869,1916 L876,1936 L871,1976 L856,1991 L816,1991 L782,1985 L774,2001 L777,2016 L797,2027 L819,2021 L827,2038 L819,2048 L803,2048 L787,2040 L781,2044 L799,2052 L785,2058 L771,2073 L769,2097 L759,2117 L731,2121 L710,2133 L694,2153 L698,2169 L723,2185 L751,2190 L755,2206 L747,2218 L723,2234 L698,2250 L687,2274 L662,2287 L646,2298 L639,2323 L651,2340 L664,2363 L650,2369 L666,2381 L679,2407 L706,2423 L739,2435 L773,2442 L763,2452 L731,2456 L682,2464 L642,2476 L602,2464 L561,2452 L521,2431 L493,2423 L460,2387 L440,2351 L428,2315 L424,2262 L424,2226 L422,2177 L444,2157 L460,2133 L465,2105 L467,2065 L477,2008 L478,2006 L488,1976 L498,1936 L493,1896 L488,1861 L508,1841 L528,1802 L543,1772 L553,1728 L563,1712 L558,1687 L555,1633 L563,1623 L565,1583 L573,1548 L583,1518 L590,1478 L595,1449 L593,1389 L603,1364 L608,1329 L603,1299 L605,1250 L598,1222 L568,1200 L518,1179 L478,1155 L439,1125 L404,1080 L389,1045 L369,1015 L354,986 L334,936 L314,896 L289,851 L267,826 L240,814 L240,802 L232,772 L235,752 L262,732 L277,717 L264,702 L250,687 L245,647 L255,637 L269,608 L274,588 L299,578 L314,558 L329,538 L354,518 L369,488 L366,468 L366,429 L364,389 L354,359 L344,337 L319,324 L294,314 L277,329 L264,344 L274,364 L245,369 L220,354 L200,337 L179,339Z" fill="none" stroke="#000" stroke-width="2.5" stroke-linejoin="round"/>
<path d="M547.5,246.5 L553.0,254.0 L559.0,256.0 L563.0,269.6 L574.5,289.0 L574.5,304.4 L559.0,310.0 L547.5,304.4 L541.7,285.0 L547.5,269.6 L550.0,258.0Z" fill="#fff" stroke="#000" stroke-width="2.2"/>
<path d="M550,246 L552,236" stroke="#000" stroke-width="2.5" fill="none"/>
<path d="M1259.5,1624.9 L1248.4,1636.0 L1231.8,1652.5 L1226.3,1663.6 L1209.7,1677.4 L1207.0,1688.5 L1220.7,1683.0 L1237.3,1669.0 L1254.0,1647.0 L1265.0,1630.4Z" fill="#fff" stroke="#000" stroke-width="2"/>
<path d="M1187.6,1702.3 L1176.5,1719.0 L1165.4,1735.5 L1171.0,1741.0 L1182.0,1724.4 L1193.0,1708.0Z" fill="#eef2f5" stroke="#000" stroke-width="2"/>
<path d="M890,252 L915,250 L914,262 L908,275 L893,276 L896,262 Z" fill="#d96650"/>
<rect x="607" y="189" width="8" height="9" fill="#d9634d"/>
<rect x="638" y="200" width="12" height="8" fill="#d9634d"/>
<rect x="663" y="202" width="8" height="8" fill="#d9634d"/>
<rect x="764" y="245" width="9" height="5" fill="#d9634d"/>
<path d="M798,246 L806,240 L818,242 L816,256 L800,258 Z" fill="#dd6f56"/>
<path d="M790,249 L800,246 L806,250 L798,254 Z" fill="none" stroke="#000" stroke-width="1.8"/>
<path d="M908.0,2342.7 L924.0,2330.6 L944.4,2328.6 L964.5,2334.7 L960.5,2350.8 L952.4,2365.0 L924.2,2354.8 L910.0,2350.8Z" fill="#bcd9ea" stroke="#000" stroke-width="2"/>
<path d="M964.5,2334.7 L984.7,2328.6 L1017.0,2334.7 L1021.0,2342.7 L1000.8,2350.8 L980.6,2354.8 L964.5,2346.8Z" fill="#bcd9ea" stroke="#000" stroke-width="2"/>
<path d="M787,2445 L817,2443 L815,2450 L789,2451 Z" fill="#b0d3e8" stroke="#000" stroke-width="1.8"/>
<path d="M476.0,2010.0 L494.0,2010.0 L485.0,2063.0 L467.0,2059.0Z" fill="#e6eff5" stroke="#000" stroke-width="2.2"/>
<path d="M434.0,2194.9 L437.1,2200.6 L434.1,2204.5 L428.4,2204.7 L428.4,2199.4ZM429.9,2349.7 L435.8,2343.9 L441.0,2341.6 L443.7,2345.0 L438.0,2351.0 L432.1,2354.1ZM471.4,2329.3 L468.6,2335.8 L460.9,2337.8 L458.5,2333.5 L464.2,2326.8 L471.4,2324.3ZM555.0,2437.5 L544.2,2436.2 L545.0,2430.4 L554.5,2424.5 L568.7,2425.2 L570.3,2430.8 L569.4,2437.6ZM486.7,2086.2 L487.6,2091.4 L478.3,2093.2 L469.8,2088.0 L474.2,2082.9 L482.0,2082.1ZM474.2,2302.1 L474.7,2304.5 L469.8,2305.3 L466.9,2303.1 L471.2,2300.5ZM454.2,2176.4 L452.2,2182.1 L444.7,2184.3 L438.3,2180.5 L445.9,2175.3ZM629.3,2461.1 L634.3,2460.1 L638.6,2459.8 L641.9,2461.0 L644.4,2463.1 L640.6,2465.2 L635.3,2464.0 L632.4,2463.1ZM455.9,2153.9 L451.7,2153.7 L449.1,2149.4 L452.8,2145.9 L457.2,2147.0 L459.0,2151.0ZM482.7,2416.2 L480.8,2412.5 L478.6,2407.0 L487.7,2404.2 L493.1,2405.4 L498.9,2407.2 L494.0,2412.0 L489.4,2416.8ZM490.2,2315.8 L494.9,2317.9 L489.9,2325.8 L483.1,2326.9 L480.3,2321.4ZM687.0,2475.8 L675.7,2477.4 L672.1,2472.6 L680.6,2469.7 L692.2,2470.2ZM472.8,2225.3 L470.8,2230.3 L460.1,2232.7 L446.3,2233.8 L445.7,2227.7 L453.2,2221.6 L466.5,2222.0ZM488.1,2147.7 L499.4,2150.7 L493.5,2157.0 L481.0,2157.7 L473.9,2154.8 L475.4,2149.5ZM472.4,2160.1 L477.7,2164.1 L479.9,2167.1 L478.4,2172.7 L469.4,2177.3 L460.8,2178.9 L453.9,2176.2 L462.1,2167.8ZM515.0,2037.2 L517.6,2040.4 L516.9,2045.0 L511.8,2044.2 L510.5,2040.2ZM506.7,2091.5 L504.9,2088.6 L508.6,2085.5 L517.1,2081.2 L527.7,2083.1 L525.1,2087.8 L525.0,2092.5 L512.8,2095.5ZM507.3,2388.0 L504.8,2392.7 L495.3,2391.5 L486.3,2388.9 L496.3,2385.3 L507.1,2383.1ZM484.8,2033.8 L479.2,2034.7 L475.8,2033.2 L476.5,2028.4 L481.4,2023.0 L485.9,2024.4 L488.9,2027.4ZM465.1,2303.7 L465.0,2309.1 L457.8,2312.7 L448.1,2312.4 L454.1,2307.2ZM498.9,2062.7 L502.0,2063.4 L505.1,2065.8 L502.8,2069.2 L499.2,2071.0 L494.9,2070.5 L492.5,2067.0 L495.4,2063.7ZM481.5,2368.9 L482.1,2364.0 L487.4,2359.0 L495.8,2357.4 L496.5,2361.8 L495.4,2365.9 L488.5,2370.0ZM581.6,2462.8 L579.0,2462.8 L578.9,2461.2 L579.3,2458.9 L583.5,2456.8 L586.5,2457.5 L586.4,2459.5 L584.5,2461.5ZM469.7,2101.4 L474.2,2095.7 L483.5,2094.9 L489.6,2101.0 L481.7,2104.3ZM456.4,2134.2 L451.1,2129.4 L459.1,2125.0 L471.2,2125.4 L465.1,2131.9ZM632.0,2476.8 L627.5,2472.8 L628.9,2466.7 L637.5,2465.5 L639.7,2474.3ZM436.1,2160.9 L440.9,2157.7 L445.1,2159.0 L451.2,2159.9 L449.4,2166.2 L445.2,2171.1 L440.5,2168.3 L434.8,2167.2ZM515.0,2075.6 L510.5,2077.5 L505.8,2079.4 L499.8,2076.6 L499.9,2072.0 L506.6,2071.6 L511.1,2072.8ZM649.4,2463.9 L644.8,2463.8 L643.0,2460.9 L647.4,2456.7 L654.1,2453.0 L654.8,2458.4ZM461.8,2124.7 L479.1,2120.8 L486.4,2128.9 L470.5,2134.4 L460.2,2132.0ZM450.8,2154.6 L447.3,2151.7 L447.0,2144.2 L455.1,2141.5 L458.9,2144.8 L456.5,2150.9ZM599.2,2436.7 L602.0,2430.6 L607.4,2427.5 L612.6,2426.3 L611.6,2432.2 L606.7,2441.3 L600.5,2440.7ZM514.3,2056.4 L512.4,2059.3 L508.7,2061.3 L507.0,2059.3 L507.4,2056.9 L510.8,2055.8ZM422.3,2247.5 L424.3,2248.1 L426.4,2248.7 L426.1,2250.7 L424.2,2251.5 L422.1,2251.2 L421.4,2249.3ZM455.2,2310.4 L446.3,2313.7 L433.4,2311.3 L435.3,2306.3 L441.1,2303.0 L451.9,2305.2ZM608.0,2436.4 L601.3,2439.3 L595.7,2437.8 L596.2,2432.7 L599.6,2430.0 L605.2,2430.0ZM452.2,2153.6 L458.1,2155.4 L459.7,2159.9 L451.2,2161.6 L448.7,2158.6ZM466.7,2176.1 L467.0,2173.5 L470.1,2171.4 L473.7,2170.8 L474.4,2172.9 L474.3,2174.6 L472.4,2176.3 L469.0,2177.7ZM454.3,2196.4 L454.4,2193.7 L458.8,2189.7 L460.0,2191.6 L457.5,2195.5ZM582.8,2398.5 L585.6,2402.0 L580.1,2412.0 L572.5,2415.8 L569.7,2413.5 L571.7,2407.6 L577.2,2398.3ZM476.9,2142.2 L477.1,2144.7 L474.2,2145.7 L472.1,2144.3 L470.2,2142.4 L472.5,2140.7 L474.7,2141.3ZM494.0,2023.1 L498.4,2021.2 L501.4,2022.9 L500.4,2026.4 L496.1,2029.4 L489.8,2030.8 L491.2,2026.1ZM501.1,2043.1 L499.6,2040.0 L507.2,2037.1 L511.4,2038.5 L508.6,2041.5ZM593.9,2445.7 L594.1,2454.0 L583.9,2460.2 L578.0,2458.1 L573.7,2453.0 L583.7,2446.9ZM621.2,2451.9 L615.8,2456.4 L610.3,2456.2 L611.6,2453.1 L617.6,2449.1ZM482.6,2097.1 L477.6,2096.4 L474.9,2094.2 L478.3,2090.9 L484.5,2091.0 L490.2,2091.6 L486.6,2094.7ZM479.4,2300.3 L482.0,2302.0 L478.8,2305.6 L473.0,2309.4 L467.5,2309.4 L464.3,2308.0 L467.0,2304.2 L473.7,2299.7ZM623.1,2445.0 L627.1,2444.3 L630.2,2445.5 L630.0,2448.7 L628.4,2452.1 L624.5,2453.0 L620.9,2452.2 L620.2,2448.6ZM506.5,2091.7 L509.2,2088.7 L510.9,2086.5 L515.4,2085.6 L519.2,2087.8 L519.9,2091.4 L515.4,2093.0 L511.7,2092.2ZM655.7,2445.8 L658.3,2447.7 L657.1,2452.1 L652.9,2456.0 L648.5,2455.0 L646.9,2451.4 L648.3,2446.8 L652.8,2444.6ZM428.2,2345.8 L434.4,2342.0 L440.3,2344.2 L441.1,2349.7 L437.1,2354.6 L432.4,2350.9ZM482.3,2196.5 L479.3,2199.6 L475.4,2200.9 L475.9,2196.7 L478.6,2192.0 L482.3,2191.1 L483.3,2193.3ZM493.2,2169.7 L487.6,2170.9 L482.9,2170.6 L479.7,2167.2 L482.1,2163.4 L487.5,2162.1 L493.1,2164.6ZM528.8,2409.7 L538.1,2409.3 L531.2,2415.2 L521.4,2418.3 L522.1,2413.2ZM473.7,2151.9 L480.6,2149.6 L485.9,2147.1 L491.2,2147.6 L486.4,2151.4 L483.2,2153.4 L477.8,2156.0 L475.0,2154.5ZM512.2,2415.0 L518.9,2417.1 L526.0,2420.9 L518.7,2423.4 L510.1,2420.9 L501.7,2418.7 L505.0,2415.7ZM444.5,2233.6 L441.4,2236.3 L437.8,2235.5 L438.8,2232.2 L442.2,2230.6ZM472.9,2199.9 L470.1,2201.6 L467.8,2200.9 L466.9,2199.3 L469.3,2197.5 L472.0,2195.9 L474.2,2196.6 L474.6,2198.1ZM465.5,2283.9 L470.7,2281.3 L471.2,2283.9 L467.4,2286.9 L462.7,2289.0 L462.6,2286.6ZM437.6,2167.9 L432.2,2176.5 L423.2,2174.9 L422.7,2169.1 L429.4,2164.9ZM480.1,2297.1 L483.3,2298.0 L482.8,2300.2 L479.0,2302.9 L475.3,2301.7 L473.6,2300.3 L474.7,2297.6ZM444.8,2156.8 L443.7,2159.1 L441.7,2159.0 L440.5,2158.1 L440.9,2155.4 L444.0,2153.4 L445.0,2155.2ZM479.4,2092.1 L494.8,2090.2 L491.6,2097.3 L481.6,2103.0 L469.5,2101.4 L465.1,2095.7ZM456.6,2132.5 L452.1,2134.6 L451.4,2131.9 L455.3,2127.0 L461.3,2124.5 L460.1,2128.8ZM427.4,2288.9 L429.3,2288.9 L429.1,2291.0 L426.5,2295.1 L423.9,2294.9 L423.8,2292.0ZM465.6,2230.3 L471.4,2226.3 L473.5,2229.6 L471.2,2234.5 L467.7,2239.3 L464.6,2238.7 L460.3,2237.5ZM504.2,2047.0 L509.8,2051.7 L506.3,2057.8 L496.5,2061.8 L494.3,2054.6ZM455.9,2253.4 L460.4,2249.3 L465.2,2250.1 L466.7,2254.3 L464.2,2260.3 L458.7,2257.8ZM455.4,2346.6 L461.3,2344.1 L465.0,2344.9 L466.0,2347.2 L463.7,2350.0 L459.3,2352.6 L456.5,2350.4ZM539.1,2444.4 L542.7,2440.7 L546.0,2439.2 L545.4,2442.1 L542.9,2445.3 L539.5,2446.9ZM635.5,2482.8 L629.2,2483.3 L627.1,2479.4 L633.2,2470.9 L638.4,2470.7 L641.9,2473.1ZM542.2,2377.0 L548.4,2369.7 L554.2,2370.2 L559.7,2372.7 L550.7,2379.1 L543.9,2381.5ZM518.3,2120.3 L514.9,2126.4 L505.3,2123.2 L499.3,2118.9 L507.5,2114.1 L519.0,2114.7ZM444.6,2196.7 L443.3,2194.4 L440.4,2190.7 L447.1,2188.5 L452.2,2188.4 L455.7,2190.7 L454.9,2195.1 L449.2,2198.6ZM572.2,2444.8 L572.2,2443.1 L572.5,2441.3 L574.4,2441.6 L576.5,2442.0 L576.3,2444.2 L574.2,2445.3ZM496.0,2055.6 L493.1,2058.2 L490.1,2058.5 L486.4,2056.4 L489.6,2053.4 L493.8,2051.9ZM581.6,2429.8 L577.2,2435.2 L570.0,2431.6 L566.1,2426.6 L574.6,2424.5 L582.1,2424.9ZM633.3,2474.8 L629.7,2475.4 L629.3,2471.6 L631.8,2468.6 L634.5,2470.6 L636.4,2473.3ZM497.9,2085.0 L498.6,2090.2 L490.7,2093.0 L483.9,2094.3 L479.2,2091.1 L483.8,2085.6 L491.4,2084.2ZM440.9,2232.3 L443.8,2232.5 L446.9,2232.3 L444.7,2235.5 L442.2,2238.2 L438.5,2238.9 L438.8,2235.6ZM500.9,2394.3 L498.2,2394.0 L498.7,2392.2 L500.9,2390.9 L503.0,2392.4ZM479.5,2033.6 L475.9,2038.7 L470.7,2039.5 L466.1,2038.7 L467.9,2033.6 L472.8,2031.0 L479.3,2028.3ZM450.7,2153.5 L451.8,2154.8 L451.1,2157.5 L446.1,2159.2 L444.4,2157.6 L446.2,2154.6ZM475.5,2274.0 L473.2,2277.3 L469.0,2276.4 L465.0,2271.8 L470.6,2269.4 L475.7,2268.9ZM489.1,2391.3 L491.5,2392.3 L495.1,2393.4 L493.4,2397.2 L489.6,2399.4 L487.2,2397.3 L483.6,2396.2 L485.3,2392.5ZM467.6,2285.7 L467.9,2290.1 L460.8,2291.7 L456.1,2288.1 L460.4,2284.2 L464.8,2283.8ZM509.3,2369.5 L500.1,2367.1 L503.6,2363.4 L510.1,2359.4 L523.2,2362.3 L522.5,2367.2 L517.7,2369.8ZM620.5,2474.9 L619.1,2470.0 L627.6,2468.6 L635.8,2470.7 L637.7,2474.6 L630.4,2475.1ZM514.4,2053.3 L517.0,2054.7 L517.0,2056.7 L515.2,2058.4 L511.4,2059.7 L510.3,2057.4 L509.4,2054.5ZM495.0,2422.7 L499.7,2419.2 L503.0,2420.2 L498.9,2426.3 L493.5,2428.0ZM513.0,2073.6 L514.1,2079.5 L507.5,2083.5 L501.9,2081.7 L498.8,2077.0 L502.3,2070.7 L508.1,2068.6 L511.8,2070.1ZM504.7,2092.0 L503.2,2089.6 L501.4,2087.7 L504.2,2084.7 L508.0,2084.5 L509.5,2086.9 L508.0,2089.6ZM458.4,2194.9 L459.1,2186.5 L471.4,2180.0 L482.9,2179.8 L471.4,2189.3ZM572.0,2455.8 L569.9,2456.4 L568.2,2455.6 L570.6,2451.8 L574.3,2449.9 L574.5,2452.7ZM660.0,2471.6 L656.5,2468.5 L655.2,2464.2 L661.2,2463.5 L667.5,2464.3 L666.4,2469.7ZM576.4,2426.6 L578.2,2429.3 L572.8,2431.4 L566.9,2431.8 L561.9,2430.8 L560.7,2428.2 L566.0,2426.5 L572.5,2424.0ZM527.4,2357.4 L524.2,2355.8 L525.8,2351.7 L529.3,2351.5 L530.5,2353.8ZM557.9,2425.5 L560.7,2423.3 L565.0,2422.8 L566.3,2424.6 L565.2,2426.9 L561.4,2429.4 L557.3,2429.3 L555.8,2427.7ZM449.6,2203.7 L445.4,2214.4 L441.4,2222.4 L430.4,2232.0 L424.7,2227.5 L428.4,2217.0 L438.5,2209.0ZM479.9,2131.7 L481.9,2133.4 L480.9,2136.5 L478.1,2140.2 L476.4,2138.0 L477.5,2135.3ZM475.9,2167.9 L476.0,2169.9 L473.8,2171.2 L470.7,2171.7 L469.7,2169.8 L472.5,2167.8ZM547.4,2383.2 L547.5,2378.0 L556.9,2375.1 L561.0,2381.2 L553.4,2386.6ZM449.0,2161.2 L455.0,2159.4 L460.2,2159.8 L467.5,2159.9 L469.9,2163.7 L463.1,2165.0 L458.4,2165.8 L454.0,2164.2ZM568.6,2383.9 L564.3,2386.2 L559.7,2386.8 L557.0,2384.9 L560.1,2381.9 L564.5,2380.7 L569.4,2380.6ZM478.2,2141.4 L485.4,2141.6 L483.6,2145.4 L477.6,2147.1 L470.4,2145.3ZM509.7,2368.4 L501.1,2364.3 L500.5,2358.5 L513.4,2360.3 L516.7,2365.2ZM492.5,2114.0 L495.3,2105.0 L502.4,2097.1 L512.5,2095.2 L513.1,2103.1 L503.4,2110.6ZM454.3,2190.6 L452.2,2190.3 L451.6,2188.7 L454.4,2186.1 L457.1,2185.0 L461.0,2183.4 L459.8,2186.2 L457.5,2188.6ZM448.0,2186.4 L454.6,2189.2 L458.4,2193.6 L450.6,2195.9 L444.4,2191.3ZM499.1,2111.3 L503.8,2105.4 L509.6,2107.9 L508.1,2115.8 L501.2,2115.8ZM465.8,2275.9 L468.4,2277.3 L468.4,2279.8 L466.6,2282.0 L463.2,2281.9 L460.6,2280.2 L461.8,2277.9 L462.8,2275.8ZM470.8,2323.9 L472.5,2319.1 L477.3,2319.4 L479.1,2323.0 L474.0,2325.8ZM458.8,2307.0 L451.4,2307.2 L448.4,2302.9 L454.6,2299.5 L463.2,2301.1ZM502.0,2404.3 L498.1,2408.3 L494.5,2405.7 L493.9,2402.0 L498.4,2400.2ZM458.5,2101.3 L452.9,2100.6 L454.8,2095.1 L463.3,2092.0 L468.9,2092.1 L466.3,2097.1ZM483.5,2335.5 L479.7,2334.9 L481.7,2330.9 L485.3,2327.4 L489.0,2327.5 L490.9,2328.8 L490.1,2331.5 L487.4,2334.7ZM517.4,2361.9 L517.3,2360.8 L518.1,2359.0 L519.9,2359.6 L521.1,2360.8 L521.0,2362.6 L519.5,2364.0 L517.6,2363.5ZM505.2,2365.3 L494.6,2365.4 L493.1,2361.0 L501.5,2356.7 L512.1,2356.5ZM637.9,2452.9 L643.1,2451.7 L643.4,2455.4 L639.3,2459.8 L633.4,2461.3 L631.4,2457.3ZM494.4,2056.5 L496.5,2057.8 L496.2,2060.1 L491.9,2060.2 L490.1,2057.7ZM496.7,2401.6 L485.3,2402.9 L481.1,2397.7 L483.7,2391.8 L497.7,2393.7ZM600.5,2458.8 L598.5,2461.8 L596.2,2463.6 L592.8,2466.3 L590.7,2465.3 L591.0,2462.6 L594.5,2459.5 L597.3,2459.5ZM511.6,2359.2 L515.7,2359.4 L515.3,2363.9 L512.1,2366.6 L508.6,2365.6 L507.3,2362.6 L508.1,2359.0ZM661.1,2463.7 L659.3,2459.8 L658.1,2455.4 L666.3,2452.4 L673.6,2451.6 L674.8,2456.0 L668.9,2460.7ZM459.0,2248.0 L453.9,2243.1 L457.2,2237.8 L462.1,2234.4 L469.4,2236.1 L470.8,2243.2 L465.7,2247.6ZM442.5,2198.2 L438.9,2194.6 L441.0,2189.6 L448.9,2189.1 L454.7,2190.8 L456.2,2194.5 L457.1,2200.1 L448.0,2201.8ZM553.3,2443.2 L547.3,2441.7 L550.1,2439.1 L554.9,2438.6 L560.0,2439.4 L559.8,2442.2ZM485.3,2147.6 L477.5,2145.3 L478.4,2137.5 L484.6,2135.8 L490.2,2136.5 L491.2,2142.8ZM448.3,2331.0 L451.5,2330.3 L455.5,2330.6 L456.7,2332.2 L456.3,2333.4 L453.8,2334.0 L449.9,2334.3 L448.3,2332.6ZM465.9,2350.8 L456.6,2350.7 L454.3,2347.1 L462.4,2342.9 L470.6,2341.1 L470.3,2344.9ZM466.9,2178.4 L464.6,2181.2 L459.9,2183.8 L456.9,2182.5 L457.2,2179.7 L463.5,2177.3ZM595.7,2426.9 L592.5,2426.0 L595.6,2421.8 L604.2,2419.0 L602.9,2423.7ZM613.7,2424.2 L616.6,2426.9 L614.4,2432.7 L610.5,2441.8 L602.6,2443.4 L600.7,2439.2 L598.5,2434.0 L607.1,2427.0ZM479.2,2157.2 L481.2,2159.0 L478.6,2160.3 L476.3,2160.8 L474.4,2159.1 L475.1,2156.4 L477.8,2155.7ZM476.9,2074.4 L479.5,2074.5 L481.1,2075.4 L480.1,2077.0 L477.9,2077.3 L476.1,2076.4ZM453.8,2111.9 L454.6,2108.8 L461.4,2110.0 L464.5,2112.4 L457.8,2113.7ZM566.0,2400.2 L575.8,2399.6 L573.4,2406.2 L567.5,2412.5 L558.7,2413.2 L552.9,2412.4 L553.9,2408.0 L556.3,2401.7ZM440.4,2354.6 L437.1,2350.6 L435.7,2344.4 L442.4,2340.8 L446.8,2341.7 L450.0,2345.2 L446.7,2351.5ZM469.0,2116.7 L473.4,2106.5 L483.6,2101.4 L487.0,2104.3 L483.3,2111.4 L475.9,2116.5ZM447.1,2244.2 L443.2,2246.5 L439.5,2246.5 L437.5,2244.6 L440.6,2241.2 L445.2,2240.9 L447.6,2241.7ZM491.9,2047.0 L487.8,2046.8 L485.9,2045.0 L486.7,2042.8 L490.0,2041.1 L492.7,2043.6ZM433.9,2174.9 L437.0,2169.0 L442.6,2165.5 L444.2,2170.4 L444.6,2176.0 L438.6,2177.2ZM601.0,2441.3 L599.8,2435.9 L605.5,2428.0 L615.0,2425.1 L608.9,2434.4ZM527.5,2397.9 L527.2,2392.4 L536.7,2388.0 L545.7,2389.7 L543.2,2396.2 L538.3,2402.0 L529.8,2401.9ZM523.4,2440.1 L523.2,2436.4 L526.4,2434.3 L530.8,2432.5 L532.6,2436.8 L533.0,2440.7 L530.2,2444.4 L524.5,2445.7ZM524.0,2049.3 L521.0,2054.9 L511.9,2055.9 L501.9,2057.0 L502.5,2051.1 L511.6,2048.1 L518.1,2047.3ZM460.1,2305.3 L453.3,2308.0 L447.0,2307.1 L453.0,2302.5 L460.8,2301.7ZM637.7,2486.8 L644.0,2480.0 L647.8,2475.1 L652.5,2474.0 L656.3,2476.1 L652.8,2483.4 L646.7,2489.7 L641.5,2489.4ZM673.8,2479.4 L669.4,2476.2 L673.8,2472.1 L677.8,2474.5 L678.0,2477.6ZM463.6,2127.5 L458.0,2127.5 L458.4,2124.4 L462.1,2120.4 L466.8,2122.4ZM502.9,2063.3 L506.6,2057.5 L511.5,2054.7 L515.3,2055.1 L512.6,2061.0 L507.9,2066.1 L502.4,2068.5ZM457.2,2110.6 L448.2,2112.9 L435.5,2110.7 L431.2,2103.5 L440.5,2099.6 L451.1,2101.3 L461.2,2105.2ZM530.3,2422.1 L535.5,2420.8 L539.4,2423.8 L537.2,2427.7 L532.3,2428.3 L529.4,2425.8ZM473.8,2148.4 L472.9,2151.1 L468.5,2151.6 L465.3,2149.9 L461.5,2147.3 L466.0,2145.4 L469.8,2143.7 L472.6,2146.3ZM498.4,2080.3 L504.5,2072.9 L516.1,2067.9 L516.3,2074.2 L506.2,2081.8ZM451.3,2257.4 L457.1,2256.3 L462.2,2258.2 L460.9,2261.1 L454.5,2261.5 L449.1,2260.0ZM564.5,2380.3 L561.9,2384.0 L555.1,2384.1 L555.0,2381.2 L560.6,2378.4ZM611.3,2449.0 L614.6,2446.8 L618.3,2447.0 L619.9,2449.6 L616.6,2452.2 L614.0,2455.5 L609.4,2455.6 L609.8,2451.8ZM443.9,2197.4 L449.5,2189.4 L454.9,2181.7 L462.6,2179.7 L466.6,2183.6 L460.2,2191.7 L455.3,2197.5 L447.4,2201.9ZM476.0,2017.5 L470.8,2017.6 L466.6,2015.8 L469.6,2010.4 L475.9,2007.2 L481.2,2006.4 L481.2,2009.9 L482.0,2013.6ZM427.8,2284.4 L425.3,2286.6 L421.7,2287.2 L420.7,2284.6 L424.0,2282.5 L427.0,2282.4ZM530.8,2354.0 L524.4,2351.7 L525.2,2348.1 L530.1,2345.6 L534.4,2350.1ZM592.9,2419.8 L599.6,2415.6 L607.0,2419.4 L607.2,2423.6 L607.2,2428.1 L598.8,2428.0 L590.4,2427.9 L586.7,2423.2ZM549.9,2401.0 L546.4,2402.8 L547.3,2398.9 L550.8,2395.6 L551.7,2397.8ZM455.4,2308.5 L455.9,2304.4 L460.1,2303.7 L461.8,2305.2 L460.5,2308.4 L456.7,2311.1ZM581.8,2436.2 L592.6,2433.0 L597.8,2437.2 L589.0,2442.1 L576.4,2443.4ZM614.8,2438.1 L614.0,2435.6 L615.5,2432.1 L618.5,2431.8 L619.8,2433.5 L617.8,2436.1ZM523.7,2060.0 L519.2,2066.1 L509.6,2073.7 L496.2,2074.8 L501.9,2066.7 L505.7,2060.1 L518.7,2056.3ZM477.7,2350.0 L478.0,2353.1 L473.8,2357.1 L468.3,2363.2 L466.4,2360.4 L467.2,2356.4 L471.0,2351.6 L476.8,2346.3ZM460.9,2206.8 L466.3,2206.4 L468.1,2210.3 L464.9,2214.9 L460.2,2221.0 L454.6,2219.3 L453.6,2215.0 L453.5,2209.1ZM470.4,2069.2 L476.7,2065.3 L484.8,2067.3 L487.7,2072.3 L480.7,2076.9 L470.3,2074.9ZM448.6,2184.9 L454.0,2186.1 L459.9,2188.2 L458.0,2190.4 L453.9,2191.1 L448.7,2190.4 L446.6,2188.2 L443.9,2185.7ZM498.6,2404.0 L501.7,2407.7 L494.3,2415.9 L485.2,2420.7 L483.4,2415.6 L484.8,2410.3 L488.9,2401.8 L495.7,2402.3ZM647.2,2448.8 L646.3,2455.3 L638.8,2456.6 L634.7,2453.6 L636.4,2446.0 L645.6,2443.0ZM628.2,2446.0 L624.2,2446.5 L623.7,2444.1 L622.7,2442.0 L626.1,2441.2 L630.2,2441.4 L629.8,2444.0ZM625.6,2473.4 L626.2,2475.2 L623.6,2477.2 L618.8,2477.5 L615.5,2476.0 L616.8,2473.4 L621.9,2472.7ZM456.4,2200.2 L458.9,2196.0 L463.7,2194.6 L464.3,2196.7 L463.5,2200.5 L457.6,2202.9ZM432.4,2167.5 L435.2,2175.3 L423.7,2184.9 L413.9,2185.0 L422.8,2171.3ZM570.2,2399.6 L564.9,2396.3 L567.7,2391.1 L573.8,2390.0 L578.4,2394.3 L575.8,2399.4ZM421.0,2279.7 L429.6,2279.9 L441.0,2280.2 L441.4,2285.3 L433.1,2288.6 L424.2,2288.1 L418.5,2286.3 L412.8,2282.8ZM453.9,2160.4 L448.9,2157.7 L447.8,2150.6 L458.0,2143.9 L463.1,2148.2 L461.4,2155.1ZM451.8,2312.4 L458.1,2313.6 L463.5,2316.7 L459.7,2321.4 L455.1,2324.6 L447.2,2323.9 L446.8,2317.1ZM510.0,2116.8 L513.8,2118.4 L514.7,2121.8 L514.0,2125.7 L510.0,2127.5 L504.6,2128.3 L503.5,2123.4 L506.4,2119.7ZM445.8,2204.8 L448.9,2201.5 L453.1,2200.8 L454.2,2204.4 L453.1,2208.1 L449.2,2207.2ZM546.1,2356.0 L543.5,2360.8 L532.7,2362.9 L527.3,2360.8 L527.2,2357.7 L533.0,2355.1 L539.2,2354.9ZM578.4,2416.4 L574.7,2418.7 L569.5,2420.1 L566.6,2417.0 L567.5,2413.8 L573.5,2414.0ZM492.0,2383.1 L495.1,2381.9 L499.4,2381.9 L500.5,2385.0 L496.8,2387.4 L491.7,2386.0ZM637.6,2440.4 L644.5,2440.8 L648.7,2441.9 L646.9,2444.8 L642.6,2448.6 L634.7,2449.0 L626.2,2448.5 L628.9,2443.8ZM442.5,2296.5 L445.4,2300.1 L438.9,2303.6 L430.1,2301.2 L432.9,2297.1ZM451.5,2207.7 L455.0,2211.4 L451.6,2216.4 L446.4,2217.0 L444.3,2213.7 L445.9,2209.3ZM493.1,2276.8 L482.6,2283.9 L470.1,2289.9 L458.5,2286.9 L465.3,2279.9 L479.2,2274.8ZM664.0,2461.3 L665.0,2466.0 L664.7,2470.7 L655.9,2473.2 L651.5,2470.1 L648.7,2466.6 L654.9,2462.7ZM648.7,2474.0 L646.9,2472.0 L647.5,2469.6 L648.0,2466.8 L650.7,2467.3 L652.0,2468.5 L653.1,2470.4 L651.2,2472.1ZM455.6,2298.6 L464.2,2298.6 L463.6,2302.8 L455.3,2304.4 L450.5,2303.1ZM460.1,2315.3 L469.2,2305.7 L482.7,2300.9 L485.3,2307.0 L477.0,2314.0ZM488.9,2368.1 L488.3,2371.2 L484.1,2372.8 L482.1,2371.0 L486.2,2367.4ZM623.1,2453.9 L611.1,2461.0 L599.9,2462.4 L604.1,2454.3 L609.2,2447.8 L620.6,2442.1 L628.9,2444.6ZM508.1,2432.8 L501.5,2429.6 L509.8,2425.6 L516.4,2426.9 L516.0,2432.8ZM513.3,2057.1 L511.4,2052.4 L517.5,2049.9 L520.7,2054.4 L517.6,2059.6ZM466.7,2357.5 L470.1,2361.7 L468.1,2368.2 L460.9,2369.3 L458.8,2363.3 L458.5,2358.9 L461.8,2353.3ZM506.9,2393.7 L514.3,2390.4 L518.1,2392.4 L517.0,2397.4 L511.1,2400.4 L508.1,2398.6ZM470.8,2383.7 L466.9,2380.1 L467.3,2375.9 L474.1,2375.0 L480.4,2376.2 L488.2,2379.5 L484.8,2384.1 L477.9,2386.3ZM514.0,2428.0 L515.9,2422.7 L523.8,2422.3 L522.4,2427.2 L518.5,2430.6ZM565.7,2419.3 L562.4,2411.2 L572.8,2407.5 L579.1,2412.5 L577.3,2419.3ZM550.2,2407.0 L555.5,2409.2 L554.0,2415.5 L544.5,2421.6 L537.3,2421.3 L533.6,2417.8 L540.7,2410.5ZM675.4,2484.0 L675.4,2481.4 L678.2,2480.1 L681.0,2478.5 L683.3,2480.3 L685.0,2482.1 L683.2,2484.2 L679.3,2485.4ZM475.7,2066.2 L467.1,2062.6 L467.8,2054.9 L477.9,2048.5 L487.4,2051.4 L483.7,2059.1ZM495.5,2131.3 L497.0,2126.4 L502.9,2123.6 L503.7,2129.2 L501.5,2134.4 L497.0,2134.3ZM449.4,2155.3 L444.2,2155.8 L440.6,2154.0 L442.7,2151.6 L450.2,2152.2ZM531.6,2354.8 L533.8,2356.6 L532.3,2358.9 L530.6,2361.2 L527.7,2360.0 L528.2,2357.4 L528.8,2355.0ZM579.0,2407.8 L580.9,2410.1 L581.5,2412.6 L580.3,2415.5 L576.9,2416.5 L575.4,2413.5 L575.4,2411.4 L576.3,2409.3ZM474.7,2323.1 L473.3,2320.0 L477.5,2316.8 L483.0,2316.5 L487.6,2317.8 L484.3,2321.2 L479.8,2324.1ZM561.8,2414.3 L563.6,2412.1 L566.9,2410.3 L569.1,2411.9 L572.1,2413.5 L569.9,2416.9 L565.4,2416.7 L561.5,2417.0ZM482.3,2247.4 L472.3,2255.3 L462.5,2258.9 L459.9,2251.9 L468.9,2241.2 L480.8,2238.9ZM612.0,2436.0 L616.4,2438.8 L614.9,2442.5 L611.2,2445.4 L606.1,2442.9 L604.8,2439.3 L605.9,2435.0ZM502.0,2091.6 L503.6,2089.3 L505.7,2089.8 L507.3,2090.6 L507.0,2092.9 L504.4,2093.7 L502.9,2093.9 L500.8,2093.8ZM456.9,2154.9 L460.2,2154.2 L462.3,2156.5 L465.0,2159.2 L462.2,2161.5 L458.0,2160.3 L454.0,2159.1 L453.1,2155.9ZM450.0,2180.4 L441.5,2183.0 L434.1,2180.9 L440.4,2176.2 L448.7,2172.4 L452.5,2176.1ZM576.2,2415.8 L578.5,2418.0 L574.8,2420.1 L571.2,2422.1 L572.0,2418.3 L573.6,2414.7ZM463.2,2073.6 L463.6,2067.9 L475.1,2062.9 L482.0,2068.3 L473.6,2073.4ZM460.5,2388.2 L463.1,2385.6 L466.8,2387.4 L467.3,2389.1 L464.5,2391.8 L458.3,2391.0ZM427.8,2329.0 L433.7,2328.9 L438.0,2332.4 L433.3,2333.9 L428.2,2335.0 L424.4,2331.3ZM668.0,2477.9 L666.2,2478.8 L663.1,2479.0 L661.7,2476.4 L664.8,2475.5 L667.4,2476.0ZM487.3,2042.9 L494.6,2044.2 L497.8,2046.5 L496.2,2048.9 L489.6,2050.7 L484.2,2047.8 L483.4,2045.2ZM427.8,2263.8 L414.9,2256.6 L419.3,2247.5 L437.2,2250.8 L440.7,2260.4ZM495.5,2080.0 L494.9,2077.6 L499.3,2076.6 L502.2,2078.0 L499.6,2080.2ZM504.3,2382.2 L498.6,2382.6 L496.9,2379.9 L497.7,2377.3 L502.3,2375.4 L508.1,2375.7 L509.5,2378.3 L509.4,2381.0ZM444.9,2343.3 L435.8,2341.5 L434.6,2337.1 L440.6,2332.8 L450.0,2336.3 L459.0,2338.8 L453.3,2342.4ZM458.2,2131.7 L451.2,2138.0 L445.5,2137.9 L444.9,2133.0 L451.7,2128.4 L456.4,2127.8ZM600.6,2458.8 L599.2,2455.9 L600.3,2452.4 L605.6,2452.1 L609.1,2453.5 L609.7,2456.5 L605.4,2458.1ZM518.5,2362.4 L517.5,2365.4 L514.3,2366.3 L511.5,2364.8 L513.2,2362.2 L515.9,2360.8ZM483.2,2011.6 L488.4,2007.7 L490.5,2011.8 L492.1,2015.5 L487.4,2020.2 L482.7,2018.2 L480.2,2015.5ZM567.6,2428.7 L574.2,2423.9 L576.1,2428.8 L572.7,2434.7 L568.2,2433.9ZM487.0,2160.5 L486.3,2162.5 L481.3,2165.2 L479.2,2163.1 L479.3,2160.9 L484.5,2159.2ZM477.5,2261.9 L465.8,2261.3 L457.2,2255.4 L468.2,2253.3 L475.4,2256.1ZM423.6,2247.0 L435.0,2240.1 L439.9,2245.4 L429.9,2254.8 L416.6,2255.5ZM468.7,2081.7 L466.0,2082.0 L463.7,2080.7 L465.5,2078.2 L468.4,2079.1ZM506.3,2063.1 L503.4,2065.9 L494.9,2065.9 L493.6,2062.4 L493.7,2058.0 L503.4,2060.1ZM446.4,2168.4 L447.6,2165.8 L452.1,2163.0 L455.9,2164.3 L455.6,2167.9 L450.6,2170.0 L447.1,2170.2ZM486.4,2056.8 L492.0,2052.6 L496.4,2050.1 L500.1,2050.5 L499.0,2055.1 L494.6,2060.1 L490.9,2059.8 L488.8,2059.2ZM662.9,2454.1 L665.1,2455.7 L664.3,2457.7 L661.5,2459.1 L659.6,2457.3 L659.5,2455.0ZM495.9,2059.4 L483.9,2058.5 L474.7,2054.4 L486.9,2049.9 L496.7,2054.1ZM472.2,2149.6 L477.6,2145.4 L484.3,2146.5 L485.4,2151.3 L481.6,2154.4 L476.8,2153.6ZM479.1,2152.3 L483.8,2150.3 L488.3,2146.6 L490.0,2151.0 L489.6,2154.9 L487.3,2159.2 L483.0,2159.0 L479.4,2157.2ZM509.4,2123.6 L503.2,2122.0 L498.7,2119.4 L501.4,2116.5 L508.8,2118.3 L513.6,2121.4ZM489.7,2082.8 L484.1,2085.2 L483.4,2080.3 L483.0,2075.2 L488.4,2070.5 L492.3,2071.7 L496.1,2073.0 L492.8,2078.1ZM561.4,2421.9 L569.1,2415.5 L579.7,2412.2 L588.4,2414.0 L588.5,2421.2 L570.4,2426.3ZM492.4,2156.9 L490.0,2158.2 L487.1,2157.9 L486.5,2155.7 L489.6,2155.3ZM531.4,2422.6 L536.6,2425.8 L537.3,2429.6 L532.0,2434.9 L524.4,2435.3 L521.1,2433.1 L521.0,2428.1ZM463.8,2257.9 L459.2,2260.9 L453.3,2259.4 L451.4,2257.3 L451.2,2254.0 L459.1,2252.1 L463.5,2254.9ZM435.8,2168.3 L436.6,2164.6 L439.7,2160.6 L443.5,2160.5 L443.1,2164.3 L439.5,2167.4ZM430.3,2251.0 L433.1,2249.6 L434.5,2250.8 L434.1,2253.9 L429.5,2255.8 L428.6,2253.5ZM528.3,2434.1 L528.4,2436.3 L524.8,2436.9 L521.0,2437.0 L521.7,2434.6 L523.7,2432.9 L527.7,2431.7ZM464.5,2319.0 L474.6,2303.4 L487.9,2297.6 L482.5,2311.5 L469.5,2325.3ZM472.6,2281.8 L473.9,2282.2 L473.8,2283.5 L473.6,2285.1 L471.9,2285.4 L471.0,2284.1 L469.9,2282.8 L471.1,2281.5ZM506.7,2423.1 L507.0,2424.5 L504.7,2425.4 L502.1,2426.9 L502.5,2425.0 L502.5,2423.7 L504.4,2422.3 L506.7,2421.6ZM660.3,2467.2 L668.5,2458.3 L677.9,2454.6 L681.5,2458.6 L679.4,2466.4 L671.1,2474.7 L663.1,2477.0 L660.3,2473.5ZM593.3,2425.8 L600.6,2428.4 L608.6,2431.3 L602.1,2437.6 L590.1,2439.7 L580.9,2436.6 L586.4,2430.7ZM471.5,2356.1 L468.3,2347.5 L487.6,2344.1 L496.4,2350.8 L487.1,2355.5ZM529.9,2363.2 L531.8,2363.5 L534.4,2365.1 L532.7,2367.6 L530.5,2369.2 L528.0,2368.1 L527.1,2365.8 L528.0,2363.7ZM466.5,2233.2 L460.8,2231.9 L460.0,2227.2 L467.5,2220.2 L474.5,2216.8 L480.4,2216.9 L475.2,2224.5ZM618.9,2465.9 L616.6,2462.1 L621.2,2460.3 L625.6,2461.0 L628.3,2464.7 L623.7,2466.8ZM672.0,2482.6 L670.9,2478.0 L674.7,2473.8 L680.8,2476.0 L681.9,2482.6 L676.3,2486.5ZM687.5,2463.2 L681.7,2469.4 L674.4,2471.8 L670.6,2470.2 L671.3,2465.6 L676.8,2460.2 L685.1,2455.0 L690.4,2456.8ZM651.2,2459.1 L650.7,2456.7 L653.4,2453.8 L655.3,2451.7 L657.0,2451.7 L657.8,2453.1 L656.0,2455.6 L653.9,2458.2ZM480.2,2273.5 L480.5,2279.9 L471.9,2286.0 L466.1,2286.5 L470.4,2277.7ZM487.2,2379.3 L490.9,2381.5 L495.5,2384.9 L491.6,2389.5 L486.3,2389.9 L480.9,2387.3 L483.5,2382.1ZM626.7,2460.7 L635.0,2458.5 L639.4,2462.0 L629.6,2468.7 L621.5,2475.3 L616.7,2472.7 L614.4,2469.6 L620.2,2464.5ZM446.1,2194.7 L429.2,2197.3 L433.4,2188.1 L445.3,2179.6 L457.4,2180.3 L457.3,2186.5ZM563.2,2439.3 L564.7,2436.5 L565.5,2434.6 L567.9,2432.9 L570.1,2433.2 L570.8,2435.4 L568.3,2437.8 L566.2,2438.3ZM458.9,2242.0 L462.2,2242.7 L462.4,2246.3 L458.7,2247.9 L454.9,2248.0 L454.1,2244.9 L454.8,2240.8ZM630.3,2442.3 L632.0,2443.6 L632.9,2445.5 L629.4,2446.3 L626.3,2444.9 L623.8,2443.6 L623.3,2441.6 L627.1,2440.8ZM586.5,2453.7 L584.4,2450.2 L586.1,2446.5 L591.5,2445.1 L593.7,2449.0 L594.4,2452.1 L590.9,2453.3ZM439.0,2257.1 L444.4,2250.4 L455.5,2251.1 L458.1,2257.9 L448.3,2261.8 L438.8,2263.3ZM548.1,2413.6 L560.0,2417.6 L561.4,2424.7 L542.6,2428.6 L535.3,2422.2ZM423.5,2173.1 L429.3,2166.7 L439.8,2161.7 L439.3,2167.3 L436.5,2171.6 L429.9,2177.4 L425.2,2176.2ZM646.7,2475.7 L648.8,2471.8 L655.6,2473.0 L661.4,2475.5 L659.1,2479.1 L652.1,2479.2ZM487.7,2196.0 L472.7,2204.6 L467.3,2199.5 L475.6,2189.9 L487.1,2179.8 L488.4,2187.2ZM451.0,2310.9 L454.4,2309.7 L455.6,2311.1 L456.1,2313.1 L452.4,2315.6 L448.9,2315.3 L447.8,2313.3ZM476.3,2209.9 L479.3,2209.4 L481.6,2210.5 L483.9,2211.7 L482.3,2212.9 L480.7,2213.5 L477.8,2213.7 L477.6,2211.9ZM614.9,2470.3 L620.0,2475.0 L621.4,2480.9 L613.6,2481.1 L606.3,2480.2 L607.6,2473.9ZM482.4,2027.9 L485.8,2024.7 L491.2,2024.1 L497.3,2024.4 L495.5,2028.6 L488.8,2031.0 L484.8,2029.8ZM548.4,2394.0 L544.3,2392.9 L548.1,2389.0 L556.7,2385.2 L561.9,2387.7 L556.0,2393.4ZM445.3,2333.7 L441.5,2332.0 L440.9,2327.8 L444.5,2326.1 L448.1,2325.8 L449.3,2329.1 L449.0,2332.6ZM580.9,2460.0 L584.2,2457.2 L584.9,2459.5 L585.1,2461.9 L582.3,2463.2 L580.3,2463.0ZM638.4,2452.9 L635.6,2451.2 L640.3,2446.9 L644.1,2445.4 L648.3,2444.1 L647.0,2447.8 L644.9,2450.9 L641.0,2453.8ZM487.7,2341.7 L493.1,2345.0 L498.6,2347.5 L496.2,2352.4 L487.3,2355.4 L479.2,2353.2 L477.6,2349.0 L478.7,2344.2ZM465.3,2376.8 L462.5,2378.6 L457.6,2378.8 L454.3,2375.4 L455.6,2371.8 L459.4,2369.7 L463.2,2372.3 L465.3,2374.2ZM670.3,2461.8 L672.7,2460.0 L677.2,2459.5 L680.5,2462.0 L676.4,2463.2ZM489.3,2044.5 L497.4,2039.2 L498.0,2045.5 L489.3,2053.0 L483.5,2052.7ZM665.4,2466.0 L670.4,2473.0 L658.3,2477.4 L645.2,2473.1 L653.6,2467.3ZM490.1,2057.1 L492.7,2053.9 L497.3,2051.8 L497.5,2055.0 L497.9,2057.8 L494.0,2061.5 L489.7,2062.5 L486.4,2061.3ZM468.5,2382.5 L460.7,2382.1 L456.8,2379.0 L460.2,2375.4 L466.1,2376.9ZM462.6,2301.4 L463.0,2305.4 L459.9,2307.9 L456.6,2306.9 L456.2,2303.5 L458.8,2300.6ZM541.0,2358.0 L545.0,2363.5 L528.5,2367.6 L521.7,2361.7 L529.4,2354.6ZM502.5,2136.7 L498.3,2136.6 L495.6,2134.3 L498.3,2128.9 L504.7,2128.9 L507.8,2132.6ZM569.5,2415.6 L563.6,2416.4 L557.2,2413.0 L561.7,2405.2 L570.6,2404.6 L578.2,2405.8 L577.8,2413.1ZM637.0,2444.3 L630.3,2449.9 L622.4,2451.6 L620.9,2447.2 L631.0,2442.7ZM503.9,2059.4 L504.2,2061.9 L500.5,2063.1 L496.4,2064.4 L492.3,2062.9 L492.5,2060.1 L496.2,2058.5 L499.8,2058.8ZM653.2,2459.1 L662.0,2459.0 L663.9,2462.6 L661.5,2467.3 L651.6,2466.0 L647.9,2462.6ZM660.7,2465.5 L666.7,2460.2 L672.3,2460.4 L671.3,2465.9 L662.7,2469.1ZM496.1,2085.0 L497.0,2090.1 L490.4,2094.4 L482.0,2090.6 L472.5,2086.0 L478.7,2079.9 L490.7,2079.1ZM443.8,2284.2 L445.6,2286.3 L444.3,2288.3 L442.1,2288.9 L439.9,2289.0 L436.8,2287.9 L438.9,2286.0 L440.4,2284.1ZM486.4,2352.2 L486.7,2349.1 L489.5,2344.4 L492.5,2344.7 L493.3,2347.0 L489.9,2351.1ZM658.5,2448.6 L653.0,2453.7 L648.7,2453.1 L648.4,2450.0 L653.5,2444.2 L658.4,2444.9ZM465.9,2237.2 L469.5,2240.1 L462.8,2241.0 L458.5,2239.7 L457.4,2237.7 L460.8,2235.9ZM442.9,2232.2 L439.4,2233.7 L434.4,2234.3 L433.2,2231.5 L434.1,2229.0 L437.9,2226.8 L442.0,2228.0 L443.8,2229.9ZM457.6,2228.6 L448.4,2234.4 L438.1,2228.8 L443.5,2219.8 L453.4,2222.6ZM649.7,2467.8 L649.8,2464.3 L653.0,2460.2 L656.9,2461.1 L655.5,2465.1 L653.0,2469.0ZM476.2,2386.3 L473.7,2389.4 L467.9,2391.3 L463.4,2390.2 L464.7,2386.3 L471.1,2383.4 L476.7,2383.1ZM494.6,2042.4 L503.2,2042.2 L508.5,2047.4 L503.7,2052.3 L496.5,2054.8 L494.6,2048.8ZM458.9,2164.6 L460.5,2153.0 L476.6,2144.4 L484.0,2146.8 L475.7,2156.3ZM472.5,2045.2 L474.0,2047.5 L470.9,2049.6 L467.4,2050.8 L465.9,2048.4 L467.6,2046.2 L469.9,2043.9ZM503.0,2139.9 L504.6,2143.3 L499.8,2151.0 L493.3,2153.0 L491.7,2148.2 L498.2,2141.4ZM573.3,2463.9 L571.2,2460.1 L577.5,2455.4 L584.4,2452.3 L592.7,2451.7 L593.6,2457.7 L584.2,2462.3 L577.9,2465.3ZM526.5,2435.6 L533.8,2430.2 L541.4,2430.7 L539.3,2437.4 L531.2,2438.5ZM653.6,2463.7 L652.4,2467.8 L649.1,2471.0 L647.3,2470.3 L649.0,2466.7ZM453.9,2197.2 L456.6,2190.2 L466.7,2186.3 L472.4,2190.8 L464.6,2197.0ZM462.1,2360.3 L467.2,2359.1 L471.4,2362.4 L468.6,2364.9 L465.8,2367.4 L461.5,2365.0 L459.5,2362.4ZM630.8,2464.2 L635.4,2462.1 L640.5,2460.4 L643.0,2464.5 L640.6,2467.3 L636.1,2466.6ZM535.0,2424.6 L539.9,2419.3 L545.7,2416.3 L547.5,2419.0 L546.9,2423.1 L542.6,2429.2 L536.0,2432.3 L534.6,2428.9ZM502.7,2345.6 L496.5,2344.4 L497.5,2338.9 L504.9,2332.4 L512.1,2331.8 L512.9,2335.3 L511.6,2340.3ZM452.2,2185.1 L458.3,2182.0 L460.9,2182.9 L460.0,2187.1 L453.3,2191.1 L448.9,2190.9ZM612.3,2451.8 L615.7,2448.6 L620.5,2450.4 L616.8,2453.6 L612.6,2454.3ZM462.8,2115.2 L455.0,2117.6 L448.9,2116.9 L446.1,2111.2 L451.5,2107.6 L458.2,2108.8ZM441.2,2299.9 L438.1,2302.0 L438.5,2298.8 L440.4,2295.7 L442.4,2297.5ZM434.9,2310.7 L442.7,2310.6 L443.2,2315.2 L433.4,2319.0 L426.4,2317.6ZM475.6,2046.0 L484.1,2041.1 L486.8,2045.0 L481.2,2051.6 L475.3,2056.6 L467.2,2060.6 L467.4,2055.4 L467.2,2050.3ZM454.0,2152.9 L456.9,2153.2 L459.3,2155.8 L457.8,2159.3 L454.0,2160.1 L450.3,2158.3 L451.8,2154.7ZM468.1,2196.8 L464.9,2201.1 L459.4,2202.8 L456.6,2200.3 L460.5,2196.4 L465.3,2194.7ZM475.9,2193.0 L474.1,2198.1 L469.0,2201.2 L466.1,2200.5 L465.8,2198.0 L467.5,2194.2 L472.0,2192.2ZM466.3,2229.1 L462.0,2232.1 L456.7,2230.7 L459.1,2225.8 L463.9,2224.8ZM452.9,2293.3 L459.6,2290.1 L469.5,2286.6 L472.6,2291.4 L476.9,2296.4 L464.3,2297.4 L452.1,2298.8ZM652.7,2466.1 L651.1,2463.8 L652.8,2462.3 L655.1,2462.4 L654.8,2464.5ZM650.5,2485.2 L654.0,2480.1 L660.2,2477.4 L662.8,2479.1 L661.1,2482.9 L654.8,2486.9ZM529.5,2403.1 L532.1,2408.2 L529.2,2414.4 L522.9,2415.5 L516.4,2415.6 L515.9,2409.6 L519.4,2405.4 L523.8,2402.5ZM553.7,2393.0 L554.3,2395.7 L549.8,2395.7 L546.0,2395.1 L545.3,2392.3 L549.9,2391.3ZM670.2,2466.6 L672.9,2463.0 L676.6,2461.7 L679.1,2463.6 L675.0,2468.5 L671.5,2470.3 L669.5,2469.6ZM685.6,2477.9 L685.4,2480.6 L683.1,2483.9 L679.5,2481.9 L676.0,2480.6 L677.9,2477.2 L682.7,2475.7ZM512.7,2332.2 L501.7,2337.9 L487.0,2338.5 L487.5,2331.5 L500.9,2326.5ZM479.7,2102.7 L479.6,2098.4 L485.3,2094.8 L494.5,2098.2 L491.0,2102.6ZM487.3,2392.6 L489.5,2397.7 L483.7,2403.8 L475.4,2405.5 L471.3,2403.3 L470.0,2400.2 L470.4,2394.3 L480.1,2390.6ZM486.5,2029.8 L491.6,2027.9 L496.1,2030.4 L493.5,2034.9 L490.9,2038.6 L485.3,2040.1 L482.9,2036.5 L481.4,2032.4ZM523.0,2418.0 L537.1,2416.1 L542.7,2422.2 L537.7,2429.4 L521.2,2423.3ZM463.3,2138.6 L475.5,2135.8 L480.7,2139.1 L474.9,2149.0 L464.1,2145.8ZM455.7,2189.3 L440.6,2188.4 L442.3,2180.1 L458.8,2180.1 L464.9,2185.4ZM565.5,2382.2 L564.0,2384.5 L559.6,2383.2 L554.7,2382.2 L555.7,2379.5 L559.6,2378.8 L564.5,2379.3ZM621.0,2471.1 L621.0,2472.8 L618.7,2473.9 L615.5,2472.1 L617.6,2469.8ZM667.0,2471.4 L654.3,2473.2 L648.6,2467.7 L652.5,2462.5 L663.8,2461.0 L672.2,2465.6ZM432.3,2292.6 L432.2,2294.1 L431.5,2295.7 L429.5,2295.1 L428.6,2294.0 L428.2,2292.3 L430.5,2291.3ZM513.0,2429.0 L502.6,2426.9 L507.4,2423.0 L515.6,2423.5 L520.7,2426.0 L522.9,2430.4ZM500.2,2406.4 L497.8,2409.4 L492.8,2409.6 L489.2,2407.2 L491.3,2403.2 L497.5,2403.5ZM455.9,2107.1 L457.0,2104.6 L460.0,2104.4 L461.0,2106.7 L459.4,2108.8 L457.1,2108.7ZM459.0,2322.4 L454.5,2323.4 L449.9,2321.4 L454.8,2316.8 L461.3,2314.5 L464.9,2318.3ZM514.8,2375.2 L505.4,2384.6 L490.1,2385.9 L489.8,2377.0 L507.5,2370.7ZM493.9,2109.2 L494.7,2117.2 L486.5,2121.0 L480.7,2116.6 L485.6,2110.5ZM652.3,2468.9 L649.2,2464.9 L650.3,2460.7 L655.4,2460.7 L657.9,2463.5 L657.3,2467.1ZM489.7,2036.8 L495.7,2031.0 L504.5,2029.1 L504.6,2035.0 L501.4,2040.5 L494.2,2043.8 L489.1,2042.0ZM633.9,2462.8 L631.7,2460.6 L631.5,2458.4 L634.6,2456.4 L638.4,2458.6 L640.4,2460.8 L638.0,2462.5ZM437.5,2272.6 L437.7,2281.0 L421.6,2277.6 L419.6,2270.7 L429.4,2265.5ZM597.6,2457.7 L599.4,2454.4 L602.3,2452.6 L605.1,2452.6 L602.0,2457.7 L598.4,2459.1ZM450.6,2112.2 L446.3,2109.6 L451.1,2104.1 L463.4,2097.3 L471.1,2100.4 L462.4,2108.7ZM449.0,2113.8 L452.9,2110.7 L457.7,2110.4 L458.5,2112.8 L456.6,2115.9 L452.3,2116.1 L449.0,2116.2ZM505.2,2037.8 L509.7,2040.3 L505.4,2045.4 L493.0,2049.1 L492.2,2044.1 L493.6,2038.4ZM561.1,2434.7 L561.0,2433.0 L562.3,2430.9 L566.5,2430.0 L569.0,2431.2 L567.5,2433.3 L564.4,2434.3ZM450.3,2226.7 L443.4,2237.2 L430.3,2244.5 L428.7,2237.4 L436.9,2226.6ZM433.3,2315.5 L436.6,2304.8 L446.7,2294.1 L451.7,2298.7 L444.4,2311.7ZM505.8,2423.8 L501.1,2429.8 L494.8,2432.6 L493.6,2427.5 L495.4,2421.5 L502.0,2419.8ZM495.7,2081.3 L491.2,2085.1 L484.1,2083.2 L482.9,2077.9 L488.8,2073.5 L496.8,2075.9ZM484.2,2392.1 L476.8,2391.0 L485.7,2385.4 L494.9,2380.2 L498.3,2383.5 L503.7,2386.7 L491.8,2392.3ZM528.3,2426.8 L529.9,2429.8 L530.0,2432.5 L528.4,2437.0 L522.0,2438.2 L520.4,2434.1 L518.9,2430.6 L522.6,2426.3ZM494.1,2062.1 L492.4,2069.1 L479.3,2069.8 L472.6,2066.6 L470.2,2060.2 L483.6,2059.9ZM597.8,2465.1 L587.9,2465.1 L588.9,2460.7 L597.8,2458.1 L604.3,2460.0ZM420.4,2276.7 L430.3,2267.7 L441.5,2265.8 L442.3,2273.7 L431.1,2281.8 L421.0,2288.7 L416.2,2284.9ZM425.6,2254.6 L424.5,2253.1 L427.4,2250.4 L432.2,2250.4 L434.9,2251.1 L433.7,2253.0 L431.5,2254.9 L427.8,2255.2ZM666.0,2471.9 L663.5,2471.2 L664.9,2468.4 L668.2,2465.8 L672.7,2464.9 L673.2,2468.0 L670.3,2472.4ZM499.7,2400.4 L508.1,2393.7 L522.0,2394.3 L532.9,2398.8 L517.3,2404.3 L499.9,2408.0ZM461.4,2045.8 L466.0,2042.7 L473.5,2042.1 L476.0,2045.4 L472.5,2048.6 L463.7,2049.9ZM504.9,2393.9 L504.7,2400.5 L492.3,2404.8 L488.8,2396.3 L498.0,2388.4ZM489.2,2017.5 L483.4,2022.3 L478.6,2023.5 L475.5,2022.0 L481.7,2017.2 L487.5,2014.7ZM511.4,2066.6 L525.6,2069.2 L509.2,2078.1 L497.5,2079.4 L497.8,2073.7ZM446.0,2262.5 L451.8,2262.0 L454.2,2263.5 L453.2,2266.5 L449.4,2269.0 L444.1,2270.5 L442.0,2267.5ZM475.3,2118.1 L471.4,2118.5 L472.4,2113.8 L474.7,2107.8 L479.6,2106.9 L484.8,2105.8 L482.2,2112.1 L478.9,2116.2ZM448.0,2300.0 L440.5,2298.2 L440.3,2293.5 L450.3,2293.4 L452.4,2297.2ZM470.7,2053.4 L467.5,2050.6 L471.5,2048.0 L475.9,2049.5 L474.1,2053.2ZM475.2,2263.7 L475.6,2265.9 L473.7,2268.3 L469.9,2269.9 L466.5,2269.6 L467.0,2267.4 L468.9,2265.9 L471.1,2265.0ZM477.3,2318.0 L473.1,2319.0 L468.3,2321.0 L469.8,2317.9 L470.5,2316.0 L473.6,2314.0 L476.5,2314.2 L477.2,2315.7ZM552.4,2370.1 L554.6,2365.6 L558.0,2366.6 L559.4,2368.3 L558.4,2371.1 L555.8,2373.4 L553.1,2373.0ZM495.2,2378.8 L485.8,2380.1 L476.4,2380.4 L478.7,2374.0 L488.2,2369.8 L494.6,2370.5 L498.9,2372.9ZM495.1,2093.5 L503.6,2092.9 L502.5,2100.3 L492.2,2111.9 L489.6,2104.9ZM499.6,2126.7 L496.7,2130.7 L492.4,2131.1 L491.5,2128.1 L492.3,2123.3 L498.0,2120.9 L500.4,2123.3ZM510.9,2097.6 L510.8,2100.5 L508.1,2101.0 L505.5,2100.4 L505.9,2097.6 L508.4,2096.1ZM509.1,2342.7 L504.7,2340.3 L505.9,2335.4 L513.2,2332.6 L517.5,2337.6 L515.5,2342.9ZM455.9,2077.4 L454.4,2082.5 L449.8,2085.3 L446.2,2083.9 L446.6,2078.8 L452.1,2074.8ZM466.7,2329.9 L470.5,2332.3 L466.3,2335.3 L460.8,2334.3 L461.0,2330.9ZM565.5,2411.1 L564.3,2413.6 L560.4,2413.6 L556.7,2412.5 L558.8,2409.9 L563.1,2409.1ZM453.9,2266.6 L461.3,2264.4 L463.4,2270.5 L458.1,2276.2 L451.5,2277.6 L447.8,2274.5 L447.8,2269.1ZM561.6,2390.3 L555.7,2391.8 L553.1,2387.7 L554.4,2383.4 L556.0,2378.1 L561.1,2378.8 L563.2,2381.6 L563.8,2385.2ZM485.5,2054.6 L484.6,2052.0 L487.1,2049.7 L490.4,2049.9 L490.7,2052.6 L489.5,2054.4 L487.4,2056.2ZM519.3,2430.6 L523.5,2425.8 L527.9,2426.5 L525.8,2431.4 L521.2,2434.6 L515.5,2436.0ZM635.5,2471.6 L627.2,2473.9 L620.5,2475.2 L619.5,2471.6 L622.3,2467.5 L630.6,2463.4 L637.1,2466.0ZM485.9,2024.7 L480.8,2027.0 L478.9,2025.6 L475.8,2024.2 L480.4,2019.1 L485.8,2017.7 L491.0,2016.2 L489.6,2020.4ZM668.9,2482.3 L672.5,2478.7 L676.0,2481.5 L678.6,2485.0 L673.6,2488.3 L668.6,2486.4ZM566.9,2405.1 L564.6,2401.9 L565.2,2396.5 L570.6,2392.8 L575.8,2394.3 L575.4,2400.3 L572.2,2406.9ZM488.4,2311.2 L486.7,2312.9 L483.5,2313.9 L481.9,2312.0 L482.3,2309.8 L484.9,2308.5 L487.9,2307.5 L489.7,2309.2ZM560.9,2387.9 L557.7,2391.4 L552.2,2396.4 L551.9,2392.1 L554.2,2388.2 L558.3,2382.0 L560.9,2384.7ZM453.8,2326.8 L458.5,2328.6 L455.1,2331.0 L451.4,2331.9 L445.8,2330.5 L448.3,2327.0ZM514.7,2391.0 L513.6,2386.6 L518.4,2385.0 L522.5,2387.0 L522.0,2392.0 L517.3,2394.1ZM601.5,2459.3 L604.7,2458.4 L609.4,2457.7 L610.0,2462.1 L607.9,2466.4 L603.2,2467.9 L599.6,2465.9 L598.3,2462.2ZM414.8,2200.5 L420.7,2196.4 L425.6,2192.3 L435.6,2194.7 L449.6,2196.0 L448.9,2202.0 L436.5,2205.0 L425.1,2202.9ZM603.1,2454.1 L592.7,2465.0 L576.6,2468.3 L572.9,2461.3 L589.4,2454.6ZM621.2,2469.4 L620.2,2467.9 L619.1,2466.6 L621.9,2462.9 L624.4,2462.2 L626.3,2462.6 L623.8,2466.0ZM492.4,2148.3 L492.1,2144.7 L494.3,2140.3 L499.1,2141.9 L500.7,2146.0 L499.4,2150.1 L495.0,2152.2ZM451.8,2234.4 L458.8,2230.8 L458.1,2235.3 L453.7,2239.7 L449.3,2243.4 L446.1,2243.2 L445.1,2241.4 L446.5,2237.7ZM574.7,2435.8 L569.3,2438.1 L564.2,2438.7 L559.5,2438.2 L556.2,2435.9 L559.8,2433.1 L566.0,2432.5 L571.3,2433.3ZM506.9,2116.8 L512.3,2118.5 L509.2,2122.3 L505.5,2124.1 L500.6,2122.4 L501.9,2118.2ZM453.6,2231.7 L456.5,2232.7 L459.1,2233.3 L456.9,2236.7 L452.2,2240.5 L447.7,2241.0 L448.3,2238.0 L448.7,2235.3ZM511.6,2093.8 L512.3,2091.6 L515.2,2089.7 L521.3,2090.3 L523.6,2093.2 L523.6,2095.6 L521.0,2098.6 L514.4,2096.4ZM465.1,2098.1 L457.7,2103.9 L453.3,2102.4 L450.1,2098.1 L459.2,2090.8 L464.9,2092.4ZM626.9,2454.4 L623.4,2455.5 L620.3,2456.1 L619.7,2454.3 L622.6,2451.7 L625.9,2449.8 L627.4,2450.7 L629.3,2451.5Z" fill="none" stroke="#000" stroke-width="1.9" stroke-linejoin="round"/>
<path d="M905.8,316.0 L907.8,311.8 L913.3,312.5 L914.4,316.0 L910.6,320.3ZM914.2,314.7 L916.8,314.2 L917.4,316.9 L915.7,317.9 L913.4,316.9ZM923.8,313.8 L922.4,316.9 L918.1,314.9 L919.5,311.3 L922.7,311.7ZM912.0,301.1 L912.8,299.0 L914.3,298.0 L916.1,299.5 L914.2,301.4ZM921.4,305.4 L920.1,307.1 L918.9,306.0 L918.6,303.9 L920.3,303.6ZM927.4,323.5 L924.7,325.4 L922.4,321.9 L924.9,320.1 L927.7,320.5ZM913.4,301.1 L914.1,295.8 L918.7,298.2 L917.7,302.0ZM906.4,317.4 L907.5,316.1 L909.3,315.1 L909.8,317.0 L909.6,319.1 L907.8,319.3ZM924.8,317.9 L920.7,318.4 L920.8,314.4 L924.4,314.5ZM921.9,328.5 L924.1,326.9 L925.4,328.9 L924.8,330.7 L923.3,330.3ZM909.4,316.7 L907.2,317.0 L906.0,315.0 L908.2,313.7 L909.8,314.9ZM898.8,314.1 L900.1,316.1 L899.2,318.4 L897.0,316.6ZM918.6,327.6 L918.2,325.9 L921.1,325.6 L922.9,326.7 L921.2,328.4 L919.6,328.7ZM904.4,308.0 L906.8,308.3 L907.6,310.5 L905.8,311.6 L903.2,311.5 L902.4,309.7ZM910.8,324.8 L914.5,325.3 L912.7,329.3 L909.7,327.7ZM906.0,307.9 L905.8,312.6 L900.9,313.8 L900.4,307.5ZM922.1,305.8 L923.8,303.7 L926.1,303.8 L926.8,306.3 L924.4,307.8ZM903.2,314.9 L906.1,314.2 L909.0,316.3 L907.8,319.0 L904.1,318.3ZM913.8,309.5 L916.5,307.4 L918.2,310.5 L918.1,313.7 L914.9,313.6 L911.8,311.7ZM920.4,316.5 L922.7,308.6 L928.4,311.1 L927.1,316.7ZM924.6,306.0 L926.8,308.3 L925.9,311.5 L922.5,312.2 L921.1,309.7 L920.6,305.8ZM914.3,321.6 L915.2,323.2 L914.1,325.0 L912.1,325.2 L911.5,322.5 L912.4,321.0ZM921.6,299.5 L921.7,301.7 L920.3,302.9 L918.3,301.8 L918.3,299.8 L919.9,299.4ZM910.4,328.7 L910.8,326.0 L911.8,324.7 L914.1,325.7 L914.5,327.5 L912.9,328.2ZM926.4,314.9 L924.3,316.0 L921.9,314.4 L923.4,312.1 L925.8,311.3 L928.3,312.6ZM922.1,313.0 L924.6,312.8 L925.1,314.0 L924.2,315.3 L922.4,314.8ZM899.5,319.4 L901.5,319.7 L902.8,320.3 L902.3,322.1 L900.4,322.6 L899.6,321.2ZM912.1,314.9 L913.7,313.7 L914.6,315.4 L914.2,316.9 L912.6,317.2 L912.0,316.4ZM912.1,330.4 L909.7,330.2 L906.9,329.0 L907.4,326.5 L911.0,324.6 L913.1,327.1ZM903.4,296.2 L905.0,298.5 L903.2,299.7 L902.0,298.3ZM914.7,316.1 L915.6,314.4 L917.3,313.8 L918.0,315.2 L918.4,316.7 L916.4,317.8ZM909.8,301.4 L911.6,302.0 L911.1,304.4 L908.8,304.0 L907.4,303.1 L907.8,301.5ZM902.4,322.7 L900.4,322.8 L899.8,321.0 L901.1,319.0 L902.7,320.7ZM923.5,334.1 L919.4,330.2 L922.4,325.6 L926.5,329.1ZM919.8,320.4 L917.1,322.9 L914.5,322.0 L912.8,319.5 L914.9,315.5 L918.3,317.0ZM920.7,316.8 L921.4,311.7 L925.7,309.8 L928.7,313.3 L929.2,318.1 L924.3,319.3ZM910.4,307.8 L909.4,304.8 L912.1,303.5 L913.5,305.2 L912.7,307.3ZM915.8,312.0 L916.0,307.4 L918.8,304.7 L921.7,306.4 L921.6,310.4 L919.7,314.4ZM903.8,330.0 L901.7,330.0 L900.0,329.1 L900.5,327.1 L902.4,326.9 L904.2,328.0ZM919.4,311.0 L924.8,312.0 L922.9,316.9 L918.0,318.2 L915.4,313.1ZM913.5,321.6 L915.8,319.5 L917.0,321.6 L915.7,322.9ZM905.8,309.6 L902.6,308.3 L901.1,305.6 L902.8,301.6 L906.3,302.4 L908.7,305.3ZM920.7,307.4 L924.4,311.3 L920.5,315.2 L915.6,312.9 L917.0,309.5ZM920.6,298.0 L922.3,297.6 L923.7,297.4 L924.1,299.5 L922.7,300.6 L921.3,299.9ZM903.1,320.6 L901.4,317.2 L905.0,316.2 L907.0,319.3Z" fill="none" stroke="#000" stroke-width="1.6"/>
<path d="M663.0,2362.0 L640.0,2368.0 L620.0,2374.0 L600.0,2380.0 L590.0,2390.0 L582.0,2410.0 L592.0,2412.0 L600.0,2396.0 L622.0,2384.0 L645.0,2378.0 L668.0,2374.0Z" fill="#fff" stroke="#000" stroke-width="2"/>
<path d="M600.0,2394.0 L632.0,2396.0 L618.0,2407.0 L602.0,2402.0Z" fill="#fff" stroke="#000" stroke-width="2"/>
<path d="M533.0,2359.0 L563.0,2370.0 L545.0,2375.0 L530.0,2366.0Z" fill="#fff" stroke="#000" stroke-width="2"/>
</g>
<g transform="translate(1620,2270) scale(0.11521)">
<path d="M180,760 C170,1000 300,1200 560,1300 C760,1370 980,1330 1150,1240 C1380,1100 1520,900 1540,530 L1610,525 L1400,315 L1180,525 L1250,530 C1240,800 1150,1000 960,1100 C800,1180 600,1180 420,1080 C280,1000 210,900 200,800 Z" fill="#0072bb"/>
<circle cx="860" cy="975" r="146" fill="#f39200"/>
<path d="M200,790 C160,480 380,205 650,205 C900,205 1015,380 1015,610 L1085,613 L860,812 L672,612 L745,612 C750,490 660,425 540,425 C380,425 240,560 205,800" fill="none" stroke="#0072bb" stroke-width="14"/>
<text x="268" y="872" font-size="205" font-weight="bold" font-style="italic" style="font-family:'Liberation Sans',sans-serif" fill="#1a1a1a" textLength="445" lengthAdjust="spacingAndGlyphs">INPE</text>
</g>
<rect x="177.5" y="177.5" width="1674" height="2310" fill="none" stroke="#000" stroke-width="3"/>
<text x="1003.5" y="80.4" font-size="65" text-anchor="middle" textLength="916" lengthAdjust="spacingAndGlyphs">SAMeT - Temperatura Mínima</text>
<text x="1023.8" y="152.7" font-size="65" text-anchor="middle" textLength="725" lengthAdjust="spacingAndGlyphs">Válida para 03/10/2003</text>
<text x="153" y="294.6" font-size="54" text-anchor="end">10°N</text>
<text x="153" y="629.2" font-size="54" text-anchor="end">0°</text>
<text x="153" y="963.8" font-size="54" text-anchor="end">10°S</text>
<text x="153" y="1298.4" font-size="54" text-anchor="end">20°S</text>
<text x="153" y="1633.0" font-size="54" text-anchor="end">30°S</text>
<text x="153" y="1967.6" font-size="54" text-anchor="end">40°S</text>
<text x="153" y="2302.2" font-size="54" text-anchor="end">50°S</text>
<text x="277.9" y="2547" font-size="54" text-anchor="middle">80°W</text>
<text x="612.7" y="2547" font-size="54" text-anchor="middle">70°W</text>
<text x="947.5" y="2547" font-size="54" text-anchor="middle">60°W</text>
<text x="1282.3" y="2547" font-size="54" text-anchor="middle">50°W</text>
<text x="1617.1" y="2547" font-size="54" text-anchor="middle">40°W</text>
<g><rect x="1894" y="2360.8" width="52" height="21.8" fill="#063365"/><rect x="1894" y="2339.6" width="52" height="21.8" fill="#09386c"/><rect x="1894" y="2318.4" width="52" height="21.8" fill="#0c3e74"/><rect x="1894" y="2297.2" width="52" height="21.8" fill="#0f437b"/><rect x="1894" y="2276.0" width="52" height="21.8" fill="#124883"/><rect x="1894" y="2254.8" width="52" height="21.8" fill="#144e8a"/><rect x="1894" y="2233.6" width="52" height="21.8" fill="#175392"/><rect x="1894" y="2212.4" width="52" height="21.8" fill="#1a5899"/><rect x="1894" y="2191.2" width="52" height="21.8" fill="#1d5ea1"/><rect x="1894" y="2170.0" width="52" height="21.8" fill="#2063a8"/><rect x="1894" y="2148.8" width="52" height="21.8" fill="#2368ad"/><rect x="1894" y="2127.6" width="52" height="21.8" fill="#266daf"/><rect x="1894" y="2106.4" width="52" height="21.8" fill="#2a71b2"/><rect x="1894" y="2085.2" width="52" height="21.8" fill="#2d76b4"/><rect x="1894" y="2064.0" width="52" height="21.8" fill="#307ab6"/><rect x="1894" y="2042.8" width="52" height="21.8" fill="#347fb9"/><rect x="1894" y="2021.6" width="52" height="21.8" fill="#3783bb"/><rect x="1894" y="2000.4" width="52" height="21.8" fill="#3a88bd"/><rect x="1894" y="1979.2" width="52" height="21.8" fill="#3e8cc0"/><rect x="1894" y="1958.0" width="52" height="21.8" fill="#4191c2"/><rect x="1894" y="1936.8" width="52" height="21.8" fill="#4796c4"/><rect x="1894" y="1915.6" width="52" height="21.8" fill="#4f9ac7"/><rect x="1894" y="1894.4" width="52" height="21.8" fill="#57a0ca"/><rect x="1894" y="1873.2" width="52" height="21.8" fill="#5fa4cc"/><rect x="1894" y="1852.0" width="52" height="21.8" fill="#67aacf"/><rect x="1894" y="1830.8" width="52" height="21.8" fill="#6eaed2"/><rect x="1894" y="1809.6" width="52" height="21.8" fill="#76b4d5"/><rect x="1894" y="1788.4" width="52" height="21.8" fill="#7eb8d7"/><rect x="1894" y="1767.2" width="52" height="21.8" fill="#86beda"/><rect x="1894" y="1746.0" width="52" height="21.8" fill="#8ec2dd"/><rect x="1894" y="1724.8" width="52" height="21.8" fill="#95c7df"/><rect x="1894" y="1703.6" width="52" height="21.8" fill="#9bcae1"/><rect x="1894" y="1682.4" width="52" height="21.8" fill="#a2cde2"/><rect x="1894" y="1661.2" width="52" height="21.8" fill="#a8d0e4"/><rect x="1894" y="1640.0" width="52" height="21.8" fill="#aed3e6"/><rect x="1894" y="1618.8" width="52" height="21.8" fill="#b5d7e8"/><rect x="1894" y="1597.6" width="52" height="21.8" fill="#bbdaea"/><rect x="1894" y="1576.4" width="52" height="21.8" fill="#c1ddec"/><rect x="1894" y="1555.2" width="52" height="21.8" fill="#c8e0ed"/><rect x="1894" y="1534.0" width="52" height="21.8" fill="#cee3ef"/><rect x="1894" y="1512.8" width="52" height="21.8" fill="#d3e6f0"/><rect x="1894" y="1491.6" width="52" height="21.8" fill="#d7e8f1"/><rect x="1894" y="1470.4" width="52" height="21.8" fill="#daeaf2"/><rect x="1894" y="1449.2" width="52" height="21.8" fill="#deebf2"/><rect x="1894" y="1428.0" width="52" height="21.8" fill="#e2edf3"/><rect x="1894" y="1406.8" width="52" height="21.8" fill="#e6eff4"/><rect x="1894" y="1385.6" width="52" height="21.8" fill="#eaf1f5"/><rect x="1894" y="1364.4" width="52" height="21.8" fill="#eef2f5"/><rect x="1894" y="1343.2" width="52" height="21.8" fill="#f1f4f6"/><rect x="1894" y="1322.0" width="52" height="21.8" fill="#f5f6f7"/><rect x="1894" y="1300.8" width="52" height="21.8" fill="#f7f6f5"/><rect x="1894" y="1279.6" width="52" height="21.8" fill="#f8f3f0"/><rect x="1894" y="1258.4" width="52" height="21.8" fill="#f8f0eb"/><rect x="1894" y="1237.2" width="52" height="21.8" fill="#f9ede6"/><rect x="1894" y="1216.0" width="52" height="21.8" fill="#faeae1"/><rect x="1894" y="1194.8" width="52" height="21.8" fill="#fae8dd"/><rect x="1894" y="1173.6" width="52" height="21.8" fill="#fbe5d8"/><rect x="1894" y="1152.4" width="52" height="21.8" fill="#fce2d3"/><rect x="1894" y="1131.2" width="52" height="21.8" fill="#fcdfce"/><rect x="1894" y="1110.0" width="52" height="21.8" fill="#fddcc9"/><rect x="1894" y="1088.8" width="52" height="21.8" fill="#fdd8c4"/><rect x="1894" y="1067.6" width="52" height="21.8" fill="#fcd3bd"/><rect x="1894" y="1046.4" width="52" height="21.8" fill="#fbceb6"/><rect x="1894" y="1025.2" width="52" height="21.8" fill="#fac8af"/><rect x="1894" y="1004.0" width="52" height="21.8" fill="#f9c3a8"/><rect x="1894" y="982.8" width="52" height="21.8" fill="#f8bda1"/><rect x="1894" y="961.6" width="52" height="21.8" fill="#f7b89a"/><rect x="1894" y="940.4" width="52" height="21.8" fill="#f6b293"/><rect x="1894" y="919.2" width="52" height="21.8" fill="#f5ad8c"/><rect x="1894" y="898.0" width="52" height="21.8" fill="#f4a885"/><rect x="1894" y="876.8" width="52" height="21.8" fill="#f2a27f"/><rect x="1894" y="855.6" width="52" height="21.8" fill="#f09b7a"/><rect x="1894" y="834.4" width="52" height="21.8" fill="#ec9475"/><rect x="1894" y="813.2" width="52" height="21.8" fill="#ea8d6f"/><rect x="1894" y="792.0" width="52" height="21.8" fill="#e6866a"/><rect x="1894" y="770.8" width="52" height="21.8" fill="#e47f65"/><rect x="1894" y="749.6" width="52" height="21.8" fill="#e07860"/><rect x="1894" y="728.4" width="52" height="21.8" fill="#de715a"/><rect x="1894" y="707.2" width="52" height="21.8" fill="#da6a55"/><rect x="1894" y="686.0" width="52" height="21.8" fill="#d86350"/><rect x="1894" y="664.8" width="52" height="21.8" fill="#d45c4b"/><rect x="1894" y="643.6" width="52" height="21.8" fill="#d15548"/><rect x="1894" y="622.4" width="52" height="21.8" fill="#cd4e44"/><rect x="1894" y="601.2" width="52" height="21.8" fill="#c94741"/><rect x="1894" y="580.0" width="52" height="21.8" fill="#c6403e"/><rect x="1894" y="558.8" width="52" height="21.8" fill="#c2383a"/><rect x="1894" y="537.6" width="52" height="21.8" fill="#bf3137"/><rect x="1894" y="516.4" width="52" height="21.8" fill="#bb2a34"/><rect x="1894" y="495.2" width="52" height="21.8" fill="#b72330"/><rect x="1894" y="474.0" width="52" height="21.8" fill="#b41c2d"/><rect x="1894" y="452.8" width="52" height="21.8" fill="#ae172a"/><rect x="1894" y="431.6" width="52" height="21.8" fill="#a71429"/><rect x="1894" y="410.4" width="52" height="21.8" fill="#9f1228"/><rect x="1894" y="389.2" width="52" height="21.8" fill="#981027"/><rect x="1894" y="368.0" width="52" height="21.8" fill="#900d26"/><rect x="1894" y="346.8" width="52" height="21.8" fill="#890b24"/><rect x="1894" y="325.6" width="52" height="21.8" fill="#810823"/><rect x="1894" y="304.4" width="52" height="21.8" fill="#7a0622"/><rect x="1894" y="283.2" width="52" height="21.8" fill="#720421"/><rect x="1894" y="281.9" width="52" height="1.9" fill="#6b0120"/></g>
<path d="M1894,282 L1919.5,177 L1945.5,282 Z" fill="#67001f"/>
<path d="M1894,2382 L1919.5,2487 L1945.5,2382 Z" fill="#053061"/>
<path d="M1894,282 L1919.5,177 L1945.5,282 L1945.5,2382 L1919.5,2487 L1894,2382 Z" fill="none" stroke="#000" stroke-width="2.8" stroke-linejoin="miter"/>
<line x1="1945" y1="282.0" x2="1960" y2="282.0" stroke="#000" stroke-width="2.8"/>
<text x="1977" y="300.5" font-size="53">35</text>
<line x1="1945" y1="474.0" x2="1960" y2="474.0" stroke="#000" stroke-width="2.8"/>
<text x="1977" y="492.5" font-size="53">30</text>
<line x1="1945" y1="686.0" x2="1960" y2="686.0" stroke="#000" stroke-width="2.8"/>
<text x="1977" y="704.5" font-size="53">25</text>
<line x1="1945" y1="898.0" x2="1960" y2="898.0" stroke="#000" stroke-width="2.8"/>
<text x="1977" y="916.5" font-size="53">20</text>
<line x1="1945" y1="1110.0" x2="1960" y2="1110.0" stroke="#000" stroke-width="2.8"/>
<text x="1977" y="1128.5" font-size="53">15</text>
<line x1="1945" y1="1322.0" x2="1960" y2="1322.0" stroke="#000" stroke-width="2.8"/>
<text x="1977" y="1340.5" font-size="53">10</text>
<line x1="1945" y1="1534.0" x2="1960" y2="1534.0" stroke="#000" stroke-width="2.8"/>
<text x="1977" y="1552.5" font-size="53">5</text>
<line x1="1945" y1="1746.0" x2="1960" y2="1746.0" stroke="#000" stroke-width="2.8"/>
<text x="1977" y="1764.5" font-size="53">0</text>
<line x1="1945" y1="1958.0" x2="1960" y2="1958.0" stroke="#000" stroke-width="2.8"/>
<text x="1977" y="1976.5" font-size="53">-5</text>
<line x1="1945" y1="2170.0" x2="1960" y2="2170.0" stroke="#000" stroke-width="2.8"/>
<text x="1977" y="2188.5" font-size="53">-10</text>
<line x1="1945" y1="2382.0" x2="1960" y2="2382.0" stroke="#000" stroke-width="2.8"/>
<text x="1977" y="2400.5" font-size="53">-15</text>
<text x="1863" y="175" font-size="53">(°C)</text>
<text x="722" y="268.5" font-size="45" text-anchor="middle" style="fill:#fff;stroke:#000;stroke-width:8.5;paint-order:stroke;stroke-linejoin:round">20</text>
<text x="1021" y="395.5" font-size="45" text-anchor="middle" style="fill:#fff;stroke:#000;stroke-width:8.5;paint-order:stroke;stroke-linejoin:round">24</text>
<text x="1121" y="425.5" font-size="45" text-anchor="middle" style="fill:#fff;stroke:#000;stroke-width:8.5;paint-order:stroke;stroke-linejoin:round">23</text>
<text x="1209" y="455.5" font-size="45" text-anchor="middle" style="fill:#fff;stroke:#000;stroke-width:8.5;paint-order:stroke;stroke-linejoin:round">24</text>
<text x="469" y="467.5" font-size="45" text-anchor="middle" style="fill:#fff;stroke:#000;stroke-width:8.5;paint-order:stroke;stroke-linejoin:round">5</text>
<text x="934" y="527.5" font-size="45" text-anchor="middle" style="fill:#fff;stroke:#000;stroke-width:8.5;paint-order:stroke;stroke-linejoin:round">24</text>
<text x="1255" y="620.5" font-size="45" text-anchor="middle" style="fill:#fff;stroke:#000;stroke-width:8.5;paint-order:stroke;stroke-linejoin:round">25</text>
<text x="324" y="629.5" font-size="45" text-anchor="middle" style="fill:#fff;stroke:#000;stroke-width:8.5;paint-order:stroke;stroke-linejoin:round">8</text>
<text x="1341" y="669.5" font-size="45" text-anchor="middle" style="fill:#fff;stroke:#000;stroke-width:8.5;paint-order:stroke;stroke-linejoin:round">23</text>
<text x="1481" y="705.5" font-size="45" text-anchor="middle" style="fill:#fff;stroke:#000;stroke-width:8.5;paint-order:stroke;stroke-linejoin:round">26</text>
<text x="955" y="726.5" font-size="45" text-anchor="middle" style="fill:#fff;stroke:#000;stroke-width:8.5;paint-order:stroke;stroke-linejoin:round">24</text>
<text x="1674" y="748.5" font-size="45" text-anchor="middle" style="fill:#fff;stroke:#000;stroke-width:8.5;paint-order:stroke;stroke-linejoin:round">22</text>
<text x="1531" y="791.5" font-size="45" text-anchor="middle" style="fill:#fff;stroke:#000;stroke-width:8.5;paint-order:stroke;stroke-linejoin:round">25</text>
<text x="1786" y="813.5" font-size="45" text-anchor="middle" style="fill:#fff;stroke:#000;stroke-width:8.5;paint-order:stroke;stroke-linejoin:round">23</text>
<text x="1798" y="857.5" font-size="45" text-anchor="middle" style="fill:#fff;stroke:#000;stroke-width:8.5;paint-order:stroke;stroke-linejoin:round">22</text>
<text x="1797" y="889.5" font-size="45" text-anchor="middle" style="fill:#fff;stroke:#000;stroke-width:8.5;paint-order:stroke;stroke-linejoin:round">24</text>
<text x="827" y="912.5" font-size="45" text-anchor="middle" style="fill:#fff;stroke:#000;stroke-width:8.5;paint-order:stroke;stroke-linejoin:round">24</text>
<text x="1768" y="944.5" font-size="45" text-anchor="middle" style="fill:#fff;stroke:#000;stroke-width:8.5;paint-order:stroke;stroke-linejoin:round">22</text>
<text x="695" y="953.5" font-size="45" text-anchor="middle" style="fill:#fff;stroke:#000;stroke-width:8.5;paint-order:stroke;stroke-linejoin:round">22</text>
<text x="1346" y="962.5" font-size="45" text-anchor="middle" style="fill:#fff;stroke:#000;stroke-width:8.5;paint-order:stroke;stroke-linejoin:round">25</text>
<text x="1723" y="984.5" font-size="45" text-anchor="middle" style="fill:#fff;stroke:#000;stroke-width:8.5;paint-order:stroke;stroke-linejoin:round">21</text>
<text x="387" y="1020.5" font-size="45" text-anchor="middle" style="fill:#fff;stroke:#000;stroke-width:8.5;paint-order:stroke;stroke-linejoin:round">14</text>
<text x="1677" y="1054.5" font-size="45" text-anchor="middle" style="fill:#fff;stroke:#000;stroke-width:8.5;paint-order:stroke;stroke-linejoin:round">23</text>
<text x="1086" y="1143.5" font-size="45" text-anchor="middle" style="fill:#fff;stroke:#000;stroke-width:8.5;paint-order:stroke;stroke-linejoin:round">23</text>
<text x="1361" y="1147.5" font-size="45" text-anchor="middle" style="fill:#fff;stroke:#000;stroke-width:8.5;paint-order:stroke;stroke-linejoin:round">17</text>
<text x="668" y="1170.5" font-size="45" text-anchor="middle" style="fill:#fff;stroke:#000;stroke-width:8.5;paint-order:stroke;stroke-linejoin:round">0</text>
<text x="1317" y="1179.5" font-size="45" text-anchor="middle" style="fill:#fff;stroke:#000;stroke-width:8.5;paint-order:stroke;stroke-linejoin:round">22</text>
<text x="1495" y="1286.5" font-size="45" text-anchor="middle" style="fill:#fff;stroke:#000;stroke-width:8.5;paint-order:stroke;stroke-linejoin:round">18</text>
<text x="1134" y="1305.5" font-size="45" text-anchor="middle" style="fill:#fff;stroke:#000;stroke-width:8.5;paint-order:stroke;stroke-linejoin:round">23</text>
<text x="1613" y="1300.5" font-size="45" text-anchor="middle" style="fill:#fff;stroke:#000;stroke-width:8.5;paint-order:stroke;stroke-linejoin:round">21</text>
<text x="1518" y="1384.5" font-size="45" text-anchor="middle" style="fill:#fff;stroke:#000;stroke-width:8.5;paint-order:stroke;stroke-linejoin:round">21</text>
<text x="1403" y="1407.5" font-size="45" text-anchor="middle" style="fill:#fff;stroke:#000;stroke-width:8.5;paint-order:stroke;stroke-linejoin:round">17</text>
<text x="1036" y="1466.5" font-size="45" text-anchor="middle" style="fill:#fff;stroke:#000;stroke-width:8.5;paint-order:stroke;stroke-linejoin:round">22</text>
<text x="1316" y="1468.5" font-size="45" text-anchor="middle" style="fill:#fff;stroke:#000;stroke-width:8.5;paint-order:stroke;stroke-linejoin:round">13</text>
<text x="1341" y="1543.5" font-size="45" text-anchor="middle" style="fill:#fff;stroke:#000;stroke-width:8.5;paint-order:stroke;stroke-linejoin:round">17</text>
<text x="1250" y="1624.5" font-size="45" text-anchor="middle" style="fill:#fff;stroke:#000;stroke-width:8.5;paint-order:stroke;stroke-linejoin:round">18</text>
<text x="588" y="1736.5" font-size="45" text-anchor="middle" style="fill:#fff;stroke:#000;stroke-width:8.5;paint-order:stroke;stroke-linejoin:round">6</text>
<text x="995" y="1781.5" font-size="45" text-anchor="middle" style="fill:#fff;stroke:#000;stroke-width:8.5;paint-order:stroke;stroke-linejoin:round">9</text>
<text x="1068" y="1784.5" font-size="45" text-anchor="middle" style="fill:#fff;stroke:#000;stroke-width:8.5;paint-order:stroke;stroke-linejoin:round">8</text>
</svg></body></html>
